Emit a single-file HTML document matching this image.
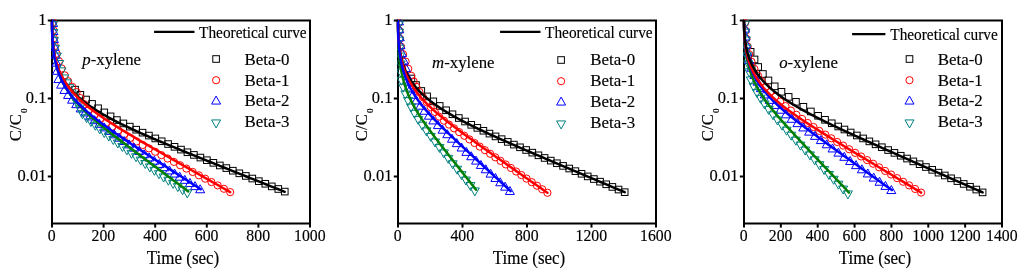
<!DOCTYPE html><html><head><meta charset="utf-8"><style>html,body{margin:0;padding:0;background:#fff;overflow:hidden}svg{display:block}text{-webkit-font-smoothing:antialiased}</style></head><body>
<svg width="1024" height="274" viewBox="0 0 1024 274" style="will-change:transform">
<rect width="1024" height="274" fill="#fff"/>
<clipPath id="c0"><rect x="46" y="20.0" width="270" height="207.0"/></clipPath>
<rect x="52" y="20.5" width="258" height="203.0" fill="none" stroke="#000" stroke-width="2"/>
<clipPath id="m0"><rect x="51" y="19.5" width="260" height="205.0"/></clipPath>
<g clip-path="url(#m0)"><rect x="71.75" y="86.35" width="6.60" height="6.60" fill="none" stroke="#000000" stroke-width="1.0"/><rect x="77.06" y="91.49" width="6.60" height="6.60" fill="none" stroke="#000000" stroke-width="1.0"/><rect x="82.76" y="96.22" width="6.60" height="6.60" fill="none" stroke="#000000" stroke-width="1.0"/><rect x="88.76" y="100.60" width="6.60" height="6.60" fill="none" stroke="#000000" stroke-width="1.0"/><rect x="94.79" y="104.95" width="6.60" height="6.60" fill="none" stroke="#000000" stroke-width="1.0"/><rect x="100.97" y="109.10" width="6.60" height="6.60" fill="none" stroke="#000000" stroke-width="1.0"/><rect x="107.27" y="113.04" width="6.60" height="6.60" fill="none" stroke="#000000" stroke-width="1.0"/><rect x="113.60" y="116.77" width="6.60" height="6.60" fill="none" stroke="#000000" stroke-width="1.0"/><rect x="120.05" y="120.14" width="6.60" height="6.60" fill="none" stroke="#000000" stroke-width="1.0"/><rect x="126.48" y="123.33" width="6.60" height="6.60" fill="none" stroke="#000000" stroke-width="1.0"/><rect x="132.89" y="126.40" width="6.60" height="6.60" fill="none" stroke="#000000" stroke-width="1.0"/><rect x="139.25" y="129.37" width="6.60" height="6.60" fill="none" stroke="#000000" stroke-width="1.0"/><rect x="145.61" y="132.27" width="6.60" height="6.60" fill="none" stroke="#000000" stroke-width="1.0"/><rect x="151.99" y="135.13" width="6.60" height="6.60" fill="none" stroke="#000000" stroke-width="1.0"/><rect x="158.39" y="137.96" width="6.60" height="6.60" fill="none" stroke="#000000" stroke-width="1.0"/><rect x="164.81" y="140.75" width="6.60" height="6.60" fill="none" stroke="#000000" stroke-width="1.0"/><rect x="171.23" y="143.53" width="6.60" height="6.60" fill="none" stroke="#000000" stroke-width="1.0"/><rect x="177.67" y="146.29" width="6.60" height="6.60" fill="none" stroke="#000000" stroke-width="1.0"/><rect x="184.14" y="148.96" width="6.60" height="6.60" fill="none" stroke="#000000" stroke-width="1.0"/><rect x="190.61" y="151.61" width="6.60" height="6.60" fill="none" stroke="#000000" stroke-width="1.0"/><rect x="197.09" y="154.26" width="6.60" height="6.60" fill="none" stroke="#000000" stroke-width="1.0"/><rect x="203.58" y="156.89" width="6.60" height="6.60" fill="none" stroke="#000000" stroke-width="1.0"/><rect x="210.06" y="159.53" width="6.60" height="6.60" fill="none" stroke="#000000" stroke-width="1.0"/><rect x="216.55" y="162.15" width="6.60" height="6.60" fill="none" stroke="#000000" stroke-width="1.0"/><rect x="223.04" y="164.78" width="6.60" height="6.60" fill="none" stroke="#000000" stroke-width="1.0"/><rect x="229.53" y="167.40" width="6.60" height="6.60" fill="none" stroke="#000000" stroke-width="1.0"/><rect x="236.02" y="170.01" width="6.60" height="6.60" fill="none" stroke="#000000" stroke-width="1.0"/><rect x="242.52" y="172.63" width="6.60" height="6.60" fill="none" stroke="#000000" stroke-width="1.0"/><rect x="249.01" y="175.24" width="6.60" height="6.60" fill="none" stroke="#000000" stroke-width="1.0"/><rect x="255.50" y="177.86" width="6.60" height="6.60" fill="none" stroke="#000000" stroke-width="1.0"/><rect x="262.00" y="180.47" width="6.60" height="6.60" fill="none" stroke="#000000" stroke-width="1.0"/><rect x="268.49" y="183.08" width="6.60" height="6.60" fill="none" stroke="#000000" stroke-width="1.0"/><rect x="274.99" y="185.69" width="6.60" height="6.60" fill="none" stroke="#000000" stroke-width="1.0"/><rect x="281.48" y="188.30" width="6.60" height="6.60" fill="none" stroke="#000000" stroke-width="1.0"/><circle cx="53.04" cy="22.21" r="3.6" fill="none" stroke="#ff0000" stroke-width="1.0"/><circle cx="53.34" cy="30.18" r="3.6" fill="none" stroke="#ff0000" stroke-width="1.0"/><circle cx="53.88" cy="38.11" r="3.6" fill="none" stroke="#ff0000" stroke-width="1.0"/><circle cx="54.81" cy="45.99" r="3.6" fill="none" stroke="#ff0000" stroke-width="1.0"/><circle cx="56.58" cy="53.68" r="3.6" fill="none" stroke="#ff0000" stroke-width="1.0"/><circle cx="58.92" cy="61.14" r="3.6" fill="none" stroke="#ff0000" stroke-width="1.0"/><circle cx="61.58" cy="68.37" r="3.6" fill="none" stroke="#ff0000" stroke-width="1.0"/><circle cx="64.74" cy="75.36" r="3.6" fill="none" stroke="#ff0000" stroke-width="1.0"/><circle cx="68.18" cy="81.24" r="3.6" fill="none" stroke="#ff0000" stroke-width="1.0"/><circle cx="72.16" cy="86.79" r="3.6" fill="none" stroke="#ff0000" stroke-width="1.0"/><circle cx="76.61" cy="92.02" r="3.6" fill="none" stroke="#ff0000" stroke-width="1.0"/><circle cx="80.39" cy="98.05" r="3.6" fill="none" stroke="#ff0000" stroke-width="1.0"/><circle cx="84.39" cy="104.16" r="3.6" fill="none" stroke="#ff0000" stroke-width="1.0"/><circle cx="88.58" cy="110.34" r="3.6" fill="none" stroke="#ff0000" stroke-width="1.0"/><circle cx="94.31" cy="114.68" r="3.6" fill="none" stroke="#ff0000" stroke-width="1.0"/><circle cx="100.16" cy="118.82" r="3.6" fill="none" stroke="#ff0000" stroke-width="1.0"/><circle cx="106.10" cy="122.82" r="3.6" fill="none" stroke="#ff0000" stroke-width="1.0"/><circle cx="112.10" cy="126.69" r="3.6" fill="none" stroke="#ff0000" stroke-width="1.0"/><circle cx="118.14" cy="130.47" r="3.6" fill="none" stroke="#ff0000" stroke-width="1.0"/><circle cx="124.22" cy="134.18" r="3.6" fill="none" stroke="#ff0000" stroke-width="1.0"/><circle cx="130.33" cy="137.84" r="3.6" fill="none" stroke="#ff0000" stroke-width="1.0"/><circle cx="136.45" cy="141.46" r="3.6" fill="none" stroke="#ff0000" stroke-width="1.0"/><circle cx="142.64" cy="144.96" r="3.6" fill="none" stroke="#ff0000" stroke-width="1.0"/><circle cx="148.88" cy="148.37" r="3.6" fill="none" stroke="#ff0000" stroke-width="1.0"/><circle cx="155.13" cy="151.76" r="3.6" fill="none" stroke="#ff0000" stroke-width="1.0"/><circle cx="161.38" cy="155.14" r="3.6" fill="none" stroke="#ff0000" stroke-width="1.0"/><circle cx="167.63" cy="158.51" r="3.6" fill="none" stroke="#ff0000" stroke-width="1.0"/><circle cx="173.89" cy="161.88" r="3.6" fill="none" stroke="#ff0000" stroke-width="1.0"/><circle cx="180.14" cy="165.24" r="3.6" fill="none" stroke="#ff0000" stroke-width="1.0"/><circle cx="186.40" cy="168.59" r="3.6" fill="none" stroke="#ff0000" stroke-width="1.0"/><circle cx="192.66" cy="171.95" r="3.6" fill="none" stroke="#ff0000" stroke-width="1.0"/><circle cx="198.92" cy="175.31" r="3.6" fill="none" stroke="#ff0000" stroke-width="1.0"/><circle cx="205.17" cy="178.68" r="3.6" fill="none" stroke="#ff0000" stroke-width="1.0"/><circle cx="211.43" cy="182.04" r="3.6" fill="none" stroke="#ff0000" stroke-width="1.0"/><circle cx="217.68" cy="185.40" r="3.6" fill="none" stroke="#ff0000" stroke-width="1.0"/><circle cx="223.94" cy="188.76" r="3.6" fill="none" stroke="#ff0000" stroke-width="1.0"/><circle cx="230.20" cy="192.13" r="3.6" fill="none" stroke="#ff0000" stroke-width="1.0"/><polygon points="53.08,18.55 57.58,26.55 48.58,26.55" fill="none" stroke="#0000ff" stroke-width="1.0"/><polygon points="53.39,26.51 57.89,34.51 48.89,34.51" fill="none" stroke="#0000ff" stroke-width="1.0"/><polygon points="53.90,34.46 58.40,42.46 49.40,42.46" fill="none" stroke="#0000ff" stroke-width="1.0"/><polygon points="54.67,42.36 59.17,50.36 50.17,50.36" fill="none" stroke="#0000ff" stroke-width="1.0"/><polygon points="55.72,50.20 60.22,58.20 51.22,58.20" fill="none" stroke="#0000ff" stroke-width="1.0"/><polygon points="56.54,58.11 61.04,66.11 52.04,66.11" fill="none" stroke="#0000ff" stroke-width="1.0"/><polygon points="57.04,66.31 61.54,74.31 52.54,74.31" fill="none" stroke="#0000ff" stroke-width="1.0"/><polygon points="58.40,74.59 62.90,82.59 53.90,82.59" fill="none" stroke="#0000ff" stroke-width="1.0"/><polygon points="61.15,80.17 65.65,88.17 56.65,88.17" fill="none" stroke="#0000ff" stroke-width="1.0"/><polygon points="64.44,85.45 68.94,93.45 59.94,93.45" fill="none" stroke="#0000ff" stroke-width="1.0"/><polygon points="68.09,90.45 72.59,98.45 63.59,98.45" fill="none" stroke="#0000ff" stroke-width="1.0"/><polygon points="72.04,95.19 76.54,103.19 67.54,103.19" fill="none" stroke="#0000ff" stroke-width="1.0"/><polygon points="76.24,99.67 80.74,107.67 71.74,107.67" fill="none" stroke="#0000ff" stroke-width="1.0"/><polygon points="80.64,103.92 85.14,111.92 76.14,111.92" fill="none" stroke="#0000ff" stroke-width="1.0"/><polygon points="85.18,107.98 89.68,115.98 80.68,115.98" fill="none" stroke="#0000ff" stroke-width="1.0"/><polygon points="89.83,111.90 94.33,119.90 85.33,119.90" fill="none" stroke="#0000ff" stroke-width="1.0"/><polygon points="94.57,115.67 99.07,123.67 90.07,123.67" fill="none" stroke="#0000ff" stroke-width="1.0"/><polygon points="99.39,119.33 103.89,127.33 94.89,127.33" fill="none" stroke="#0000ff" stroke-width="1.0"/><polygon points="104.27,122.89 108.77,130.89 99.77,130.89" fill="none" stroke="#0000ff" stroke-width="1.0"/><polygon points="109.19,126.38 113.69,134.38 104.69,134.38" fill="none" stroke="#0000ff" stroke-width="1.0"/><polygon points="114.14,129.81 118.64,137.81 109.64,137.81" fill="none" stroke="#0000ff" stroke-width="1.0"/><polygon points="119.11,133.19 123.61,141.19 114.61,141.19" fill="none" stroke="#0000ff" stroke-width="1.0"/><polygon points="124.11,136.54 128.61,144.54 119.61,144.54" fill="none" stroke="#0000ff" stroke-width="1.0"/><polygon points="129.12,139.86 133.62,147.86 124.62,147.86" fill="none" stroke="#0000ff" stroke-width="1.0"/><polygon points="134.14,143.16 138.64,151.16 129.64,151.16" fill="none" stroke="#0000ff" stroke-width="1.0"/><polygon points="139.16,146.45 143.66,154.45 134.66,154.45" fill="none" stroke="#0000ff" stroke-width="1.0"/><polygon points="144.20,149.72 148.70,157.72 139.70,157.72" fill="none" stroke="#0000ff" stroke-width="1.0"/><polygon points="149.24,152.98 153.74,160.98 144.74,160.98" fill="none" stroke="#0000ff" stroke-width="1.0"/><polygon points="154.28,156.24 158.78,164.24 149.78,164.24" fill="none" stroke="#0000ff" stroke-width="1.0"/><polygon points="159.32,159.49 163.82,167.49 154.82,167.49" fill="none" stroke="#0000ff" stroke-width="1.0"/><polygon points="164.37,162.74 168.87,170.74 159.87,170.74" fill="none" stroke="#0000ff" stroke-width="1.0"/><polygon points="169.45,165.93 173.95,173.93 164.95,173.93" fill="none" stroke="#0000ff" stroke-width="1.0"/><polygon points="174.57,169.07 179.07,177.07 170.07,177.07" fill="none" stroke="#0000ff" stroke-width="1.0"/><polygon points="179.69,172.20 184.19,180.20 175.19,180.20" fill="none" stroke="#0000ff" stroke-width="1.0"/><polygon points="184.81,175.34 189.31,183.34 180.31,183.34" fill="none" stroke="#0000ff" stroke-width="1.0"/><polygon points="189.92,178.48 194.42,186.48 185.42,186.48" fill="none" stroke="#0000ff" stroke-width="1.0"/><polygon points="195.04,181.61 199.54,189.61 190.54,189.61" fill="none" stroke="#0000ff" stroke-width="1.0"/><polygon points="200.16,184.75 204.66,192.75 195.66,192.75" fill="none" stroke="#0000ff" stroke-width="1.0"/><polygon points="53.09,29.58 57.59,21.58 48.59,21.58" fill="none" stroke="#008080" stroke-width="1.0"/><polygon points="53.41,37.54 57.91,29.54 48.91,29.54" fill="none" stroke="#008080" stroke-width="1.0"/><polygon points="53.95,45.48 58.45,37.48 49.45,37.48" fill="none" stroke="#008080" stroke-width="1.0"/><polygon points="55.01,53.35 59.51,45.35 50.51,45.35" fill="none" stroke="#008080" stroke-width="1.0"/><polygon points="56.88,61.04 61.38,53.04 52.38,53.04" fill="none" stroke="#008080" stroke-width="1.0"/><polygon points="59.23,68.49 63.73,60.49 54.73,60.49" fill="none" stroke="#008080" stroke-width="1.0"/><polygon points="61.51,75.84 66.01,67.84 57.01,67.84" fill="none" stroke="#008080" stroke-width="1.0"/><polygon points="64.33,82.96 68.83,74.96 59.83,74.96" fill="none" stroke="#008080" stroke-width="1.0"/><polygon points="66.76,87.85 71.26,79.85 62.26,79.85" fill="none" stroke="#008080" stroke-width="1.0"/><polygon points="69.35,92.68 73.85,84.68 64.85,84.68" fill="none" stroke="#008080" stroke-width="1.0"/><polygon points="71.61,97.81 76.11,89.81 67.11,89.81" fill="none" stroke="#008080" stroke-width="1.0"/><polygon points="74.22,102.87 78.72,94.87 69.72,94.87" fill="none" stroke="#008080" stroke-width="1.0"/><polygon points="77.12,107.83 81.62,99.83 72.62,99.83" fill="none" stroke="#008080" stroke-width="1.0"/><polygon points="79.78,113.17 84.28,105.17 75.28,105.17" fill="none" stroke="#008080" stroke-width="1.0"/><polygon points="82.46,118.67 86.96,110.67 77.96,110.67" fill="none" stroke="#008080" stroke-width="1.0"/><polygon points="86.62,122.70 91.12,114.70 82.12,114.70" fill="none" stroke="#008080" stroke-width="1.0"/><polygon points="90.95,126.53 95.45,118.53 86.45,118.53" fill="none" stroke="#008080" stroke-width="1.0"/><polygon points="95.34,130.26 99.84,122.26 90.84,122.26" fill="none" stroke="#008080" stroke-width="1.0"/><polygon points="99.78,133.90 104.28,125.90 95.28,125.90" fill="none" stroke="#008080" stroke-width="1.0"/><polygon points="104.26,137.49 108.76,129.49 99.76,129.49" fill="none" stroke="#008080" stroke-width="1.0"/><polygon points="108.77,141.03 113.27,133.03 104.27,133.03" fill="none" stroke="#008080" stroke-width="1.0"/><polygon points="113.29,144.52 117.79,136.52 108.79,136.52" fill="none" stroke="#008080" stroke-width="1.0"/><polygon points="117.84,147.99 122.34,139.99 113.34,139.99" fill="none" stroke="#008080" stroke-width="1.0"/><polygon points="122.39,151.44 126.89,143.44 117.89,143.44" fill="none" stroke="#008080" stroke-width="1.0"/><polygon points="126.95,154.88 131.45,146.88 122.45,146.88" fill="none" stroke="#008080" stroke-width="1.0"/><polygon points="131.52,158.30 136.02,150.30 127.02,150.30" fill="none" stroke="#008080" stroke-width="1.0"/><polygon points="136.09,161.71 140.59,153.71 131.59,153.71" fill="none" stroke="#008080" stroke-width="1.0"/><polygon points="140.67,165.11 145.17,157.11 136.17,157.11" fill="none" stroke="#008080" stroke-width="1.0"/><polygon points="145.25,168.51 149.75,160.51 140.75,160.51" fill="none" stroke="#008080" stroke-width="1.0"/><polygon points="149.83,171.91 154.33,163.91 145.33,163.91" fill="none" stroke="#008080" stroke-width="1.0"/><polygon points="154.41,175.30 158.91,167.30 149.91,167.30" fill="none" stroke="#008080" stroke-width="1.0"/><polygon points="158.99,178.69 163.49,170.69 154.49,170.69" fill="none" stroke="#008080" stroke-width="1.0"/><polygon points="163.63,182.00 168.13,174.00 159.13,174.00" fill="none" stroke="#008080" stroke-width="1.0"/><polygon points="168.36,185.19 172.86,177.19 163.86,177.19" fill="none" stroke="#008080" stroke-width="1.0"/><polygon points="173.10,188.38 177.60,180.38 168.60,180.38" fill="none" stroke="#008080" stroke-width="1.0"/><polygon points="177.83,191.57 182.33,183.57 173.33,183.57" fill="none" stroke="#008080" stroke-width="1.0"/><polygon points="182.56,194.76 187.06,186.76 178.06,186.76" fill="none" stroke="#008080" stroke-width="1.0"/><polygon points="187.30,197.95 191.80,189.95 182.80,189.95" fill="none" stroke="#008080" stroke-width="1.0"/></g>
<g clip-path="url(#c0)"><polyline points="52.00,20.50 52.01,23.75 52.03,25.05 52.04,26.04 52.05,26.85 52.07,27.56 52.08,28.20 52.09,28.78 52.11,29.31 52.12,29.81 52.13,30.28 52.15,30.72 52.16,31.14 52.17,31.54 52.19,31.92 52.20,32.29 52.21,32.64 52.22,32.98 52.24,33.31 52.25,33.63 52.26,33.93 52.28,34.23 52.29,34.52 52.30,34.81 52.32,35.08 52.33,35.35 52.34,35.61 52.36,35.87 52.37,36.12 52.38,36.36 52.40,36.60 52.41,36.84 52.42,37.07 52.44,37.29 52.45,37.51 52.46,37.73 52.48,37.94 52.49,38.15 52.50,38.36 52.52,38.56 52.52,38.64 52.53,38.72 52.53,38.80 52.54,38.89 52.54,38.97 52.55,39.05 52.55,39.13 52.56,39.21 52.57,39.30 52.57,39.38 52.58,39.46 52.58,39.55 52.59,39.63 52.60,39.71 52.60,39.80 52.61,39.88 52.61,39.97 52.62,40.06 52.63,40.14 52.63,40.23 52.64,40.31 52.65,40.40 52.65,40.49 52.66,40.58 52.67,40.66 52.67,40.75 52.68,40.84 52.69,40.93 52.69,41.02 52.70,41.11 52.71,41.20 52.72,41.29 52.72,41.38 52.73,41.47 52.74,41.56 52.75,41.65 52.75,41.74 52.76,41.83 52.77,41.93 52.78,42.02 52.78,42.11 52.79,42.20 52.80,42.30 52.81,42.39 52.82,42.49 52.83,42.58 52.83,42.68 52.84,42.77 52.85,42.87 52.86,42.96 52.87,43.06 52.88,43.16 52.89,43.25 52.90,43.35 52.90,43.45 52.91,43.55 52.92,43.64 52.93,43.74 52.94,43.84 52.95,43.94 52.96,44.04 52.97,44.14 52.98,44.24 52.99,44.34 53.00,44.44 53.01,44.55 53.02,44.65 53.03,44.75 53.04,44.85 53.05,44.95 53.06,45.06 53.08,45.16 53.09,45.27 53.10,45.37 53.11,45.47 53.12,45.58 53.13,45.68 53.14,45.79 53.16,45.90 53.17,46.00 53.18,46.11 53.19,46.22 53.20,46.32 53.22,46.43 53.23,46.54 53.24,46.65 53.25,46.76 53.27,46.87 53.28,46.98 53.29,47.09 53.31,47.20 53.32,47.31 53.33,47.42 53.35,47.53 53.36,47.64 53.37,47.75 53.39,47.86 53.40,47.98 53.42,48.09 53.43,48.20 53.45,48.32 53.46,48.43 53.48,48.55 53.49,48.66 53.51,48.78 53.52,48.89 53.54,49.01 53.55,49.13 53.57,49.24 53.59,49.36 53.60,49.48 53.62,49.59 53.63,49.71 53.65,49.83 53.67,49.95 53.69,50.07 53.70,50.19 53.72,50.31 53.74,50.43 53.76,50.55 53.77,50.67 53.79,50.79 53.81,50.92 53.83,51.04 53.85,51.16 53.87,51.28 53.89,51.41 53.90,51.53 53.92,51.66 53.94,51.78 53.96,51.91 53.98,52.03 54.00,52.16 54.02,52.28 54.05,52.41 54.07,52.54 54.09,52.66 54.11,52.79 54.13,52.92 54.15,53.05 54.17,53.18 54.20,53.30 54.22,53.43 54.24,53.56 54.27,53.69 54.29,53.82 54.31,53.96 54.34,54.09 54.36,54.22 54.38,54.35 54.41,54.48 54.43,54.62 54.46,54.75 54.48,54.88 54.51,55.02 54.53,55.15 54.56,55.29 54.59,55.42 54.61,55.56 54.64,55.69 54.67,55.83 54.69,55.97 54.72,56.10 54.75,56.24 54.78,56.38 54.81,56.52 54.84,56.65 54.86,56.79 54.89,56.93 54.92,57.07 54.95,57.21 54.98,57.35 55.01,57.49 55.05,57.64 55.08,57.78 55.11,57.92 55.14,58.06 55.17,58.21 55.20,58.35 55.24,58.49 55.27,58.64 55.30,58.78 55.34,58.93 55.37,59.07 55.41,59.22 55.44,59.36 55.48,59.51 55.51,59.66 55.55,59.80 55.59,59.95 55.62,60.10 55.66,60.25 55.70,60.39 55.73,60.54 55.77,60.69 55.81,60.84 55.85,60.99 55.89,61.14 55.93,61.30 55.97,61.45 56.01,61.60 56.05,61.75 56.09,61.90 56.14,62.06 56.18,62.21 56.22,62.36 56.26,62.52 56.31,62.67 56.35,62.83 56.40,62.98 56.44,63.14 56.49,63.29 56.53,63.45 56.58,63.61 56.63,63.77 56.67,63.92 56.72,64.08 56.77,64.24 56.82,64.40 56.87,64.56 56.92,64.72 56.97,64.88 57.02,65.04 57.07,65.20 57.12,65.36 57.18,65.52 57.23,65.69 57.28,65.85 57.34,66.01 57.39,66.17 57.45,66.34 57.50,66.50 57.56,66.67 57.62,66.83 57.67,67.00 57.73,67.16 57.79,67.33 57.85,67.50 57.91,67.66 57.97,67.83 58.03,68.00 58.09,68.17 58.16,68.34 58.22,68.50 58.28,68.67 58.35,68.84 58.41,69.01 58.48,69.18 58.55,69.36 58.61,69.53 58.68,69.70 58.75,69.87 58.82,70.04 58.89,70.22 58.96,70.39 59.03,70.56 59.10,70.74 59.18,70.91 59.25,71.09 59.32,71.26 59.40,71.44 59.47,71.62 59.55,71.79 59.63,71.97 59.71,72.15 59.79,72.33 59.87,72.51 59.95,72.68 60.03,72.86 60.11,73.04 60.19,73.22 60.28,73.41 60.36,73.59 60.45,73.77 60.53,73.95 60.62,74.13 60.71,74.32 60.80,74.50 60.89,74.68 60.98,74.87 61.07,75.05 61.17,75.24 61.26,75.42 61.35,75.61 61.45,75.79 61.55,75.98 61.65,76.17 61.74,76.35 61.84,76.54 61.95,76.73 62.05,76.92 62.15,77.11 62.25,77.30 62.36,77.49 62.47,77.68 62.57,77.87 62.68,78.06 62.79,78.26 62.90,78.45 63.01,78.64 63.13,78.83 63.24,79.03 63.36,79.22 63.47,79.42 63.59,79.61 63.71,79.81 63.83,80.00 63.95,80.20 64.07,80.40 64.20,80.60 64.32,80.79 64.45,80.99 64.58,81.19 64.70,81.39 64.84,81.59 64.97,81.79 65.10,81.99 65.23,82.19 65.37,82.40 65.51,82.60 65.65,82.80 65.79,83.00 65.93,83.21 66.07,83.41 66.21,83.62 66.36,83.82 66.51,84.03 66.66,84.23 66.81,84.44 66.96,84.65 67.11,84.86 67.27,85.06 67.42,85.27 67.58,85.48 67.74,85.69 67.90,85.90 68.07,86.11 68.23,86.32 68.40,86.54 68.56,86.75 68.73,86.96 68.91,87.18 69.08,87.39 69.25,87.60 69.43,87.82 69.61,88.03 69.79,88.25 69.97,88.47 70.16,88.68 70.34,88.90 70.53,89.12 70.72,89.34 70.91,89.56 71.11,89.78 71.30,90.00 71.50,90.22 71.70,90.44 71.90,90.66 72.11,90.89 72.31,91.11 72.52,91.34 72.73,91.56 72.95,91.79 73.16,92.01 73.38,92.24 73.60,92.46 73.82,92.69 74.04,92.92 74.27,93.15 74.50,93.38 74.73,93.61 74.96,93.84 75.20,94.07 75.43,94.30 75.67,94.54 75.92,94.77 76.16,95.00 76.41,95.24 76.66,95.47 76.91,95.71 77.17,95.95 77.43,96.18 77.69,96.42 77.95,96.66 78.22,96.90 78.49,97.14 78.76,97.38 79.03,97.62 79.31,97.86 79.59,98.11 79.87,98.35 80.16,98.59 80.45,98.84 80.74,99.08 81.03,99.33 81.33,99.58 81.63,99.83 81.93,100.07 82.24,100.32 82.55,100.57 82.86,100.82 83.18,101.08 83.50,101.33 83.82,101.58 84.15,101.84 84.48,102.09 84.81,102.35 85.15,102.60 85.49,102.86 85.83,103.12 86.18,103.38 86.53,103.64 86.88,103.90 87.24,104.16 87.60,104.42 87.97,104.69 88.34,104.95 88.71,105.22 89.09,105.48 89.47,105.75 89.85,106.02 90.24,106.29 90.63,106.56 91.03,106.83 91.43,107.10 91.83,107.37 92.24,107.65 92.65,107.92 93.07,108.20 93.49,108.47 93.92,108.75 94.35,109.03 94.78,109.31 95.22,109.59 95.66,109.87 96.11,110.16 96.56,110.44 97.02,110.73 97.48,111.01 97.95,111.30 98.42,111.59 98.90,111.88 99.38,112.17 99.86,112.46 100.35,112.76 100.85,113.05 101.35,113.35 101.86,113.64 102.37,113.94 102.88,114.24 103.41,114.54 103.93,114.84 104.47,115.15 105.00,115.45 105.55,115.76 106.10,116.07 106.65,116.38 107.21,116.69 107.78,117.00 108.35,117.31 108.93,117.63 109.51,117.94 110.10,118.26 110.70,118.58 111.30,118.90 111.91,119.22 112.52,119.54 113.14,119.87 113.77,120.20 114.40,120.53 115.04,120.86 115.69,121.19 116.34,121.52 117.00,121.86 117.67,122.19 118.34,122.53 119.02,122.87 119.71,123.22 120.40,123.56 121.11,123.91 121.81,124.26 122.53,124.61 123.25,124.96 123.98,125.31 124.72,125.67 125.47,126.03 126.22,126.39 126.98,126.75 127.75,127.11 128.53,127.48 129.31,127.85 130.11,128.22 130.91,128.59 131.72,128.97 132.53,129.35 133.36,129.73 134.19,130.11 135.04,130.50 135.89,130.88 136.75,131.27 137.62,131.67 138.50,132.06 139.38,132.46 140.28,132.86 141.18,133.27 142.10,133.67 143.02,134.08 143.96,134.50 144.90,134.91 145.85,135.33 146.81,135.75 147.79,136.17 148.77,136.60 149.76,137.03 150.76,137.47 151.78,137.90 152.80,138.34 153.83,138.79 154.88,139.23 155.93,139.69 157.00,140.14 158.07,140.60 159.16,141.06 160.26,141.52 161.37,141.99 162.49,142.46 163.63,142.94 164.77,143.42 165.93,143.91 167.10,144.39 168.28,144.89 169.47,145.38 170.67,145.88 171.89,146.39 173.12,146.90 174.36,147.41 175.62,147.93 176.88,148.45 178.16,148.98 179.46,149.51 180.77,150.05 182.09,150.59 183.42,151.14 184.77,151.69 186.13,152.24 187.51,152.81 188.89,153.37 190.30,153.94 191.72,154.52 193.15,155.10 194.60,155.69 196.06,156.28 197.54,156.88 199.03,157.49 200.54,158.10 202.06,158.71 203.60,159.34 205.15,159.96 206.72,160.60 208.31,161.24 209.91,161.88 211.53,162.53 213.17,163.19 214.82,163.86 216.49,164.53 218.18,165.21 219.88,165.89 221.60,166.58 223.34,167.28 225.10,167.99 226.88,168.70 228.67,169.42 230.48,170.14 232.31,170.88 234.16,171.62 236.03,172.36 237.92,173.12 239.82,173.88 241.75,174.65 243.69,175.43 245.66,176.22 247.65,177.01 249.65,177.81 251.68,178.62 253.73,179.44 255.80,180.27 257.89,181.10 260.00,181.95 262.13,182.80 264.28,183.66 266.46,184.53 268.66,185.41 270.88,186.29 273.13,187.19 275.39,188.09 277.69,189.01 280.00,189.93 282.34,190.86 284.70,191.81" fill="none" stroke="#000000" stroke-width="2.5" stroke-linejoin="round" stroke-linecap="round"/><polyline points="52.00,20.50 52.01,23.94 52.03,25.32 52.04,26.36 52.05,27.22 52.07,27.97 52.08,28.65 52.09,29.26 52.11,29.83 52.12,30.35 52.13,30.85 52.15,31.32 52.16,31.76 52.17,32.18 52.19,32.59 52.20,32.97 52.21,33.35 52.22,33.71 52.24,34.05 52.25,34.39 52.26,34.72 52.28,35.03 52.29,35.34 52.30,35.64 52.32,35.93 52.33,36.21 52.34,36.49 52.36,36.76 52.37,37.03 52.38,37.29 52.40,37.54 52.41,37.79 52.42,38.03 52.44,38.27 52.45,38.50 52.46,38.74 52.48,38.96 52.49,39.18 52.50,39.40 52.52,39.62 52.52,39.70 52.53,39.77 52.53,39.85 52.54,39.93 52.54,40.01 52.55,40.09 52.55,40.17 52.56,40.25 52.56,40.33 52.57,40.41 52.57,40.49 52.58,40.57 52.58,40.65 52.59,40.73 52.59,40.81 52.60,40.89 52.60,40.97 52.61,41.06 52.62,41.14 52.62,41.22 52.63,41.30 52.63,41.39 52.64,41.47 52.65,41.56 52.65,41.64 52.66,41.72 52.66,41.81 52.67,41.89 52.68,41.98 52.68,42.07 52.69,42.15 52.70,42.24 52.70,42.32 52.71,42.41 52.71,42.50 52.72,42.59 52.73,42.67 52.73,42.76 52.74,42.85 52.75,42.94 52.76,43.03 52.76,43.12 52.77,43.21 52.78,43.30 52.78,43.39 52.79,43.48 52.80,43.57 52.81,43.66 52.81,43.75 52.82,43.84 52.83,43.93 52.84,44.02 52.85,44.12 52.85,44.21 52.86,44.30 52.87,44.40 52.88,44.49 52.89,44.58 52.89,44.68 52.90,44.77 52.91,44.87 52.92,44.96 52.93,45.06 52.94,45.15 52.94,45.25 52.95,45.35 52.96,45.44 52.97,45.54 52.98,45.64 52.99,45.73 53.00,45.83 53.01,45.93 53.02,46.03 53.03,46.13 53.04,46.23 53.05,46.33 53.06,46.43 53.07,46.53 53.08,46.63 53.09,46.73 53.10,46.83 53.11,46.93 53.12,47.03 53.13,47.13 53.14,47.24 53.15,47.34 53.16,47.44 53.17,47.54 53.18,47.65 53.19,47.75 53.20,47.86 53.21,47.96 53.23,48.07 53.24,48.17 53.25,48.28 53.26,48.38 53.27,48.49 53.28,48.60 53.30,48.70 53.31,48.81 53.32,48.92 53.33,49.02 53.35,49.13 53.36,49.24 53.37,49.35 53.38,49.46 53.40,49.57 53.41,49.68 53.42,49.79 53.44,49.90 53.45,50.01 53.46,50.12 53.48,50.23 53.49,50.34 53.51,50.46 53.52,50.57 53.53,50.68 53.55,50.79 53.56,50.91 53.58,51.02 53.59,51.13 53.61,51.25 53.62,51.36 53.64,51.48 53.65,51.59 53.67,51.71 53.68,51.83 53.70,51.94 53.71,52.06 53.73,52.18 53.75,52.29 53.76,52.41 53.78,52.53 53.80,52.65 53.81,52.77 53.83,52.89 53.85,53.01 53.86,53.13 53.88,53.25 53.90,53.37 53.92,53.49 53.94,53.61 53.95,53.73 53.97,53.85 53.99,53.97 54.01,54.10 54.03,54.22 54.05,54.34 54.07,54.47 54.08,54.59 54.10,54.71 54.12,54.84 54.14,54.96 54.16,55.09 54.18,55.21 54.20,55.34 54.23,55.47 54.25,55.59 54.27,55.72 54.29,55.85 54.31,55.98 54.33,56.10 54.35,56.23 54.37,56.36 54.40,56.49 54.42,56.62 54.44,56.75 54.46,56.88 54.49,57.01 54.51,57.14 54.53,57.27 54.56,57.41 54.58,57.54 54.61,57.67 54.63,57.80 54.66,57.94 54.68,58.07 54.71,58.20 54.73,58.34 54.76,58.47 54.78,58.61 54.81,58.74 54.83,58.88 54.86,59.01 54.89,59.15 54.91,59.29 54.94,59.42 54.97,59.56 55.00,59.70 55.03,59.84 55.05,59.98 55.08,60.12 55.11,60.26 55.14,60.39 55.17,60.54 55.20,60.68 55.23,60.82 55.26,60.96 55.29,61.10 55.32,61.24 55.35,61.38 55.38,61.53 55.41,61.67 55.45,61.81 55.48,61.96 55.51,62.10 55.54,62.25 55.58,62.39 55.61,62.54 55.64,62.68 55.68,62.83 55.71,62.97 55.75,63.12 55.78,63.27 55.82,63.42 55.85,63.56 55.89,63.71 55.93,63.86 55.96,64.01 56.00,64.16 56.04,64.31 56.07,64.46 56.11,64.61 56.15,64.76 56.19,64.91 56.23,65.06 56.27,65.22 56.31,65.37 56.35,65.52 56.39,65.68 56.43,65.83 56.47,65.98 56.51,66.14 56.56,66.29 56.60,66.45 56.64,66.60 56.69,66.76 56.73,66.92 56.77,67.07 56.82,67.23 56.86,67.39 56.91,67.55 56.95,67.71 57.00,67.86 57.05,68.02 57.09,68.18 57.14,68.34 57.19,68.50 57.24,68.66 57.29,68.83 57.34,68.99 57.39,69.15 57.44,69.31 57.49,69.48 57.54,69.64 57.59,69.80 57.64,69.97 57.70,70.13 57.75,70.30 57.80,70.46 57.86,70.63 57.91,70.79 57.97,70.96 58.02,71.13 58.08,71.30 58.14,71.46 58.19,71.63 58.25,71.80 58.31,71.97 58.37,72.14 58.43,72.31 58.49,72.48 58.55,72.65 58.61,72.82 58.67,72.99 58.74,73.17 58.80,73.34 58.86,73.51 58.93,73.69 58.99,73.86 59.06,74.04 59.12,74.21 59.19,74.39 59.26,74.56 59.32,74.74 59.39,74.91 59.46,75.09 59.53,75.27 59.60,75.45 59.67,75.63 59.75,75.80 59.82,75.98 59.89,76.16 59.96,76.34 60.04,76.52 60.11,76.71 60.19,76.89 60.27,77.07 60.34,77.25 60.42,77.44 60.50,77.62 60.58,77.80 60.66,77.99 60.74,78.17 60.82,78.36 60.91,78.54 60.99,78.73 61.07,78.92 61.16,79.10 61.24,79.29 61.33,79.48 61.42,79.67 61.51,79.86 61.59,80.05 61.68,80.24 61.77,80.43 61.87,80.62 61.96,80.81 62.05,81.01 62.15,81.20 62.24,81.39 62.34,81.59 62.43,81.78 62.53,81.98 62.63,82.17 62.73,82.37 62.83,82.56 62.93,82.76 63.03,82.96 63.14,83.16 63.24,83.36 63.34,83.55 63.45,83.75 63.56,83.95 63.67,84.15 63.78,84.36 63.89,84.56 64.00,84.76 64.11,84.96 64.22,85.17 64.34,85.37 64.45,85.58 64.57,85.78 64.69,85.99 64.80,86.19 64.92,86.40 65.04,86.61 65.17,86.82 65.29,87.03 65.41,87.23 65.54,87.44 65.67,87.65 65.79,87.87 65.92,88.08 66.05,88.29 66.18,88.50 66.32,88.72 66.45,88.93 66.59,89.15 66.72,89.36 66.86,89.58 67.00,89.79 67.14,90.01 67.28,90.23 67.42,90.45 67.57,90.67 67.71,90.89 67.86,91.11 68.01,91.33 68.16,91.55 68.31,91.77 68.46,92.00 68.62,92.22 68.77,92.45 68.93,92.67 69.09,92.90 69.25,93.12 69.41,93.35 69.57,93.58 69.74,93.81 69.90,94.04 70.07,94.27 70.24,94.50 70.41,94.73 70.58,94.97 70.75,95.20 70.93,95.43 71.11,95.67 71.29,95.90 71.47,96.14 71.65,96.38 71.83,96.62 72.02,96.86 72.20,97.09 72.39,97.34 72.58,97.58 72.78,97.82 72.97,98.06 73.17,98.31 73.36,98.55 73.56,98.80 73.77,99.04 73.97,99.29 74.18,99.54 74.38,99.79 74.59,100.04 74.80,100.29 75.02,100.54 75.23,100.79 75.45,101.05 75.67,101.30 75.89,101.56 76.11,101.81 76.34,102.07 76.57,102.33 76.80,102.59 77.03,102.85 77.26,103.11 77.50,103.37 77.74,103.64 77.98,103.90 78.22,104.17 78.47,104.43 78.71,104.70 78.96,104.97 79.21,105.24 79.47,105.51 79.73,105.78 79.99,106.06 80.25,106.33 80.51,106.61 80.78,106.88 81.05,107.16 81.32,107.44 81.59,107.72 81.87,108.00 82.15,108.28 82.43,108.57 82.72,108.85 83.00,109.14 83.29,109.43 83.59,109.72 83.88,110.01 84.18,110.30 84.48,110.59 84.78,110.88 85.09,111.18 85.40,111.48 85.71,111.78 86.03,112.08 86.35,112.38 86.67,112.68 86.99,112.99 87.32,113.29 87.65,113.60 87.98,113.91 88.32,114.22 88.66,114.53 89.00,114.84 89.35,115.16 89.70,115.48 90.05,115.80 90.40,116.12 90.76,116.44 91.13,116.76 91.49,117.09 91.86,117.41 92.23,117.74 92.61,118.08 92.99,118.41 93.37,118.74 93.76,119.08 94.15,119.42 94.55,119.76 94.94,120.10 95.34,120.45 95.75,120.79 96.16,121.14 96.57,121.49 96.99,121.85 97.41,122.20 97.83,122.56 98.26,122.92 98.70,123.28 99.13,123.64 99.57,124.01 100.02,124.38 100.47,124.75 100.92,125.12 101.38,125.50 101.84,125.88 102.31,126.26 102.78,126.64 103.25,127.03 103.73,127.42 104.21,127.81 104.70,128.20 105.20,128.60 105.69,129.00 106.19,129.40 106.70,129.81 107.21,130.21 107.73,130.63 108.25,131.04 108.78,131.46 109.31,131.88 109.84,132.30 110.38,132.73 110.93,133.16 111.48,133.59 112.04,134.02 112.60,134.46 113.17,134.91 113.74,135.35 114.32,135.80 114.90,136.26 115.49,136.71 116.08,137.17 116.68,137.64 117.28,138.10 117.90,138.57 118.51,139.05 119.13,139.53 119.76,140.01 120.39,140.50 121.03,140.99 121.68,141.48 122.33,141.98 122.99,142.48 123.65,142.99 124.32,143.50 125.00,144.02 125.68,144.54 126.37,145.06 127.07,145.59 127.77,146.12 128.48,146.66 129.19,147.20 129.91,147.75 130.64,148.30 131.38,148.86 132.12,149.42 132.87,149.99 133.63,150.56 134.39,151.13 135.16,151.72 135.94,152.30 136.72,152.89 137.52,153.49 138.32,154.09 139.12,154.70 139.94,155.31 140.76,155.93 141.59,156.55 142.43,157.18 143.27,157.82 144.13,158.46 144.99,159.11 145.86,159.76 146.74,160.42 147.62,161.08 148.52,161.75 149.42,162.43 150.33,163.11 151.25,163.80 152.18,164.49 153.11,165.20 154.06,165.90 155.01,166.62 155.98,167.34 156.95,168.07 157.93,168.80 158.92,169.54 159.92,170.29 160.93,171.04 161.95,171.80 162.98,172.57 164.02,173.35 165.06,174.13 166.12,174.92 167.19,175.72 168.27,176.52 169.35,177.33 170.45,178.15 171.56,178.98 172.68,179.82 173.81,180.66 174.94,181.51 176.09,182.37 177.25,183.23 178.43,184.11 179.61,184.99 180.80,185.88 182.01,186.78 183.22,187.69 184.45,188.61 185.69,189.53 186.94,190.46 188.20,191.40" fill="none" stroke="#008000" stroke-width="2.5" stroke-linejoin="round" stroke-linecap="round"/><polyline points="52.00,20.50 52.01,23.62 52.03,24.87 52.04,25.82 52.05,26.60 52.07,27.29 52.08,27.91 52.09,28.47 52.11,28.98 52.12,29.47 52.13,29.92 52.15,30.35 52.16,30.75 52.17,31.14 52.19,31.51 52.20,31.87 52.21,32.21 52.22,32.54 52.24,32.86 52.25,33.17 52.26,33.47 52.28,33.76 52.29,34.04 52.30,34.32 52.32,34.58 52.33,34.85 52.34,35.10 52.36,35.35 52.37,35.59 52.38,35.83 52.40,36.07 52.41,36.30 52.42,36.52 52.44,36.74 52.45,36.96 52.46,37.17 52.48,37.38 52.49,37.59 52.50,37.79 52.52,37.99 52.52,38.06 52.53,38.14 52.53,38.21 52.54,38.29 52.54,38.37 52.55,38.44 52.55,38.52 52.56,38.60 52.56,38.67 52.57,38.75 52.57,38.83 52.58,38.91 52.59,38.99 52.59,39.07 52.60,39.15 52.60,39.22 52.61,39.30 52.62,39.38 52.62,39.46 52.63,39.55 52.63,39.63 52.64,39.71 52.65,39.79 52.65,39.87 52.66,39.95 52.67,40.04 52.67,40.12 52.68,40.20 52.68,40.28 52.69,40.37 52.70,40.45 52.71,40.54 52.71,40.62 52.72,40.71 52.73,40.79 52.73,40.88 52.74,40.96 52.75,41.05 52.75,41.13 52.76,41.22 52.77,41.31 52.78,41.40 52.78,41.48 52.79,41.57 52.80,41.66 52.81,41.75 52.82,41.84 52.82,41.93 52.83,42.02 52.84,42.11 52.85,42.20 52.86,42.29 52.87,42.38 52.87,42.47 52.88,42.56 52.89,42.65 52.90,42.74 52.91,42.83 52.92,42.93 52.93,43.02 52.94,43.11 52.94,43.21 52.95,43.30 52.96,43.40 52.97,43.49 52.98,43.58 52.99,43.68 53.00,43.78 53.01,43.87 53.02,43.97 53.03,44.06 53.04,44.16 53.05,44.26 53.06,44.36 53.07,44.45 53.08,44.55 53.09,44.65 53.10,44.75 53.12,44.85 53.13,44.95 53.14,45.05 53.15,45.15 53.16,45.25 53.17,45.35 53.18,45.45 53.19,45.55 53.21,45.65 53.22,45.75 53.23,45.86 53.24,45.96 53.25,46.06 53.27,46.17 53.28,46.27 53.29,46.37 53.30,46.48 53.32,46.58 53.33,46.69 53.34,46.80 53.36,46.90 53.37,47.01 53.38,47.11 53.40,47.22 53.41,47.33 53.42,47.44 53.44,47.54 53.45,47.65 53.47,47.76 53.48,47.87 53.49,47.98 53.51,48.09 53.52,48.20 53.54,48.31 53.55,48.42 53.57,48.53 53.58,48.64 53.60,48.75 53.62,48.87 53.63,48.98 53.65,49.09 53.66,49.20 53.68,49.32 53.70,49.43 53.71,49.55 53.73,49.66 53.75,49.78 53.76,49.89 53.78,50.01 53.80,50.12 53.82,50.24 53.83,50.36 53.85,50.47 53.87,50.59 53.89,50.71 53.91,50.83 53.93,50.95 53.95,51.07 53.96,51.18 53.98,51.30 54.00,51.42 54.02,51.54 54.04,51.67 54.06,51.79 54.08,51.91 54.10,52.03 54.12,52.15 54.14,52.27 54.17,52.40 54.19,52.52 54.21,52.64 54.23,52.77 54.25,52.89 54.27,53.02 54.30,53.14 54.32,53.27 54.34,53.39 54.36,53.52 54.39,53.65 54.41,53.77 54.43,53.90 54.46,54.03 54.48,54.16 54.51,54.29 54.53,54.42 54.56,54.55 54.58,54.67 54.61,54.81 54.63,54.94 54.66,55.07 54.68,55.20 54.71,55.33 54.74,55.46 54.76,55.59 54.79,55.73 54.82,55.86 54.85,55.99 54.87,56.13 54.90,56.26 54.93,56.40 54.96,56.53 54.99,56.67 55.02,56.80 55.05,56.94 55.08,57.07 55.11,57.21 55.14,57.35 55.17,57.49 55.20,57.62 55.23,57.76 55.26,57.90 55.29,58.04 55.33,58.18 55.36,58.32 55.39,58.46 55.43,58.60 55.46,58.74 55.49,58.88 55.53,59.03 55.56,59.17 55.60,59.31 55.63,59.46 55.67,59.60 55.70,59.74 55.74,59.89 55.78,60.03 55.81,60.18 55.85,60.32 55.89,60.47 55.93,60.62 55.97,60.76 56.00,60.91 56.04,61.06 56.08,61.20 56.12,61.35 56.16,61.50 56.20,61.65 56.25,61.80 56.29,61.95 56.33,62.10 56.37,62.25 56.41,62.40 56.46,62.55 56.50,62.71 56.55,62.86 56.59,63.01 56.64,63.16 56.68,63.32 56.73,63.47 56.77,63.63 56.82,63.78 56.87,63.94 56.91,64.09 56.96,64.25 57.01,64.41 57.06,64.56 57.11,64.72 57.16,64.88 57.21,65.04 57.26,65.19 57.31,65.35 57.37,65.51 57.42,65.67 57.47,65.83 57.53,65.99 57.58,66.15 57.63,66.32 57.69,66.48 57.75,66.64 57.80,66.80 57.86,66.97 57.92,67.13 57.97,67.29 58.03,67.46 58.09,67.62 58.15,67.79 58.21,67.95 58.27,68.12 58.33,68.29 58.40,68.45 58.46,68.62 58.52,68.79 58.59,68.96 58.65,69.13 58.72,69.30 58.78,69.47 58.85,69.64 58.92,69.81 58.98,69.98 59.05,70.15 59.12,70.32 59.19,70.49 59.26,70.67 59.33,70.84 59.40,71.01 59.48,71.19 59.55,71.36 59.62,71.54 59.70,71.71 59.77,71.89 59.85,72.06 59.93,72.24 60.01,72.42 60.08,72.60 60.16,72.77 60.24,72.95 60.32,73.13 60.41,73.31 60.49,73.49 60.57,73.67 60.66,73.85 60.74,74.03 60.83,74.22 60.91,74.40 61.00,74.58 61.09,74.77 61.18,74.95 61.27,75.13 61.36,75.32 61.45,75.50 61.54,75.69 61.64,75.88 61.73,76.06 61.83,76.25 61.92,76.44 62.02,76.63 62.12,76.81 62.22,77.00 62.32,77.19 62.42,77.38 62.52,77.57 62.62,77.76 62.73,77.96 62.83,78.15 62.94,78.34 63.05,78.53 63.15,78.73 63.26,78.92 63.37,79.12 63.49,79.31 63.60,79.51 63.71,79.70 63.83,79.90 63.94,80.10 64.06,80.30 64.18,80.49 64.30,80.69 64.42,80.89 64.54,81.09 64.66,81.29 64.79,81.49 64.91,81.70 65.04,81.90 65.17,82.10 65.30,82.30 65.43,82.51 65.56,82.71 65.69,82.92 65.83,83.12 65.96,83.33 66.10,83.54 66.24,83.74 66.38,83.95 66.52,84.16 66.66,84.37 66.80,84.58 66.95,84.79 67.09,85.00 67.24,85.21 67.39,85.42 67.54,85.63 67.70,85.85 67.85,86.06 68.00,86.27 68.16,86.49 68.32,86.70 68.48,86.92 68.64,87.14 68.80,87.35 68.97,87.57 69.14,87.79 69.30,88.01 69.47,88.23 69.65,88.45 69.82,88.67 69.99,88.89 70.17,89.12 70.35,89.34 70.53,89.56 70.71,89.79 70.89,90.01 71.08,90.24 71.26,90.46 71.45,90.69 71.64,90.92 71.84,91.15 72.03,91.38 72.23,91.61 72.43,91.84 72.63,92.07 72.83,92.30 73.03,92.53 73.24,92.77 73.45,93.00 73.66,93.24 73.87,93.47 74.08,93.71 74.30,93.95 74.52,94.18 74.74,94.42 74.96,94.66 75.19,94.90 75.42,95.14 75.65,95.39 75.88,95.63 76.11,95.87 76.35,96.12 76.59,96.36 76.83,96.61 77.07,96.86 77.32,97.10 77.57,97.35 77.82,97.60 78.07,97.85 78.32,98.10 78.58,98.35 78.84,98.61 79.11,98.86 79.37,99.12 79.64,99.37 79.91,99.63 80.19,99.89 80.46,100.14 80.74,100.40 81.02,100.66 81.31,100.93 81.59,101.19 81.88,101.45 82.18,101.72 82.47,101.98 82.77,102.25 83.07,102.51 83.38,102.78 83.69,103.05 84.00,103.32 84.31,103.59 84.63,103.87 84.95,104.14 85.27,104.42 85.60,104.69 85.93,104.97 86.26,105.25 86.59,105.53 86.93,105.81 87.28,106.09 87.62,106.37 87.97,106.65 88.32,106.94 88.68,107.23 89.04,107.51 89.40,107.80 89.77,108.09 90.14,108.38 90.51,108.68 90.89,108.97 91.27,109.27 91.66,109.56 92.05,109.86 92.44,110.16 92.84,110.46 93.24,110.76 93.64,111.07 94.05,111.37 94.46,111.68 94.88,111.99 95.30,112.30 95.72,112.61 96.15,112.92 96.58,113.23 97.02,113.55 97.46,113.87 97.91,114.19 98.36,114.51 98.81,114.83 99.27,115.15 99.74,115.48 100.20,115.81 100.68,116.14 101.15,116.47 101.64,116.80 102.12,117.14 102.61,117.47 103.11,117.81 103.61,118.15 104.12,118.49 104.63,118.84 105.14,119.18 105.67,119.53 106.19,119.88 106.72,120.23 107.26,120.59 107.80,120.94 108.35,121.30 108.90,121.66 109.46,122.03 110.02,122.39 110.59,122.76 111.17,123.13 111.75,123.50 112.33,123.88 112.92,124.25 113.52,124.63 114.12,125.02 114.73,125.40 115.35,125.79 115.97,126.18 116.60,126.57 117.23,126.97 117.87,127.36 118.52,127.77 119.17,128.17 119.83,128.58 120.49,128.98 121.16,129.40 121.84,129.81 122.53,130.23 123.22,130.65 123.92,131.08 124.62,131.50 125.33,131.94 126.05,132.37 126.78,132.81 127.51,133.25 128.25,133.69 129.00,134.14 129.75,134.59 130.52,135.05 131.29,135.50 132.06,135.97 132.85,136.43 133.64,136.90 134.44,137.37 135.25,137.85 136.07,138.33 136.89,138.82 137.72,139.31 138.56,139.80 139.41,140.30 140.27,140.80 141.13,141.30 142.01,141.81 142.89,142.33 143.78,142.85 144.68,143.37 145.59,143.90 146.51,144.43 147.44,144.97 148.37,145.51 149.32,146.06 150.27,146.61 151.23,147.16 152.21,147.72 153.19,148.29 154.18,148.86 155.18,149.44 156.19,150.02 157.22,150.61 158.25,151.20 159.29,151.80 160.34,152.40 161.40,153.01 162.48,153.62 163.56,154.24 164.65,154.87 165.76,155.50 166.87,156.14 168.00,156.78 169.14,157.43 170.29,158.09 171.45,158.75 172.62,159.42 173.80,160.09 174.99,160.77 176.20,161.46 177.42,162.15 178.65,162.85 179.89,163.56 181.14,164.27 182.41,164.99 183.69,165.72 184.98,166.46 186.28,167.20 187.60,167.95 188.93,168.70 190.27,169.46 191.63,170.23 193.00,171.01 194.38,171.80 195.77,172.59 197.18,173.39 198.61,174.20 200.05,175.01 201.50,175.84 202.96,176.67 204.44,177.51 205.94,178.36 207.45,179.21 208.97,180.08 210.51,180.95 212.06,181.83 213.63,182.72 215.22,183.62 216.82,184.53 218.44,185.45 220.07,186.37 221.72,187.31 223.38,188.25 225.06,189.20 226.76,190.17 228.47,191.14 230.20,192.12" fill="none" stroke="#ff0000" stroke-width="2.5" stroke-linejoin="round" stroke-linecap="round"/><polyline points="52.00,20.50 52.01,23.99 52.03,25.39 52.04,26.45 52.05,27.32 52.07,28.08 52.08,28.76 52.09,29.39 52.11,29.96 52.12,30.49 52.13,30.99 52.15,31.46 52.16,31.91 52.17,32.34 52.19,32.75 52.20,33.14 52.21,33.52 52.22,33.88 52.24,34.23 52.25,34.57 52.26,34.90 52.28,35.22 52.29,35.53 52.30,35.83 52.32,36.12 52.33,36.41 52.34,36.69 52.36,36.96 52.37,37.23 52.38,37.49 52.40,37.74 52.41,37.99 52.42,38.24 52.44,38.48 52.45,38.72 52.46,38.95 52.48,39.18 52.49,39.40 52.50,39.62 52.52,39.84 52.52,39.92 52.53,39.99 52.53,40.07 52.54,40.15 52.54,40.24 52.55,40.32 52.55,40.40 52.56,40.48 52.56,40.56 52.57,40.64 52.57,40.72 52.58,40.81 52.58,40.89 52.59,40.97 52.59,41.05 52.60,41.14 52.61,41.22 52.61,41.31 52.62,41.39 52.62,41.48 52.63,41.56 52.64,41.65 52.64,41.73 52.65,41.82 52.65,41.90 52.66,41.99 52.67,42.08 52.67,42.16 52.68,42.25 52.69,42.34 52.69,42.43 52.70,42.51 52.70,42.60 52.71,42.69 52.72,42.78 52.73,42.87 52.73,42.96 52.74,43.05 52.75,43.14 52.75,43.23 52.76,43.32 52.77,43.41 52.77,43.50 52.78,43.59 52.79,43.69 52.80,43.78 52.80,43.87 52.81,43.96 52.82,44.06 52.83,44.15 52.84,44.25 52.84,44.34 52.85,44.43 52.86,44.53 52.87,44.62 52.88,44.72 52.88,44.81 52.89,44.91 52.90,45.01 52.91,45.10 52.92,45.20 52.93,45.30 52.94,45.40 52.95,45.49 52.95,45.59 52.96,45.69 52.97,45.79 52.98,45.89 52.99,45.99 53.00,46.09 53.01,46.19 53.02,46.29 53.03,46.39 53.04,46.49 53.05,46.59 53.06,46.69 53.07,46.79 53.08,46.90 53.09,47.00 53.10,47.10 53.11,47.21 53.12,47.31 53.13,47.41 53.14,47.52 53.15,47.62 53.16,47.73 53.17,47.83 53.19,47.94 53.20,48.04 53.21,48.15 53.22,48.26 53.23,48.36 53.24,48.47 53.25,48.58 53.27,48.68 53.28,48.79 53.29,48.90 53.30,49.01 53.32,49.12 53.33,49.23 53.34,49.34 53.35,49.45 53.37,49.56 53.38,49.67 53.39,49.78 53.41,49.89 53.42,50.00 53.43,50.12 53.45,50.23 53.46,50.34 53.47,50.45 53.49,50.57 53.50,50.68 53.52,50.79 53.53,50.91 53.55,51.02 53.56,51.14 53.57,51.25 53.59,51.37 53.60,51.49 53.62,51.60 53.64,51.72 53.65,51.84 53.67,51.95 53.68,52.07 53.70,52.19 53.71,52.31 53.73,52.43 53.75,52.55 53.76,52.66 53.78,52.78 53.80,52.90 53.81,53.02 53.83,53.15 53.85,53.27 53.87,53.39 53.88,53.51 53.90,53.63 53.92,53.75 53.94,53.88 53.96,54.00 53.98,54.12 53.99,54.25 54.01,54.37 54.03,54.50 54.05,54.62 54.07,54.75 54.09,54.87 54.11,55.00 54.13,55.13 54.15,55.25 54.17,55.38 54.19,55.51 54.21,55.63 54.23,55.76 54.26,55.89 54.28,56.02 54.30,56.15 54.32,56.28 54.34,56.41 54.36,56.54 54.39,56.67 54.41,56.80 54.43,56.93 54.46,57.06 54.48,57.19 54.50,57.33 54.53,57.46 54.55,57.59 54.57,57.73 54.60,57.86 54.62,57.99 54.65,58.13 54.67,58.26 54.70,58.40 54.72,58.53 54.75,58.67 54.78,58.81 54.80,58.94 54.83,59.08 54.86,59.22 54.88,59.35 54.91,59.49 54.94,59.63 54.97,59.77 55.00,59.91 55.02,60.05 55.05,60.19 55.08,60.33 55.11,60.47 55.14,60.61 55.17,60.75 55.20,60.89 55.23,61.04 55.26,61.18 55.29,61.32 55.32,61.46 55.36,61.61 55.39,61.75 55.42,61.90 55.45,62.04 55.48,62.18 55.52,62.33 55.55,62.48 55.58,62.62 55.62,62.77 55.65,62.92 55.69,63.06 55.72,63.21 55.76,63.36 55.79,63.51 55.83,63.65 55.87,63.80 55.90,63.95 55.94,64.10 55.98,64.25 56.02,64.40 56.05,64.56 56.09,64.71 56.13,64.86 56.17,65.01 56.21,65.16 56.25,65.32 56.29,65.47 56.33,65.62 56.37,65.78 56.41,65.93 56.46,66.09 56.50,66.24 56.54,66.40 56.58,66.55 56.63,66.71 56.67,66.87 56.72,67.02 56.76,67.18 56.81,67.34 56.85,67.50 56.90,67.65 56.94,67.81 56.99,67.97 57.04,68.13 57.09,68.29 57.13,68.45 57.18,68.61 57.23,68.78 57.28,68.94 57.33,69.10 57.38,69.26 57.43,69.42 57.49,69.59 57.54,69.75 57.59,69.92 57.64,70.08 57.70,70.25 57.75,70.41 57.81,70.58 57.86,70.74 57.92,70.91 57.97,71.08 58.03,71.24 58.09,71.41 58.14,71.58 58.20,71.75 58.26,71.92 58.32,72.09 58.38,72.26 58.44,72.43 58.50,72.60 58.57,72.77 58.63,72.94 58.69,73.11 58.75,73.28 58.82,73.46 58.88,73.63 58.95,73.80 59.01,73.98 59.08,74.15 59.15,74.33 59.22,74.50 59.28,74.68 59.35,74.85 59.42,75.03 59.49,75.21 59.57,75.38 59.64,75.56 59.71,75.74 59.78,75.92 59.86,76.10 59.93,76.28 60.01,76.46 60.08,76.64 60.16,76.82 60.24,77.00 60.32,77.18 60.39,77.36 60.47,77.55 60.55,77.73 60.64,77.91 60.72,78.10 60.80,78.28 60.88,78.47 60.97,78.65 61.05,78.84 61.14,79.02 61.23,79.21 61.31,79.40 61.40,79.59 61.49,79.77 61.58,79.96 61.67,80.15 61.77,80.34 61.86,80.53 61.95,80.72 62.05,80.91 62.14,81.10 62.24,81.30 62.34,81.49 62.43,81.68 62.53,81.87 62.63,82.07 62.73,82.26 62.84,82.46 62.94,82.65 63.04,82.85 63.15,83.04 63.25,83.24 63.36,83.44 63.47,83.64 63.58,83.83 63.69,84.03 63.80,84.23 63.91,84.43 64.02,84.63 64.14,84.83 64.25,85.04 64.37,85.24 64.49,85.44 64.61,85.64 64.73,85.85 64.85,86.05 64.97,86.25 65.09,86.46 65.22,86.67 65.34,86.87 65.47,87.08 65.60,87.29 65.73,87.49 65.86,87.70 65.99,87.91 66.12,88.12 66.25,88.33 66.39,88.54 66.53,88.75 66.66,88.96 66.80,89.18 66.94,89.39 67.09,89.60 67.23,89.82 67.37,90.03 67.52,90.25 67.67,90.46 67.82,90.68 67.97,90.90 68.12,91.12 68.27,91.33 68.43,91.55 68.58,91.77 68.74,91.99 68.90,92.21 69.06,92.44 69.22,92.66 69.39,92.88 69.55,93.10 69.72,93.33 69.89,93.55 70.06,93.78 70.23,94.01 70.40,94.23 70.58,94.46 70.75,94.69 70.93,94.92 71.11,95.15 71.29,95.38 71.47,95.61 71.66,95.84 71.85,96.07 72.03,96.30 72.22,96.54 72.42,96.77 72.61,97.01 72.81,97.24 73.00,97.48 73.20,97.72 73.41,97.96 73.61,98.20 73.81,98.44 74.02,98.68 74.23,98.92 74.44,99.16 74.65,99.40 74.87,99.65 75.09,99.89 75.31,100.14 75.53,100.38 75.75,100.63 75.98,100.88 76.21,101.13 76.43,101.38 76.67,101.63 76.90,101.88 77.14,102.13 77.38,102.39 77.62,102.64 77.86,102.89 78.11,103.15 78.35,103.41 78.61,103.67 78.86,103.92 79.11,104.18 79.37,104.44 79.63,104.71 79.89,104.97 80.16,105.23 80.43,105.50 80.70,105.76 80.97,106.03 81.24,106.30 81.52,106.57 81.80,106.84 82.08,107.11 82.37,107.38 82.66,107.65 82.95,107.92 83.24,108.20 83.54,108.48 83.84,108.75 84.14,109.03 84.45,109.31 84.76,109.59 85.07,109.87 85.38,110.16 85.70,110.44 86.02,110.73 86.34,111.02 86.67,111.30 87.00,111.59 87.33,111.88 87.67,112.18 88.01,112.47 88.35,112.76 88.69,113.06 89.04,113.36 89.39,113.66 89.75,113.96 90.11,114.26 90.47,114.56 90.83,114.86 91.20,115.17 91.58,115.48 91.95,115.79 92.33,116.10 92.71,116.41 93.10,116.72 93.49,117.04 93.89,117.35 94.28,117.67 94.69,117.99 95.09,118.31 95.50,118.64 95.91,118.96 96.33,119.29 96.75,119.62 97.18,119.95 97.61,120.28 98.04,120.62 98.48,120.95 98.92,121.29 99.36,121.63 99.81,121.97 100.27,122.31 100.73,122.66 101.19,123.01 101.66,123.36 102.13,123.71 102.61,124.06 103.09,124.42 103.57,124.78 104.06,125.14 104.56,125.50 105.06,125.86 105.56,126.23 106.07,126.60 106.58,126.97 107.10,127.35 107.62,127.72 108.15,128.10 108.69,128.48 109.22,128.87 109.77,129.26 110.32,129.64 110.87,130.04 111.43,130.43 111.99,130.83 112.56,131.23 113.14,131.63 113.72,132.04 114.31,132.45 114.90,132.86 115.50,133.27 116.10,133.69 116.71,134.11 117.32,134.53 117.94,134.96 118.57,135.39 119.20,135.82 119.84,136.26 120.49,136.70 121.14,137.14 121.79,137.59 122.46,138.04 123.12,138.49 123.80,138.95 124.48,139.41 125.17,139.88 125.87,140.34 126.57,140.82 127.28,141.29 127.99,141.77 128.71,142.25 129.44,142.74 130.18,143.23 130.92,143.73 131.67,144.23 132.43,144.73 133.19,145.24 133.96,145.75 134.74,146.27 135.53,146.79 136.32,147.31 137.12,147.84 137.93,148.38 138.75,148.92 139.57,149.46 140.40,150.01 141.24,150.56 142.09,151.12 142.95,151.68 143.81,152.25 144.68,152.82 145.56,153.40 146.45,153.98 147.35,154.57 148.25,155.16 149.17,155.76 150.09,156.37 151.02,156.97 151.96,157.59 152.91,158.21 153.87,158.84 154.84,159.47 155.82,160.10 156.80,160.75 157.80,161.40 158.80,162.05 159.82,162.71 160.84,163.38 161.88,164.05 162.92,164.73 163.98,165.42 165.04,166.11 166.11,166.81 167.20,167.51 168.29,168.22 169.40,168.94 170.51,169.67 171.64,170.40 172.77,171.14 173.92,171.88 175.08,172.63 176.25,173.39 177.43,174.16 178.62,174.93 179.82,175.71 181.04,176.50 182.26,177.29 183.50,178.10 184.75,178.91 186.01,179.73 187.28,180.55 188.57,181.38 189.87,182.23 191.18,183.07 192.50,183.93 193.83,184.80 195.18,185.67 196.54,186.55 197.91,187.44 199.30,188.34 200.70,189.25" fill="none" stroke="#0000ff" stroke-width="2.5" stroke-linejoin="round" stroke-linecap="round"/></g>
<line x1="47.8" y1="20.5" x2="52" y2="20.5" stroke="#000" stroke-width="2"/>
<text transform="translate(46.4,25.4) scale(1,1.06)" font-family="Liberation Serif" stroke="#000" stroke-width="0.15" font-size="16.5" text-anchor="end" fill="#000">1</text>
<line x1="47.8" y1="98.5" x2="52" y2="98.5" stroke="#000" stroke-width="2"/>
<text transform="translate(46.4,103.4) scale(1,1.06)" font-family="Liberation Serif" stroke="#000" stroke-width="0.15" font-size="16.5" text-anchor="end" fill="#000">0.1</text>
<line x1="47.8" y1="176.5" x2="52" y2="176.5" stroke="#000" stroke-width="2"/>
<text transform="translate(46.4,181.4) scale(1,1.06)" font-family="Liberation Serif" stroke="#000" stroke-width="0.15" font-size="16.5" text-anchor="end" fill="#000">0.01</text>
<line x1="52.0" y1="223.5" x2="52.0" y2="227.6" stroke="#000" stroke-width="2"/>
<text transform="translate(51.8,240.8) scale(1,1.07)" font-family="Liberation Serif" stroke="#000" stroke-width="0.15" font-size="15.8" text-anchor="middle" fill="#000">0</text>
<line x1="103.6" y1="223.5" x2="103.6" y2="227.6" stroke="#000" stroke-width="2"/>
<text transform="translate(103.39999999999999,240.8) scale(1,1.07)" font-family="Liberation Serif" stroke="#000" stroke-width="0.15" font-size="15.8" text-anchor="middle" fill="#000">200</text>
<line x1="155.2" y1="223.5" x2="155.2" y2="227.6" stroke="#000" stroke-width="2"/>
<text transform="translate(155.0,240.8) scale(1,1.07)" font-family="Liberation Serif" stroke="#000" stroke-width="0.15" font-size="15.8" text-anchor="middle" fill="#000">400</text>
<line x1="206.8" y1="223.5" x2="206.8" y2="227.6" stroke="#000" stroke-width="2"/>
<text transform="translate(206.60000000000002,240.8) scale(1,1.07)" font-family="Liberation Serif" stroke="#000" stroke-width="0.15" font-size="15.8" text-anchor="middle" fill="#000">600</text>
<line x1="258.4" y1="223.5" x2="258.4" y2="227.6" stroke="#000" stroke-width="2"/>
<text transform="translate(258.2,240.8) scale(1,1.07)" font-family="Liberation Serif" stroke="#000" stroke-width="0.15" font-size="15.8" text-anchor="middle" fill="#000">800</text>
<line x1="310.0" y1="223.5" x2="310.0" y2="227.6" stroke="#000" stroke-width="2"/>
<text transform="translate(309.8,240.8) scale(1,1.07)" font-family="Liberation Serif" stroke="#000" stroke-width="0.15" font-size="15.8" text-anchor="middle" fill="#000">1000</text>
<text transform="translate(183,263.7) scale(1,1.08)" font-family="Liberation Serif" stroke="#000" stroke-width="0.15" font-size="17" text-anchor="middle" fill="#000">Time (sec)</text>
<text transform="translate(20.5,141.2) rotate(-90)" font-family="Liberation Serif" stroke="#000" stroke-width="0.15" font-size="16.8" fill="#000">C/C<tspan font-size="9" dx="1.2" dy="6.0">0</tspan></text>
<text x="82.35" y="64.5" font-family="Liberation Serif" stroke="#000" stroke-width="0.15" font-size="16.8" fill="#000"><tspan font-style="italic">p</tspan>-xylene</text>
<line x1="154.1" y1="31.9" x2="194.5" y2="31.9" stroke="#000" stroke-width="2.2"/>
<text x="199.1" y="37.8" font-family="Liberation Serif" stroke="#000" stroke-width="0.15" font-size="16" textLength="107.5" lengthAdjust="spacingAndGlyphs" fill="#000">Theoretical curve</text>
<rect x="212.80" y="55.70" width="6.60" height="6.60" fill="none" stroke="#000000" stroke-width="1.0"/>
<text x="244.5" y="64.7" font-family="Liberation Serif" stroke="#000" stroke-width="0.15" font-size="16.9" fill="#000">Beta-0</text>
<circle cx="216.10" cy="80.20" r="3.6" fill="none" stroke="#ff0000" stroke-width="1.0"/>
<text x="244.5" y="85.5" font-family="Liberation Serif" stroke="#000" stroke-width="0.15" font-size="16.9" fill="#000">Beta-1</text>
<polygon points="216.10,96.07 220.60,104.07 211.60,104.07" fill="none" stroke="#0000ff" stroke-width="1.0"/>
<text x="244.5" y="106.30000000000001" font-family="Liberation Serif" stroke="#000" stroke-width="0.15" font-size="16.9" fill="#000">Beta-2</text>
<polygon points="216.10,127.93 220.60,119.93 211.60,119.93" fill="none" stroke="#008080" stroke-width="1.0"/>
<text x="244.5" y="127.10000000000001" font-family="Liberation Serif" stroke="#000" stroke-width="0.15" font-size="16.9" fill="#000">Beta-3</text>
<clipPath id="c346"><rect x="392" y="20.0" width="270" height="207.0"/></clipPath>
<rect x="398" y="20.5" width="258" height="203.0" fill="none" stroke="#000" stroke-width="2"/>
<clipPath id="m346"><rect x="397" y="19.5" width="260" height="205.0"/></clipPath>
<g clip-path="url(#m346)"><rect x="408.09" y="75.21" width="6.60" height="6.60" fill="none" stroke="#000000" stroke-width="1.0"/><rect x="412.71" y="81.71" width="6.60" height="6.60" fill="none" stroke="#000000" stroke-width="1.0"/><rect x="418.00" y="87.66" width="6.60" height="6.60" fill="none" stroke="#000000" stroke-width="1.0"/><rect x="423.81" y="93.08" width="6.60" height="6.60" fill="none" stroke="#000000" stroke-width="1.0"/><rect x="429.99" y="98.05" width="6.60" height="6.60" fill="none" stroke="#000000" stroke-width="1.0"/><rect x="436.41" y="102.64" width="6.60" height="6.60" fill="none" stroke="#000000" stroke-width="1.0"/><rect x="442.79" y="106.97" width="6.60" height="6.60" fill="none" stroke="#000000" stroke-width="1.0"/><rect x="449.17" y="110.97" width="6.60" height="6.60" fill="none" stroke="#000000" stroke-width="1.0"/><rect x="455.51" y="114.71" width="6.60" height="6.60" fill="none" stroke="#000000" stroke-width="1.0"/><rect x="461.77" y="118.21" width="6.60" height="6.60" fill="none" stroke="#000000" stroke-width="1.0"/><rect x="467.94" y="121.52" width="6.60" height="6.60" fill="none" stroke="#000000" stroke-width="1.0"/><rect x="474.05" y="124.57" width="6.60" height="6.60" fill="none" stroke="#000000" stroke-width="1.0"/><rect x="480.09" y="127.46" width="6.60" height="6.60" fill="none" stroke="#000000" stroke-width="1.0"/><rect x="486.15" y="130.30" width="6.60" height="6.60" fill="none" stroke="#000000" stroke-width="1.0"/><rect x="492.24" y="133.10" width="6.60" height="6.60" fill="none" stroke="#000000" stroke-width="1.0"/><rect x="498.34" y="135.86" width="6.60" height="6.60" fill="none" stroke="#000000" stroke-width="1.0"/><rect x="504.45" y="138.59" width="6.60" height="6.60" fill="none" stroke="#000000" stroke-width="1.0"/><rect x="510.58" y="141.31" width="6.60" height="6.60" fill="none" stroke="#000000" stroke-width="1.0"/><rect x="516.71" y="144.00" width="6.60" height="6.60" fill="none" stroke="#000000" stroke-width="1.0"/><rect x="522.85" y="146.68" width="6.60" height="6.60" fill="none" stroke="#000000" stroke-width="1.0"/><rect x="529.00" y="149.35" width="6.60" height="6.60" fill="none" stroke="#000000" stroke-width="1.0"/><rect x="535.15" y="152.01" width="6.60" height="6.60" fill="none" stroke="#000000" stroke-width="1.0"/><rect x="541.30" y="154.66" width="6.60" height="6.60" fill="none" stroke="#000000" stroke-width="1.0"/><rect x="547.46" y="157.31" width="6.60" height="6.60" fill="none" stroke="#000000" stroke-width="1.0"/><rect x="553.61" y="159.95" width="6.60" height="6.60" fill="none" stroke="#000000" stroke-width="1.0"/><rect x="559.77" y="162.59" width="6.60" height="6.60" fill="none" stroke="#000000" stroke-width="1.0"/><rect x="565.93" y="165.22" width="6.60" height="6.60" fill="none" stroke="#000000" stroke-width="1.0"/><rect x="572.09" y="167.85" width="6.60" height="6.60" fill="none" stroke="#000000" stroke-width="1.0"/><rect x="578.25" y="170.48" width="6.60" height="6.60" fill="none" stroke="#000000" stroke-width="1.0"/><rect x="584.42" y="173.11" width="6.60" height="6.60" fill="none" stroke="#000000" stroke-width="1.0"/><rect x="590.58" y="175.74" width="6.60" height="6.60" fill="none" stroke="#000000" stroke-width="1.0"/><rect x="596.74" y="178.37" width="6.60" height="6.60" fill="none" stroke="#000000" stroke-width="1.0"/><rect x="602.91" y="180.99" width="6.60" height="6.60" fill="none" stroke="#000000" stroke-width="1.0"/><rect x="609.07" y="183.62" width="6.60" height="6.60" fill="none" stroke="#000000" stroke-width="1.0"/><rect x="615.24" y="186.25" width="6.60" height="6.60" fill="none" stroke="#000000" stroke-width="1.0"/><rect x="621.40" y="188.87" width="6.60" height="6.60" fill="none" stroke="#000000" stroke-width="1.0"/><circle cx="399.05" cy="22.83" r="3.6" fill="none" stroke="#ff0000" stroke-width="1.0"/><circle cx="399.36" cy="30.79" r="3.6" fill="none" stroke="#ff0000" stroke-width="1.0"/><circle cx="399.90" cy="38.73" r="3.6" fill="none" stroke="#ff0000" stroke-width="1.0"/><circle cx="400.91" cy="46.60" r="3.6" fill="none" stroke="#ff0000" stroke-width="1.0"/><circle cx="403.02" cy="54.23" r="3.6" fill="none" stroke="#ff0000" stroke-width="1.0"/><circle cx="405.65" cy="61.59" r="3.6" fill="none" stroke="#ff0000" stroke-width="1.0"/><circle cx="408.24" cy="68.79" r="3.6" fill="none" stroke="#ff0000" stroke-width="1.0"/><circle cx="411.18" cy="75.79" r="3.6" fill="none" stroke="#ff0000" stroke-width="1.0"/><circle cx="413.59" cy="81.31" r="3.6" fill="none" stroke="#ff0000" stroke-width="1.0"/><circle cx="416.30" cy="86.76" r="3.6" fill="none" stroke="#ff0000" stroke-width="1.0"/><circle cx="419.44" cy="92.06" r="3.6" fill="none" stroke="#ff0000" stroke-width="1.0"/><circle cx="422.93" cy="97.20" r="3.6" fill="none" stroke="#ff0000" stroke-width="1.0"/><circle cx="426.73" cy="102.18" r="3.6" fill="none" stroke="#ff0000" stroke-width="1.0"/><circle cx="430.68" cy="107.12" r="3.6" fill="none" stroke="#ff0000" stroke-width="1.0"/><circle cx="434.82" cy="111.94" r="3.6" fill="none" stroke="#ff0000" stroke-width="1.0"/><circle cx="439.12" cy="116.64" r="3.6" fill="none" stroke="#ff0000" stroke-width="1.0"/><circle cx="443.96" cy="120.72" r="3.6" fill="none" stroke="#ff0000" stroke-width="1.0"/><circle cx="448.97" cy="124.57" r="3.6" fill="none" stroke="#ff0000" stroke-width="1.0"/><circle cx="454.04" cy="128.35" r="3.6" fill="none" stroke="#ff0000" stroke-width="1.0"/><circle cx="459.14" cy="132.07" r="3.6" fill="none" stroke="#ff0000" stroke-width="1.0"/><circle cx="464.27" cy="135.75" r="3.6" fill="none" stroke="#ff0000" stroke-width="1.0"/><circle cx="469.41" cy="139.39" r="3.6" fill="none" stroke="#ff0000" stroke-width="1.0"/><circle cx="474.57" cy="143.01" r="3.6" fill="none" stroke="#ff0000" stroke-width="1.0"/><circle cx="479.75" cy="146.61" r="3.6" fill="none" stroke="#ff0000" stroke-width="1.0"/><circle cx="484.93" cy="150.19" r="3.6" fill="none" stroke="#ff0000" stroke-width="1.0"/><circle cx="490.13" cy="153.76" r="3.6" fill="none" stroke="#ff0000" stroke-width="1.0"/><circle cx="495.33" cy="157.32" r="3.6" fill="none" stroke="#ff0000" stroke-width="1.0"/><circle cx="500.53" cy="160.87" r="3.6" fill="none" stroke="#ff0000" stroke-width="1.0"/><circle cx="505.73" cy="164.43" r="3.6" fill="none" stroke="#ff0000" stroke-width="1.0"/><circle cx="510.94" cy="167.98" r="3.6" fill="none" stroke="#ff0000" stroke-width="1.0"/><circle cx="516.15" cy="171.52" r="3.6" fill="none" stroke="#ff0000" stroke-width="1.0"/><circle cx="521.35" cy="175.07" r="3.6" fill="none" stroke="#ff0000" stroke-width="1.0"/><circle cx="526.56" cy="178.61" r="3.6" fill="none" stroke="#ff0000" stroke-width="1.0"/><circle cx="531.77" cy="182.16" r="3.6" fill="none" stroke="#ff0000" stroke-width="1.0"/><circle cx="536.98" cy="185.70" r="3.6" fill="none" stroke="#ff0000" stroke-width="1.0"/><circle cx="542.19" cy="189.25" r="3.6" fill="none" stroke="#ff0000" stroke-width="1.0"/><circle cx="547.40" cy="192.79" r="3.6" fill="none" stroke="#ff0000" stroke-width="1.0"/><polygon points="399.04,16.83 403.54,24.83 394.54,24.83" fill="none" stroke="#0000ff" stroke-width="1.0"/><polygon points="399.30,24.80 403.80,32.80 394.80,32.80" fill="none" stroke="#0000ff" stroke-width="1.0"/><polygon points="399.75,32.76 404.25,40.76 395.25,40.76" fill="none" stroke="#0000ff" stroke-width="1.0"/><polygon points="400.48,40.67 404.98,48.67 395.98,48.67" fill="none" stroke="#0000ff" stroke-width="1.0"/><polygon points="401.96,48.46 406.46,56.46 397.46,56.46" fill="none" stroke="#0000ff" stroke-width="1.0"/><polygon points="403.85,56.10 408.35,64.10 399.35,64.10" fill="none" stroke="#0000ff" stroke-width="1.0"/><polygon points="405.92,63.60 410.42,71.60 401.42,71.60" fill="none" stroke="#0000ff" stroke-width="1.0"/><polygon points="407.14,71.41 411.64,79.41 402.64,79.41" fill="none" stroke="#0000ff" stroke-width="1.0"/><polygon points="408.62,77.74 413.12,85.74 404.12,85.74" fill="none" stroke="#0000ff" stroke-width="1.0"/><polygon points="410.58,84.03 415.08,92.03 406.08,92.03" fill="none" stroke="#0000ff" stroke-width="1.0"/><polygon points="412.99,90.22 417.49,98.22 408.49,98.22" fill="none" stroke="#0000ff" stroke-width="1.0"/><polygon points="416.30,95.95 420.80,103.95 411.80,103.95" fill="none" stroke="#0000ff" stroke-width="1.0"/><polygon points="420.29,101.21 424.79,109.21 415.79,109.21" fill="none" stroke="#0000ff" stroke-width="1.0"/><polygon points="424.49,106.27 428.99,114.27 419.99,114.27" fill="none" stroke="#0000ff" stroke-width="1.0"/><polygon points="428.86,111.17 433.36,119.17 424.36,119.17" fill="none" stroke="#0000ff" stroke-width="1.0"/><polygon points="433.35,115.93 437.85,123.93 428.85,123.93" fill="none" stroke="#0000ff" stroke-width="1.0"/><polygon points="437.93,120.59 442.43,128.59 433.43,128.59" fill="none" stroke="#0000ff" stroke-width="1.0"/><polygon points="442.57,125.18 447.07,133.18 438.07,133.18" fill="none" stroke="#0000ff" stroke-width="1.0"/><polygon points="447.26,129.71 451.76,137.71 442.76,137.71" fill="none" stroke="#0000ff" stroke-width="1.0"/><polygon points="451.98,134.20 456.48,142.20 447.48,142.20" fill="none" stroke="#0000ff" stroke-width="1.0"/><polygon points="456.73,138.64 461.23,146.64 452.23,146.64" fill="none" stroke="#0000ff" stroke-width="1.0"/><polygon points="461.55,143.02 466.05,151.02 457.05,151.02" fill="none" stroke="#0000ff" stroke-width="1.0"/><polygon points="466.37,147.38 470.87,155.38 461.87,155.38" fill="none" stroke="#0000ff" stroke-width="1.0"/><polygon points="471.20,151.74 475.70,159.74 466.70,159.74" fill="none" stroke="#0000ff" stroke-width="1.0"/><polygon points="476.03,156.09 480.53,164.09 471.53,164.09" fill="none" stroke="#0000ff" stroke-width="1.0"/><polygon points="480.87,160.43 485.37,168.43 476.37,168.43" fill="none" stroke="#0000ff" stroke-width="1.0"/><polygon points="485.71,164.77 490.21,172.77 481.21,172.77" fill="none" stroke="#0000ff" stroke-width="1.0"/><polygon points="490.55,169.11 495.05,177.11 486.05,177.11" fill="none" stroke="#0000ff" stroke-width="1.0"/><polygon points="495.39,173.45 499.89,181.45 490.89,181.45" fill="none" stroke="#0000ff" stroke-width="1.0"/><polygon points="500.23,177.79 504.73,185.79 495.73,185.79" fill="none" stroke="#0000ff" stroke-width="1.0"/><polygon points="505.08,182.13 509.58,190.13 500.58,190.13" fill="none" stroke="#0000ff" stroke-width="1.0"/><polygon points="509.92,186.46 514.42,194.46 505.42,194.46" fill="none" stroke="#0000ff" stroke-width="1.0"/><polygon points="399.01,29.17 403.51,21.17 394.51,21.17" fill="none" stroke="#008080" stroke-width="1.0"/><polygon points="399.09,37.15 403.59,29.15 394.59,29.15" fill="none" stroke="#008080" stroke-width="1.0"/><polygon points="399.29,45.13 403.79,37.13 394.79,37.13" fill="none" stroke="#008080" stroke-width="1.0"/><polygon points="399.66,53.10 404.16,45.10 395.16,45.10" fill="none" stroke="#008080" stroke-width="1.0"/><polygon points="400.26,61.04 404.76,53.04 395.76,53.04" fill="none" stroke="#008080" stroke-width="1.0"/><polygon points="400.66,69.02 405.16,61.02 396.16,61.02" fill="none" stroke="#008080" stroke-width="1.0"/><polygon points="400.76,77.11 405.26,69.11 396.26,69.11" fill="none" stroke="#008080" stroke-width="1.0"/><polygon points="401.36,85.26 405.86,77.26 396.86,77.26" fill="none" stroke="#008080" stroke-width="1.0"/><polygon points="403.11,92.17 407.61,84.17 398.61,84.17" fill="none" stroke="#008080" stroke-width="1.0"/><polygon points="405.37,98.95 409.87,90.95 400.87,90.95" fill="none" stroke="#008080" stroke-width="1.0"/><polygon points="408.06,105.57 412.56,97.57 403.56,97.57" fill="none" stroke="#008080" stroke-width="1.0"/><polygon points="411.13,112.02 415.63,104.02 406.63,104.02" fill="none" stroke="#008080" stroke-width="1.0"/><polygon points="414.52,118.30 419.02,110.30 410.02,110.30" fill="none" stroke="#008080" stroke-width="1.0"/><polygon points="418.21,124.38 422.71,116.38 413.71,116.38" fill="none" stroke="#008080" stroke-width="1.0"/><polygon points="422.28,130.18 426.78,122.18 417.78,122.18" fill="none" stroke="#008080" stroke-width="1.0"/><polygon points="426.48,135.85 430.98,127.85 421.98,127.85" fill="none" stroke="#008080" stroke-width="1.0"/><polygon points="430.76,141.44 435.26,133.44 426.26,133.44" fill="none" stroke="#008080" stroke-width="1.0"/><polygon points="435.09,146.97 439.59,138.97 430.59,138.97" fill="none" stroke="#008080" stroke-width="1.0"/><polygon points="439.46,152.45 443.96,144.45 434.96,144.45" fill="none" stroke="#008080" stroke-width="1.0"/><polygon points="443.86,157.91 448.36,149.91 439.36,149.91" fill="none" stroke="#008080" stroke-width="1.0"/><polygon points="448.27,163.36 452.77,155.36 443.77,155.36" fill="none" stroke="#008080" stroke-width="1.0"/><polygon points="452.69,168.79 457.19,160.79 448.19,160.79" fill="none" stroke="#008080" stroke-width="1.0"/><polygon points="457.11,174.22 461.61,166.22 452.61,166.22" fill="none" stroke="#008080" stroke-width="1.0"/><polygon points="461.54,179.65 466.04,171.65 457.04,171.65" fill="none" stroke="#008080" stroke-width="1.0"/><polygon points="465.97,185.07 470.47,177.07 461.47,177.07" fill="none" stroke="#008080" stroke-width="1.0"/><polygon points="470.40,190.49 474.90,182.49 465.90,182.49" fill="none" stroke="#008080" stroke-width="1.0"/><polygon points="474.82,195.92 479.32,187.92 470.32,187.92" fill="none" stroke="#008080" stroke-width="1.0"/></g>
<g clip-path="url(#c346)"><polyline points="398.00,20.50 398.01,22.98 398.02,23.98 398.02,24.74 398.03,25.37 398.04,25.92 398.05,26.42 398.06,26.87 398.07,27.29 398.07,27.68 398.08,28.05 398.09,28.40 398.10,28.73 398.11,29.04 398.12,29.34 398.12,29.63 398.13,29.91 398.14,30.18 398.15,30.44 398.16,30.70 398.17,30.94 398.17,31.18 398.18,31.41 398.19,31.64 398.20,31.86 398.21,32.07 398.21,32.28 398.22,32.48 398.23,32.69 398.24,32.88 398.25,33.07 398.26,33.26 398.26,33.45 398.27,33.63 398.28,33.81 398.29,33.98 398.30,34.16 398.31,34.33 398.31,34.49 398.32,34.66 398.33,34.73 398.33,34.80 398.33,34.87 398.34,34.94 398.34,35.01 398.34,35.08 398.35,35.15 398.35,35.22 398.36,35.30 398.36,35.37 398.36,35.44 398.37,35.52 398.37,35.59 398.38,35.66 398.38,35.74 398.38,35.81 398.39,35.89 398.39,35.96 398.40,36.04 398.40,36.11 398.41,36.19 398.41,36.27 398.41,36.34 398.42,36.42 398.42,36.50 398.43,36.57 398.43,36.65 398.44,36.73 398.44,36.81 398.45,36.89 398.45,36.97 398.46,37.05 398.46,37.13 398.47,37.21 398.47,37.29 398.48,37.37 398.48,37.45 398.49,37.53 398.49,37.61 398.50,37.70 398.51,37.78 398.51,37.86 398.52,37.95 398.52,38.03 398.53,38.11 398.53,38.20 398.54,38.28 398.55,38.37 398.55,38.45 398.56,38.54 398.56,38.63 398.57,38.71 398.58,38.80 398.58,38.89 398.59,38.97 398.60,39.06 398.60,39.15 398.61,39.24 398.62,39.33 398.62,39.42 398.63,39.51 398.64,39.60 398.64,39.69 398.65,39.78 398.66,39.87 398.66,39.96 398.67,40.05 398.68,40.15 398.69,40.24 398.69,40.33 398.70,40.43 398.71,40.52 398.72,40.61 398.72,40.71 398.73,40.80 398.74,40.90 398.75,40.99 398.76,41.09 398.77,41.19 398.77,41.28 398.78,41.38 398.79,41.48 398.80,41.58 398.81,41.67 398.82,41.77 398.83,41.87 398.84,41.97 398.84,42.07 398.85,42.17 398.86,42.27 398.87,42.37 398.88,42.47 398.89,42.58 398.90,42.68 398.91,42.78 398.92,42.88 398.93,42.99 398.94,43.09 398.95,43.20 398.96,43.30 398.97,43.40 398.98,43.51 399.00,43.62 399.01,43.72 399.02,43.83 399.03,43.94 399.04,44.04 399.05,44.15 399.06,44.26 399.07,44.37 399.09,44.48 399.10,44.59 399.11,44.69 399.12,44.81 399.14,44.92 399.15,45.03 399.16,45.14 399.17,45.25 399.19,45.36 399.20,45.47 399.21,45.59 399.23,45.70 399.24,45.81 399.25,45.93 399.27,46.04 399.28,46.16 399.29,46.27 399.31,46.39 399.32,46.51 399.34,46.62 399.35,46.74 399.37,46.86 399.38,46.98 399.40,47.09 399.41,47.21 399.43,47.33 399.44,47.45 399.46,47.57 399.48,47.69 399.49,47.81 399.51,47.93 399.53,48.06 399.54,48.18 399.56,48.30 399.58,48.42 399.59,48.55 399.61,48.67 399.63,48.79 399.65,48.92 399.67,49.04 399.68,49.17 399.70,49.30 399.72,49.42 399.74,49.55 399.76,49.68 399.78,49.80 399.80,49.93 399.82,50.06 399.84,50.19 399.86,50.32 399.88,50.45 399.90,50.58 399.92,50.71 399.94,50.84 399.96,50.97 399.98,51.11 400.01,51.24 400.03,51.37 400.05,51.50 400.07,51.64 400.10,51.77 400.12,51.91 400.14,52.04 400.17,52.18 400.19,52.31 400.21,52.45 400.24,52.59 400.26,52.72 400.29,52.86 400.31,53.00 400.34,53.14 400.36,53.28 400.39,53.42 400.42,53.56 400.44,53.70 400.47,53.84 400.50,53.98 400.52,54.12 400.55,54.26 400.58,54.41 400.61,54.55 400.64,54.69 400.67,54.84 400.70,54.98 400.72,55.13 400.75,55.27 400.79,55.42 400.82,55.56 400.85,55.71 400.88,55.86 400.91,56.01 400.94,56.15 400.97,56.30 401.01,56.45 401.04,56.60 401.07,56.75 401.11,56.90 401.14,57.05 401.18,57.20 401.21,57.35 401.25,57.51 401.28,57.66 401.32,57.81 401.35,57.97 401.39,58.12 401.43,58.27 401.47,58.43 401.50,58.58 401.54,58.74 401.58,58.90 401.62,59.05 401.66,59.21 401.70,59.37 401.74,59.53 401.78,59.69 401.83,59.84 401.87,60.00 401.91,60.16 401.95,60.32 402.00,60.49 402.04,60.65 402.08,60.81 402.13,60.97 402.18,61.13 402.22,61.30 402.27,61.46 402.31,61.62 402.36,61.79 402.41,61.95 402.46,62.12 402.51,62.29 402.56,62.45 402.61,62.62 402.66,62.79 402.71,62.96 402.76,63.12 402.81,63.29 402.87,63.46 402.92,63.63 402.97,63.80 403.03,63.97 403.08,64.14 403.14,64.32 403.20,64.49 403.25,64.66 403.31,64.83 403.37,65.01 403.43,65.18 403.49,65.36 403.55,65.53 403.61,65.71 403.67,65.88 403.73,66.06 403.80,66.24 403.86,66.41 403.93,66.59 403.99,66.77 404.06,66.95 404.12,67.13 404.19,67.31 404.26,67.49 404.33,67.67 404.40,67.85 404.47,68.03 404.54,68.22 404.61,68.40 404.68,68.58 404.76,68.77 404.83,68.95 404.91,69.13 404.98,69.32 405.06,69.51 405.14,69.69 405.22,69.88 405.30,70.07 405.38,70.25 405.46,70.44 405.54,70.63 405.62,70.82 405.71,71.01 405.79,71.20 405.88,71.39 405.96,71.58 406.05,71.77 406.14,71.97 406.23,72.16 406.32,72.35 406.41,72.55 406.50,72.74 406.60,72.94 406.69,73.13 406.79,73.33 406.88,73.52 406.98,73.72 407.08,73.92 407.18,74.12 407.28,74.32 407.38,74.51 407.49,74.71 407.59,74.91 407.70,75.11 407.80,75.32 407.91,75.52 408.02,75.72 408.13,75.92 408.24,76.13 408.36,76.33 408.47,76.53 408.58,76.74 408.70,76.94 408.82,77.15 408.94,77.36 409.06,77.56 409.18,77.77 409.30,77.98 409.43,78.19 409.55,78.40 409.68,78.61 409.81,78.82 409.94,79.03 410.07,79.24 410.20,79.45 410.34,79.66 410.47,79.88 410.61,80.09 410.75,80.31 410.89,80.52 411.03,80.74 411.17,80.95 411.32,81.17 411.47,81.39 411.61,81.60 411.76,81.82 411.92,82.04 412.07,82.26 412.22,82.48 412.38,82.70 412.54,82.92 412.70,83.15 412.86,83.37 413.02,83.59 413.19,83.82 413.36,84.04 413.52,84.26 413.70,84.49 413.87,84.72 414.04,84.94 414.22,85.17 414.40,85.40 414.58,85.63 414.76,85.86 414.94,86.09 415.13,86.32 415.32,86.55 415.51,86.78 415.70,87.01 415.90,87.25 416.09,87.48 416.29,87.72 416.50,87.95 416.70,88.19 416.90,88.42 417.11,88.66 417.32,88.90 417.54,89.14 417.75,89.38 417.97,89.62 418.19,89.86 418.41,90.10 418.63,90.34 418.86,90.59 419.09,90.83 419.32,91.07 419.56,91.32 419.79,91.57 420.03,91.81 420.28,92.06 420.52,92.31 420.77,92.56 421.02,92.81 421.27,93.06 421.53,93.31 421.79,93.56 422.05,93.81 422.32,94.07 422.58,94.32 422.85,94.58 423.13,94.83 423.40,95.09 423.68,95.35 423.97,95.60 424.25,95.86 424.54,96.12 424.83,96.38 425.13,96.65 425.43,96.91 425.73,97.17 426.03,97.44 426.34,97.70 426.65,97.97 426.97,98.24 427.29,98.50 427.61,98.77 427.94,99.04 428.26,99.31 428.60,99.59 428.93,99.86 429.27,100.13 429.62,100.41 429.97,100.68 430.32,100.96 430.67,101.24 431.03,101.51 431.40,101.79 431.76,102.07 432.14,102.36 432.51,102.64 432.89,102.92 433.28,103.21 433.66,103.49 434.06,103.78 434.45,104.07 434.85,104.36 435.26,104.65 435.67,104.94 436.08,105.23 436.50,105.53 436.93,105.82 437.36,106.12 437.79,106.41 438.23,106.71 438.67,107.01 439.12,107.31 439.57,107.62 440.03,107.92 440.49,108.22 440.96,108.53 441.43,108.84 441.91,109.15 442.39,109.46 442.88,109.77 443.37,110.08 443.87,110.39 444.38,110.71 444.89,111.03 445.40,111.35 445.92,111.67 446.45,111.99 446.98,112.31 447.52,112.63 448.07,112.96 448.62,113.29 449.18,113.62 449.74,113.95 450.31,114.28 450.88,114.61 451.47,114.95 452.06,115.29 452.65,115.63 453.25,115.97 453.86,116.31 454.47,116.65 455.10,117.00 455.72,117.35 456.36,117.70 457.00,118.05 457.65,118.40 458.31,118.76 458.97,119.12 459.64,119.48 460.32,119.84 461.00,120.20 461.70,120.57 462.40,120.93 463.11,121.31 463.82,121.68 464.55,122.05 465.28,122.43 466.02,122.81 466.77,123.19 467.53,123.57 468.29,123.96 469.06,124.35 469.85,124.74 470.64,125.13 471.44,125.53 472.24,125.93 473.06,126.33 473.89,126.73 474.72,127.14 475.57,127.55 476.42,127.96 477.28,128.38 478.16,128.80 479.04,129.22 479.93,129.65 480.83,130.07 481.74,130.50 482.66,130.94 483.60,131.38 484.54,131.82 485.49,132.26 486.45,132.71 487.43,133.16 488.41,133.61 489.40,134.07 490.41,134.53 491.43,135.00 492.46,135.47 493.50,135.94 494.55,136.42 495.61,136.90 496.68,137.38 497.77,137.87 498.87,138.36 499.98,138.86 501.10,139.36 502.23,139.87 503.38,140.38 504.54,140.89 505.71,141.41 506.90,141.94 508.09,142.46 509.31,143.00 510.53,143.54 511.77,144.08 513.02,144.63 514.29,145.18 515.57,145.74 516.86,146.30 518.17,146.87 519.49,147.45 520.83,148.03 522.18,148.61 523.55,149.21 524.93,149.80 526.32,150.41 527.74,151.02 529.16,151.63 530.61,152.25 532.07,152.88 533.54,153.51 535.03,154.15 536.54,154.80 538.06,155.45 539.61,156.11 541.16,156.78 542.74,157.45 544.33,158.13 545.94,158.82 547.57,159.51 549.22,160.21 550.88,160.92 552.56,161.64 554.26,162.36 555.98,163.09 557.72,163.83 559.48,164.58 561.26,165.33 563.05,166.10 564.87,166.87 566.70,167.65 568.56,168.43 570.44,169.23 572.33,170.03 574.25,170.85 576.19,171.67 578.15,172.50 580.14,173.34 582.14,174.19 584.17,175.04 586.21,175.91 588.29,176.79 590.38,177.67 592.50,178.57 594.64,179.47 596.80,180.39 598.99,181.31 601.20,182.25 603.44,183.19 605.70,184.15 607.98,185.11 610.29,186.09 612.63,187.07 614.99,188.07 617.38,189.08 619.79,190.10 622.23,191.13 624.70,192.17" fill="none" stroke="#000000" stroke-width="2.5" stroke-linejoin="round" stroke-linecap="round"/><polyline points="398.00,20.50 398.01,24.16 398.02,25.62 398.02,26.72 398.03,27.64 398.04,28.43 398.05,29.15 398.06,29.79 398.07,30.39 398.07,30.95 398.08,31.47 398.09,31.96 398.10,32.43 398.11,32.88 398.12,33.30 398.12,33.71 398.13,34.10 398.14,34.48 398.15,34.84 398.16,35.20 398.17,35.54 398.17,35.87 398.18,36.19 398.19,36.51 398.20,36.81 398.21,37.11 398.21,37.40 398.22,37.69 398.23,37.96 398.24,38.24 398.25,38.50 398.26,38.76 398.26,39.02 398.27,39.27 398.28,39.51 398.29,39.75 398.30,39.99 398.31,40.22 398.31,40.45 398.32,40.68 398.33,40.76 398.33,40.84 398.33,40.92 398.33,41.00 398.34,41.08 398.34,41.16 398.34,41.24 398.35,41.32 398.35,41.40 398.35,41.49 398.36,41.57 398.36,41.65 398.36,41.74 398.37,41.82 398.37,41.90 398.37,41.99 398.38,42.07 398.38,42.16 398.38,42.24 398.39,42.32 398.39,42.41 398.39,42.50 398.40,42.58 398.40,42.67 398.41,42.75 398.41,42.84 398.41,42.93 398.42,43.02 398.42,43.10 398.42,43.19 398.43,43.28 398.43,43.37 398.44,43.46 398.44,43.54 398.44,43.63 398.45,43.72 398.45,43.81 398.46,43.90 398.46,43.99 398.47,44.08 398.47,44.18 398.47,44.27 398.48,44.36 398.48,44.45 398.49,44.54 398.49,44.64 398.50,44.73 398.50,44.82 398.51,44.91 398.51,45.01 398.51,45.10 398.52,45.20 398.52,45.29 398.53,45.39 398.53,45.48 398.54,45.58 398.54,45.67 398.55,45.77 398.55,45.86 398.56,45.96 398.56,46.06 398.57,46.15 398.57,46.25 398.58,46.35 398.59,46.45 398.59,46.55 398.60,46.64 398.60,46.74 398.61,46.84 398.61,46.94 398.62,47.04 398.62,47.14 398.63,47.24 398.64,47.34 398.64,47.45 398.65,47.55 398.65,47.65 398.66,47.75 398.67,47.85 398.67,47.96 398.68,48.06 398.68,48.16 398.69,48.26 398.70,48.37 398.70,48.47 398.71,48.58 398.72,48.68 398.72,48.79 398.73,48.89 398.74,49.00 398.74,49.10 398.75,49.21 398.76,49.32 398.76,49.42 398.77,49.53 398.78,49.64 398.78,49.75 398.79,49.86 398.80,49.96 398.81,50.07 398.81,50.18 398.82,50.29 398.83,50.40 398.84,50.51 398.84,50.62 398.85,50.73 398.86,50.84 398.87,50.96 398.88,51.07 398.88,51.18 398.89,51.29 398.90,51.40 398.91,51.52 398.92,51.63 398.93,51.74 398.93,51.86 398.94,51.97 398.95,52.09 398.96,52.20 398.97,52.32 398.98,52.43 398.99,52.55 399.00,52.67 399.00,52.78 399.01,52.90 399.02,53.02 399.03,53.13 399.04,53.25 399.05,53.37 399.06,53.49 399.07,53.61 399.08,53.73 399.09,53.85 399.10,53.97 399.11,54.09 399.12,54.21 399.13,54.33 399.14,54.45 399.15,54.57 399.16,54.69 399.17,54.81 399.18,54.94 399.20,55.06 399.21,55.18 399.22,55.31 399.23,55.43 399.24,55.56 399.25,55.68 399.26,55.80 399.27,55.93 399.29,56.06 399.30,56.18 399.31,56.31 399.32,56.43 399.33,56.56 399.35,56.69 399.36,56.82 399.37,56.94 399.38,57.07 399.40,57.20 399.41,57.33 399.42,57.46 399.44,57.59 399.45,57.72 399.46,57.85 399.48,57.98 399.49,58.11 399.50,58.24 399.52,58.37 399.53,58.51 399.55,58.64 399.56,58.77 399.57,58.90 399.59,59.04 399.60,59.17 399.62,59.31 399.63,59.44 399.65,59.57 399.66,59.71 399.68,59.84 399.69,59.98 399.71,60.12 399.72,60.25 399.74,60.39 399.76,60.53 399.77,60.67 399.79,60.80 399.81,60.94 399.82,61.08 399.84,61.22 399.86,61.36 399.87,61.50 399.89,61.64 399.91,61.78 399.93,61.92 399.94,62.06 399.96,62.20 399.98,62.34 400.00,62.49 400.02,62.63 400.03,62.77 400.05,62.92 400.07,63.06 400.09,63.20 400.11,63.35 400.13,63.49 400.15,63.64 400.17,63.78 400.19,63.93 400.21,64.07 400.23,64.22 400.25,64.37 400.27,64.52 400.29,64.66 400.31,64.81 400.33,64.96 400.36,65.11 400.38,65.26 400.40,65.41 400.42,65.56 400.44,65.71 400.47,65.86 400.49,66.01 400.51,66.16 400.53,66.31 400.56,66.46 400.58,66.62 400.60,66.77 400.63,66.92 400.65,67.08 400.68,67.23 400.70,67.38 400.73,67.54 400.75,67.69 400.78,67.85 400.80,68.01 400.83,68.16 400.85,68.32 400.88,68.48 400.91,68.63 400.93,68.79 400.96,68.95 400.99,69.11 401.02,69.27 401.04,69.43 401.07,69.59 401.10,69.75 401.13,69.91 401.16,70.07 401.19,70.23 401.22,70.39 401.25,70.55 401.28,70.71 401.31,70.88 401.34,71.04 401.37,71.20 401.40,71.37 401.43,71.53 401.46,71.70 401.49,71.86 401.52,72.03 401.56,72.19 401.59,72.36 401.62,72.53 401.66,72.69 401.69,72.86 401.72,73.03 401.76,73.20 401.79,73.37 401.83,73.54 401.86,73.71 401.90,73.88 401.93,74.05 401.97,74.22 402.01,74.39 402.04,74.56 402.08,74.73 402.12,74.91 402.16,75.08 402.19,75.25 402.23,75.43 402.27,75.60 402.31,75.78 402.35,75.95 402.39,76.13 402.43,76.30 402.47,76.48 402.51,76.66 402.56,76.83 402.60,77.01 402.64,77.19 402.68,77.37 402.73,77.55 402.77,77.73 402.81,77.91 402.86,78.09 402.90,78.27 402.95,78.45 402.99,78.63 403.04,78.81 403.08,78.99 403.13,79.18 403.18,79.36 403.23,79.55 403.27,79.73 403.32,79.92 403.37,80.10 403.42,80.29 403.47,80.47 403.52,80.66 403.57,80.85 403.62,81.03 403.68,81.22 403.73,81.41 403.78,81.60 403.83,81.79 403.89,81.98 403.94,82.17 404.00,82.36 404.05,82.55 404.11,82.75 404.16,82.94 404.22,83.13 404.28,83.32 404.34,83.52 404.39,83.71 404.45,83.91 404.51,84.10 404.57,84.30 404.63,84.50 404.69,84.69 404.76,84.89 404.82,85.09 404.88,85.29 404.94,85.49 405.01,85.69 405.07,85.89 405.14,86.09 405.20,86.29 405.27,86.49 405.34,86.69 405.40,86.90 405.47,87.10 405.54,87.30 405.61,87.51 405.68,87.71 405.75,87.92 405.82,88.13 405.89,88.33 405.97,88.54 406.04,88.75 406.11,88.96 406.19,89.17 406.26,89.38 406.34,89.59 406.42,89.80 406.49,90.01 406.57,90.22 406.65,90.43 406.73,90.65 406.81,90.86 406.89,91.08 406.97,91.29 407.06,91.51 407.14,91.72 407.22,91.94 407.31,92.16 407.39,92.38 407.48,92.60 407.57,92.82 407.66,93.04 407.75,93.26 407.84,93.48 407.93,93.70 408.02,93.92 408.11,94.15 408.20,94.37 408.30,94.60 408.39,94.82 408.49,95.05 408.58,95.28 408.68,95.50 408.78,95.73 408.88,95.96 408.98,96.19 409.08,96.42 409.18,96.65 409.28,96.89 409.39,97.12 409.49,97.35 409.60,97.59 409.71,97.82 409.81,98.06 409.92,98.29 410.03,98.53 410.14,98.77 410.25,99.01 410.37,99.25 410.48,99.49 410.60,99.73 410.71,99.97 410.83,100.22 410.95,100.46 411.07,100.71 411.19,100.95 411.31,101.20 411.43,101.45 411.55,101.69 411.68,101.94 411.80,102.19 411.93,102.44 412.06,102.70 412.19,102.95 412.32,103.20 412.45,103.46 412.58,103.71 412.72,103.97 412.85,104.23 412.99,104.49 413.13,104.75 413.27,105.01 413.41,105.27 413.55,105.53 413.69,105.79 413.84,106.06 413.98,106.32 414.13,106.59 414.28,106.86 414.43,107.13 414.58,107.40 414.73,107.67 414.89,107.94 415.04,108.21 415.20,108.49 415.36,108.76 415.52,109.04 415.68,109.32 415.84,109.60 416.01,109.88 416.17,110.16 416.34,110.44 416.51,110.73 416.68,111.01 416.85,111.30 417.02,111.59 417.20,111.87 417.38,112.17 417.55,112.46 417.73,112.75 417.92,113.04 418.10,113.34 418.28,113.64 418.47,113.94 418.66,114.24 418.85,114.54 419.04,114.84 419.23,115.15 419.43,115.45 419.63,115.76 419.83,116.07 420.03,116.38 420.23,116.69 420.43,117.01 420.64,117.32 420.85,117.64 421.06,117.96 421.27,118.28 421.49,118.60 421.70,118.93 421.92,119.25 422.14,119.58 422.36,119.91 422.59,120.24 422.81,120.57 423.04,120.91 423.27,121.24 423.51,121.58 423.74,121.92 423.98,122.27 424.22,122.61 424.46,122.96 424.70,123.31 424.95,123.66 425.19,124.01 425.44,124.37 425.70,124.73 425.95,125.09 426.21,125.45 426.47,125.81 426.73,126.18 427.00,126.55 427.26,126.92 427.53,127.29 427.80,127.67 428.08,128.05 428.36,128.43 428.63,128.81 428.92,129.20 429.20,129.59 429.49,129.98 429.78,130.38 430.07,130.77 430.37,131.17 430.66,131.57 430.96,131.98 431.27,132.39 431.57,132.80 431.88,133.21 432.20,133.63 432.51,134.05 432.83,134.48 433.15,134.90 433.47,135.33 433.80,135.77 434.13,136.20 434.46,136.64 434.80,137.08 435.13,137.53 435.48,137.98 435.82,138.43 436.17,138.89 436.52,139.35 436.88,139.81 437.23,140.28 437.59,140.75 437.96,141.23 438.33,141.71 438.70,142.19 439.07,142.67 439.45,143.17 439.83,143.66 440.22,144.16 440.61,144.66 441.00,145.17 441.39,145.68 441.79,146.19 442.20,146.71 442.60,147.24 443.01,147.76 443.43,148.30 443.85,148.83 444.27,149.38 444.69,149.92 445.12,150.47 445.56,151.03 445.99,151.59 446.44,152.15 446.88,152.72 447.33,153.30 447.79,153.88 448.24,154.46 448.71,155.05 449.17,155.65 449.65,156.25 450.12,156.86 450.60,157.47 451.08,158.08 451.57,158.70 452.07,159.33 452.56,159.96 453.07,160.60 453.57,161.25 454.08,161.90 454.60,162.55 455.12,163.21 455.65,163.88 456.18,164.56 456.71,165.24 457.25,165.92 457.80,166.61 458.35,167.31 458.91,168.01 459.47,168.73 460.03,169.44 460.60,170.17 461.18,170.90 461.76,171.63 462.35,172.38 462.94,173.13 463.54,173.88 464.14,174.65 464.75,175.42 465.36,176.20 465.98,176.98 466.61,177.77 467.24,178.57 467.88,179.38 468.52,180.19 469.17,181.01 469.83,181.84 470.49,182.68 471.15,183.52 471.83,184.37 472.51,185.23 473.19,186.10 473.89,186.98 474.58,187.86 475.29,188.75 476.00,189.65" fill="none" stroke="#008000" stroke-width="2.5" stroke-linejoin="round" stroke-linecap="round"/><polyline points="398.00,20.50 398.01,23.05 398.02,24.09 398.02,24.87 398.03,25.52 398.04,26.09 398.05,26.60 398.06,27.07 398.07,27.50 398.07,27.90 398.08,28.28 398.09,28.64 398.10,28.98 398.11,29.31 398.12,29.62 398.12,29.92 398.13,30.21 398.14,30.49 398.15,30.76 398.16,31.02 398.17,31.27 398.17,31.52 398.18,31.75 398.19,31.99 398.20,32.22 398.21,32.44 398.21,32.65 398.22,32.87 398.23,33.07 398.24,33.28 398.25,33.48 398.26,33.67 398.26,33.86 398.27,34.05 398.28,34.24 398.29,34.42 398.30,34.60 398.31,34.77 398.31,34.94 398.32,35.11 398.33,35.18 398.33,35.25 398.33,35.32 398.34,35.39 398.34,35.46 398.34,35.52 398.35,35.59 398.35,35.66 398.35,35.73 398.36,35.80 398.36,35.87 398.36,35.94 398.37,36.02 398.37,36.09 398.38,36.16 398.38,36.23 398.38,36.30 398.39,36.37 398.39,36.45 398.40,36.52 398.40,36.59 398.40,36.67 398.41,36.74 398.41,36.82 398.42,36.89 398.42,36.97 398.43,37.04 398.43,37.12 398.43,37.19 398.44,37.27 398.44,37.34 398.45,37.42 398.45,37.50 398.46,37.57 398.46,37.65 398.47,37.73 398.47,37.81 398.48,37.89 398.48,37.97 398.49,38.04 398.49,38.12 398.50,38.20 398.50,38.28 398.51,38.36 398.51,38.45 398.52,38.53 398.52,38.61 398.53,38.69 398.53,38.77 398.54,38.85 398.54,38.94 398.55,39.02 398.56,39.10 398.56,39.19 398.57,39.27 398.57,39.35 398.58,39.44 398.58,39.52 398.59,39.61 398.60,39.69 398.60,39.78 398.61,39.87 398.62,39.95 398.62,40.04 398.63,40.13 398.63,40.21 398.64,40.30 398.65,40.39 398.65,40.48 398.66,40.57 398.67,40.66 398.67,40.75 398.68,40.84 398.69,40.93 398.70,41.02 398.70,41.11 398.71,41.20 398.72,41.29 398.72,41.38 398.73,41.48 398.74,41.57 398.75,41.66 398.75,41.75 398.76,41.85 398.77,41.94 398.78,42.04 398.79,42.13 398.79,42.23 398.80,42.32 398.81,42.42 398.82,42.51 398.83,42.61 398.84,42.71 398.85,42.80 398.85,42.90 398.86,43.00 398.87,43.10 398.88,43.20 398.89,43.30 398.90,43.39 398.91,43.49 398.92,43.59 398.93,43.69 398.94,43.80 398.95,43.90 398.96,44.00 398.97,44.10 398.98,44.20 398.99,44.31 399.00,44.41 399.01,44.51 399.02,44.62 399.03,44.72 399.04,44.82 399.05,44.93 399.06,45.03 399.07,45.14 399.08,45.25 399.09,45.35 399.10,45.46 399.11,45.57 399.13,45.67 399.14,45.78 399.15,45.89 399.16,46.00 399.17,46.11 399.19,46.22 399.20,46.33 399.21,46.44 399.22,46.55 399.23,46.66 399.25,46.77 399.26,46.88 399.27,46.99 399.29,47.11 399.30,47.22 399.31,47.33 399.33,47.45 399.34,47.56 399.35,47.67 399.37,47.79 399.38,47.90 399.40,48.02 399.41,48.14 399.43,48.25 399.44,48.37 399.45,48.49 399.47,48.60 399.48,48.72 399.50,48.84 399.52,48.96 399.53,49.08 399.55,49.20 399.56,49.32 399.58,49.44 399.60,49.56 399.61,49.68 399.63,49.80 399.64,49.92 399.66,50.04 399.68,50.17 399.70,50.29 399.71,50.41 399.73,50.54 399.75,50.66 399.77,50.79 399.79,50.91 399.80,51.04 399.82,51.16 399.84,51.29 399.86,51.42 399.88,51.54 399.90,51.67 399.92,51.80 399.94,51.93 399.96,52.06 399.98,52.19 400.00,52.32 400.02,52.45 400.04,52.58 400.06,52.71 400.08,52.84 400.10,52.97 400.13,53.10 400.15,53.24 400.17,53.37 400.19,53.50 400.21,53.64 400.24,53.77 400.26,53.91 400.28,54.04 400.31,54.18 400.33,54.31 400.35,54.45 400.38,54.59 400.40,54.72 400.43,54.86 400.45,55.00 400.48,55.14 400.50,55.28 400.53,55.42 400.56,55.56 400.58,55.70 400.61,55.84 400.64,55.98 400.66,56.12 400.69,56.26 400.72,56.41 400.75,56.55 400.77,56.69 400.80,56.84 400.83,56.98 400.86,57.13 400.89,57.27 400.92,57.42 400.95,57.56 400.98,57.71 401.01,57.86 401.04,58.00 401.07,58.15 401.11,58.30 401.14,58.45 401.17,58.60 401.20,58.75 401.24,58.90 401.27,59.05 401.30,59.20 401.34,59.35 401.37,59.50 401.41,59.65 401.44,59.81 401.48,59.96 401.51,60.11 401.55,60.27 401.58,60.42 401.62,60.58 401.66,60.73 401.70,60.89 401.73,61.05 401.77,61.20 401.81,61.36 401.85,61.52 401.89,61.68 401.93,61.84 401.97,61.99 402.01,62.15 402.05,62.31 402.09,62.47 402.14,62.64 402.18,62.80 402.22,62.96 402.27,63.12 402.31,63.28 402.35,63.45 402.40,63.61 402.44,63.78 402.49,63.94 402.54,64.11 402.58,64.27 402.63,64.44 402.68,64.61 402.73,64.77 402.78,64.94 402.82,65.11 402.87,65.28 402.92,65.45 402.98,65.62 403.03,65.79 403.08,65.96 403.13,66.13 403.18,66.30 403.24,66.47 403.29,66.64 403.35,66.82 403.40,66.99 403.46,67.17 403.51,67.34 403.57,67.51 403.63,67.69 403.68,67.87 403.74,68.04 403.80,68.22 403.86,68.40 403.92,68.58 403.98,68.75 404.04,68.93 404.11,69.11 404.17,69.29 404.23,69.47 404.30,69.65 404.36,69.84 404.43,70.02 404.49,70.20 404.56,70.38 404.63,70.57 404.70,70.75 404.77,70.94 404.84,71.12 404.91,71.31 404.98,71.49 405.05,71.68 405.12,71.87 405.19,72.06 405.27,72.25 405.34,72.43 405.42,72.62 405.50,72.81 405.57,73.00 405.65,73.20 405.73,73.39 405.81,73.58 405.89,73.77 405.97,73.97 406.05,74.16 406.14,74.35 406.22,74.55 406.30,74.74 406.39,74.94 406.48,75.14 406.56,75.33 406.65,75.53 406.74,75.73 406.83,75.93 406.92,76.13 407.01,76.33 407.11,76.53 407.20,76.73 407.30,76.93 407.39,77.14 407.49,77.34 407.59,77.54 407.68,77.75 407.78,77.95 407.89,78.16 407.99,78.36 408.09,78.57 408.19,78.78 408.30,78.98 408.40,79.19 408.51,79.40 408.62,79.61 408.73,79.82 408.84,80.03 408.95,80.24 409.06,80.46 409.18,80.67 409.29,80.88 409.41,81.10 409.53,81.31 409.65,81.53 409.77,81.74 409.89,81.96 410.01,82.18 410.13,82.39 410.26,82.61 410.38,82.83 410.51,83.05 410.64,83.27 410.77,83.49 410.90,83.72 411.04,83.94 411.17,84.16 411.31,84.39 411.44,84.61 411.58,84.84 411.72,85.06 411.86,85.29 412.01,85.52 412.15,85.75 412.30,85.97 412.44,86.20 412.59,86.43 412.74,86.67 412.89,86.90 413.05,87.13 413.20,87.36 413.36,87.60 413.52,87.83 413.68,88.07 413.84,88.31 414.00,88.54 414.17,88.78 414.33,89.02 414.50,89.26 414.67,89.50 414.84,89.74 415.02,89.98 415.19,90.23 415.37,90.47 415.55,90.71 415.73,90.96 415.91,91.21 416.09,91.45 416.28,91.70 416.47,91.95 416.66,92.20 416.85,92.45 417.05,92.70 417.24,92.95 417.44,93.21 417.64,93.46 417.84,93.72 418.05,93.97 418.25,94.23 418.46,94.49 418.67,94.75 418.89,95.01 419.10,95.27 419.32,95.53 419.54,95.79 419.76,96.06 419.98,96.32 420.21,96.59 420.44,96.85 420.67,97.12 420.90,97.39 421.14,97.66 421.38,97.93 421.62,98.20 421.86,98.48 422.11,98.75 422.36,99.02 422.61,99.30 422.86,99.58 423.12,99.86 423.38,100.14 423.64,100.42 423.90,100.70 424.17,100.98 424.44,101.27 424.71,101.55 424.99,101.84 425.26,102.13 425.54,102.42 425.83,102.71 426.11,103.00 426.40,103.29 426.70,103.59 426.99,103.88 427.29,104.18 427.59,104.48 427.90,104.78 428.21,105.08 428.52,105.38 428.83,105.69 429.15,105.99 429.47,106.30 429.79,106.61 430.12,106.92 430.45,107.23 430.79,107.54 431.12,107.86 431.46,108.18 431.81,108.49 432.16,108.81 432.51,109.13 432.86,109.46 433.22,109.78 433.59,110.11 433.95,110.43 434.32,110.76 434.70,111.09 435.08,111.43 435.46,111.76 435.84,112.10 436.23,112.44 436.63,112.78 437.02,113.12 437.43,113.46 437.83,113.81 438.24,114.16 438.66,114.51 439.08,114.86 439.50,115.22 439.93,115.57 440.36,115.93 440.80,116.29 441.24,116.66 441.68,117.02 442.13,117.39 442.59,117.76 443.05,118.13 443.51,118.51 443.98,118.88 444.45,119.26 444.93,119.64 445.41,120.03 445.90,120.42 446.40,120.81 446.89,121.20 447.40,121.59 447.91,121.99 448.42,122.39 448.94,122.79 449.46,123.20 449.99,123.61 450.53,124.02 451.07,124.44 451.62,124.86 452.17,125.28 452.73,125.70 453.29,126.13 453.86,126.56 454.44,126.99 455.02,127.43 455.60,127.87 456.20,128.32 456.80,128.76 457.40,129.21 458.02,129.67 458.63,130.13 459.26,130.59 459.89,131.06 460.53,131.53 461.17,132.00 461.82,132.48 462.48,132.96 463.14,133.44 463.81,133.93 464.49,134.43 465.18,134.93 465.87,135.43 466.57,135.94 467.27,136.45 467.99,136.96 468.71,137.48 469.44,138.01 470.17,138.54 470.92,139.07 471.67,139.61 472.43,140.15 473.19,140.70 473.97,141.26 474.75,141.82 475.54,142.38 476.34,142.95 477.14,143.52 477.96,144.10 478.78,144.69 479.62,145.28 480.46,145.88 481.31,146.48 482.16,147.09 483.03,147.70 483.91,148.32 484.79,148.95 485.69,149.58 486.59,150.22 487.50,150.86 488.42,151.51 489.35,152.17 490.30,152.83 491.25,153.50 492.21,154.17 493.18,154.86 494.16,155.55 495.15,156.24 496.15,156.94 497.16,157.65 498.18,158.37 499.21,159.10 500.25,159.83 501.31,160.57 502.37,161.31 503.45,162.06 504.53,162.83 505.63,163.59 506.74,164.37 507.86,165.16 508.99,165.95 510.13,166.75 511.29,167.56 512.46,168.37 513.63,169.20 514.83,170.03 516.03,170.87 517.25,171.72 518.47,172.58 519.71,173.45 520.97,174.33 522.23,175.21 523.51,176.11 524.81,177.01 526.11,177.92 527.43,178.84 528.77,179.78 530.11,180.72 531.47,181.67 532.85,182.63 534.24,183.60 535.64,184.58 537.06,185.57 538.49,186.57 539.94,187.58 541.40,188.60 542.88,189.63 544.37,190.67 545.88,191.73 547.40,192.79" fill="none" stroke="#ff0000" stroke-width="2.5" stroke-linejoin="round" stroke-linecap="round"/><polyline points="398.00,20.50 398.01,23.35 398.02,24.49 398.02,25.36 398.03,26.09 398.04,26.72 398.05,27.28 398.06,27.80 398.07,28.28 398.07,28.72 398.08,29.14 398.09,29.54 398.10,29.91 398.11,30.27 398.12,30.62 398.12,30.95 398.13,31.26 398.14,31.57 398.15,31.87 398.16,32.15 398.17,32.43 398.17,32.70 398.18,32.96 398.19,33.22 398.20,33.47 398.21,33.71 398.21,33.95 398.22,34.18 398.23,34.41 398.24,34.63 398.25,34.85 398.26,35.07 398.26,35.28 398.27,35.48 398.28,35.68 398.29,35.88 398.30,36.08 398.31,36.27 398.31,36.46 398.32,36.65 398.33,36.72 398.33,36.79 398.33,36.86 398.34,36.93 398.34,37.00 398.34,37.07 398.35,37.15 398.35,37.22 398.35,37.29 398.36,37.36 398.36,37.44 398.36,37.51 398.37,37.58 398.37,37.66 398.37,37.73 398.38,37.81 398.38,37.88 398.38,37.96 398.39,38.03 398.39,38.11 398.40,38.19 398.40,38.26 398.40,38.34 398.41,38.42 398.41,38.49 398.42,38.57 398.42,38.65 398.42,38.73 398.43,38.80 398.43,38.88 398.44,38.96 398.44,39.04 398.45,39.12 398.45,39.20 398.45,39.28 398.46,39.36 398.46,39.44 398.47,39.52 398.47,39.61 398.48,39.69 398.48,39.77 398.49,39.85 398.49,39.93 398.50,40.02 398.50,40.10 398.51,40.18 398.51,40.27 398.52,40.35 398.52,40.44 398.53,40.52 398.53,40.61 398.54,40.69 398.54,40.78 398.55,40.86 398.55,40.95 398.56,41.04 398.56,41.12 398.57,41.21 398.57,41.30 398.58,41.38 398.59,41.47 398.59,41.56 398.60,41.65 398.60,41.74 398.61,41.83 398.61,41.92 398.62,42.01 398.63,42.10 398.63,42.19 398.64,42.28 398.65,42.37 398.65,42.46 398.66,42.56 398.66,42.65 398.67,42.74 398.68,42.83 398.68,42.93 398.69,43.02 398.70,43.11 398.70,43.21 398.71,43.30 398.72,43.40 398.73,43.49 398.73,43.59 398.74,43.69 398.75,43.78 398.75,43.88 398.76,43.97 398.77,44.07 398.78,44.17 398.78,44.27 398.79,44.37 398.80,44.46 398.81,44.56 398.82,44.66 398.82,44.76 398.83,44.86 398.84,44.96 398.85,45.06 398.86,45.16 398.87,45.27 398.87,45.37 398.88,45.47 398.89,45.57 398.90,45.67 398.91,45.78 398.92,45.88 398.93,45.99 398.94,46.09 398.95,46.19 398.95,46.30 398.96,46.40 398.97,46.51 398.98,46.62 398.99,46.72 399.00,46.83 399.01,46.93 399.02,47.04 399.03,47.15 399.04,47.26 399.05,47.37 399.06,47.47 399.07,47.58 399.08,47.69 399.09,47.80 399.11,47.91 399.12,48.02 399.13,48.13 399.14,48.25 399.15,48.36 399.16,48.47 399.17,48.58 399.18,48.69 399.20,48.81 399.21,48.92 399.22,49.03 399.23,49.15 399.24,49.26 399.25,49.38 399.27,49.49 399.28,49.61 399.29,49.73 399.31,49.84 399.32,49.96 399.33,50.08 399.34,50.19 399.36,50.31 399.37,50.43 399.38,50.55 399.40,50.67 399.41,50.79 399.43,50.91 399.44,51.03 399.45,51.15 399.47,51.27 399.48,51.39 399.50,51.51 399.51,51.63 399.53,51.75 399.54,51.88 399.56,52.00 399.57,52.12 399.59,52.25 399.60,52.37 399.62,52.50 399.63,52.62 399.65,52.75 399.67,52.87 399.68,53.00 399.70,53.13 399.72,53.25 399.73,53.38 399.75,53.51 399.77,53.64 399.78,53.76 399.80,53.89 399.82,54.02 399.84,54.15 399.86,54.28 399.87,54.41 399.89,54.54 399.91,54.67 399.93,54.81 399.95,54.94 399.97,55.07 399.99,55.20 400.01,55.34 400.03,55.47 400.05,55.60 400.07,55.74 400.09,55.87 400.11,56.01 400.13,56.15 400.15,56.28 400.17,56.42 400.19,56.55 400.21,56.69 400.23,56.83 400.26,56.97 400.28,57.11 400.30,57.24 400.32,57.38 400.35,57.52 400.37,57.66 400.39,57.80 400.42,57.95 400.44,58.09 400.46,58.23 400.49,58.37 400.51,58.51 400.54,58.66 400.56,58.80 400.59,58.94 400.61,59.09 400.64,59.23 400.66,59.38 400.69,59.52 400.72,59.67 400.74,59.82 400.77,59.96 400.80,60.11 400.82,60.26 400.85,60.40 400.88,60.55 400.91,60.70 400.94,60.85 400.97,61.00 401.00,61.15 401.03,61.30 401.05,61.45 401.08,61.60 401.12,61.76 401.15,61.91 401.18,62.06 401.21,62.21 401.24,62.37 401.27,62.52 401.30,62.68 401.34,62.83 401.37,62.99 401.40,63.14 401.43,63.30 401.47,63.45 401.50,63.61 401.54,63.77 401.57,63.93 401.61,64.08 401.64,64.24 401.68,64.40 401.71,64.56 401.75,64.72 401.79,64.88 401.82,65.04 401.86,65.21 401.90,65.37 401.94,65.53 401.98,65.69 402.02,65.86 402.06,66.02 402.10,66.18 402.14,66.35 402.18,66.51 402.22,66.68 402.26,66.84 402.30,67.01 402.34,67.18 402.39,67.35 402.43,67.51 402.47,67.68 402.52,67.85 402.56,68.02 402.61,68.19 402.65,68.36 402.70,68.53 402.74,68.70 402.79,68.87 402.84,69.04 402.88,69.22 402.93,69.39 402.98,69.56 403.03,69.74 403.08,69.91 403.13,70.09 403.18,70.26 403.23,70.44 403.28,70.61 403.33,70.79 403.39,70.97 403.44,71.15 403.49,71.32 403.55,71.50 403.60,71.68 403.66,71.86 403.71,72.04 403.77,72.22 403.82,72.40 403.88,72.59 403.94,72.77 404.00,72.95 404.06,73.13 404.12,73.32 404.18,73.50 404.24,73.69 404.30,73.87 404.36,74.06 404.42,74.25 404.48,74.43 404.55,74.62 404.61,74.81 404.68,75.00 404.74,75.18 404.81,75.37 404.88,75.56 404.94,75.75 405.01,75.95 405.08,76.14 405.15,76.33 405.22,76.52 405.29,76.72 405.36,76.91 405.44,77.10 405.51,77.30 405.58,77.49 405.66,77.69 405.73,77.89 405.81,78.08 405.88,78.28 405.96,78.48 406.04,78.68 406.12,78.88 406.20,79.08 406.28,79.28 406.36,79.48 406.44,79.68 406.53,79.88 406.61,80.09 406.69,80.29 406.78,80.49 406.87,80.70 406.95,80.90 407.04,81.11 407.13,81.32 407.22,81.52 407.31,81.73 407.40,81.94 407.49,82.15 407.59,82.36 407.68,82.57 407.78,82.78 407.87,82.99 407.97,83.20 408.07,83.41 408.17,83.63 408.27,83.84 408.37,84.05 408.47,84.27 408.57,84.49 408.68,84.70 408.78,84.92 408.89,85.14 408.99,85.36 409.10,85.57 409.21,85.79 409.32,86.02 409.43,86.24 409.54,86.46 409.66,86.68 409.77,86.90 409.89,87.13 410.00,87.35 410.12,87.58 410.24,87.80 410.36,88.03 410.48,88.26 410.61,88.49 410.73,88.72 410.85,88.95 410.98,89.18 411.11,89.41 411.24,89.64 411.37,89.87 411.50,90.11 411.63,90.34 411.76,90.58 411.90,90.81 412.04,91.05 412.17,91.29 412.31,91.52 412.45,91.76 412.60,92.00 412.74,92.24 412.88,92.49 413.03,92.73 413.18,92.97 413.33,93.22 413.48,93.46 413.63,93.71 413.78,93.95 413.94,94.20 414.10,94.45 414.25,94.70 414.41,94.95 414.57,95.20 414.74,95.45 414.90,95.71 415.07,95.96 415.24,96.21 415.40,96.47 415.58,96.73 415.75,96.98 415.92,97.24 416.10,97.50 416.28,97.76 416.46,98.03 416.64,98.29 416.82,98.55 417.01,98.82 417.19,99.08 417.38,99.35 417.57,99.62 417.76,99.89 417.96,100.16 418.15,100.43 418.35,100.70 418.55,100.97 418.75,101.25 418.96,101.53 419.16,101.80 419.37,102.08 419.58,102.36 419.79,102.64 420.01,102.92 420.22,103.21 420.44,103.49 420.66,103.77 420.88,104.06 421.11,104.35 421.34,104.64 421.57,104.93 421.80,105.22 422.03,105.51 422.27,105.81 422.50,106.10 422.75,106.40 422.99,106.70 423.23,107.00 423.48,107.30 423.73,107.61 423.99,107.91 424.24,108.22 424.50,108.52 424.76,108.83 425.02,109.14 425.29,109.46 425.55,109.77 425.83,110.09 426.10,110.40 426.37,110.72 426.65,111.04 426.94,111.36 427.22,111.69 427.51,112.01 427.80,112.34 428.09,112.67 428.38,113.00 428.68,113.33 428.98,113.67 429.29,114.00 429.60,114.34 429.91,114.68 430.22,115.02 430.54,115.37 430.86,115.71 431.18,116.06 431.50,116.41 431.83,116.77 432.17,117.12 432.50,117.48 432.84,117.84 433.18,118.20 433.53,118.56 433.88,118.93 434.23,119.30 434.59,119.67 434.95,120.04 435.31,120.41 435.67,120.79 436.04,121.17 436.42,121.56 436.80,121.94 437.18,122.33 437.56,122.72 437.95,123.11 438.34,123.51 438.74,123.91 439.14,124.31 439.54,124.72 439.95,125.12 440.36,125.53 440.78,125.95 441.20,126.36 441.62,126.78 442.05,127.21 442.49,127.63 442.92,128.06 443.36,128.49 443.81,128.93 444.26,129.37 444.71,129.81 445.17,130.26 445.64,130.71 446.10,131.16 446.58,131.62 447.05,132.08 447.54,132.54 448.02,133.01 448.51,133.48 449.01,133.95 449.51,134.43 450.02,134.92 450.53,135.40 451.04,135.89 451.57,136.39 452.09,136.89 452.62,137.39 453.16,137.90 453.70,138.41 454.25,138.93 454.80,139.45 455.36,139.98 455.92,140.51 456.49,141.04 457.07,141.58 457.65,142.13 458.23,142.68 458.82,143.23 459.42,143.79 460.03,144.36 460.63,144.93 461.25,145.50 461.87,146.08 462.50,146.67 463.13,147.26 463.77,147.85 464.42,148.45 465.07,149.06 465.73,149.67 466.39,150.29 467.07,150.91 467.74,151.54 468.43,152.18 469.12,152.82 469.82,153.47 470.53,154.12 471.24,154.78 471.96,155.45 472.68,156.12 473.42,156.80 474.16,157.48 474.91,158.18 475.66,158.87 476.43,159.58 477.20,160.29 477.97,161.01 478.76,161.73 479.55,162.47 480.35,163.20 481.16,163.95 481.98,164.70 482.80,165.47 483.64,166.23 484.48,167.01 485.33,167.79 486.19,168.58 487.05,169.38 487.93,170.19 488.81,171.00 489.70,171.82 490.60,172.65 491.51,173.49 492.43,174.34 493.36,175.19 494.30,176.05 495.24,176.92 496.20,177.80 497.16,178.69 498.14,179.59 499.12,180.49 500.11,181.41 501.12,182.33 502.13,183.26 503.15,184.20 504.19,185.15 505.23,186.11 506.28,187.08 507.35,188.06 508.42,189.05 509.50,190.05 510.60,191.06" fill="none" stroke="#0000ff" stroke-width="2.5" stroke-linejoin="round" stroke-linecap="round"/></g>
<line x1="393.8" y1="20.5" x2="398" y2="20.5" stroke="#000" stroke-width="2"/>
<text transform="translate(392.4,25.4) scale(1,1.06)" font-family="Liberation Serif" stroke="#000" stroke-width="0.15" font-size="16.5" text-anchor="end" fill="#000">1</text>
<line x1="393.8" y1="98.5" x2="398" y2="98.5" stroke="#000" stroke-width="2"/>
<text transform="translate(392.4,103.4) scale(1,1.06)" font-family="Liberation Serif" stroke="#000" stroke-width="0.15" font-size="16.5" text-anchor="end" fill="#000">0.1</text>
<line x1="393.8" y1="176.5" x2="398" y2="176.5" stroke="#000" stroke-width="2"/>
<text transform="translate(392.4,181.4) scale(1,1.06)" font-family="Liberation Serif" stroke="#000" stroke-width="0.15" font-size="16.5" text-anchor="end" fill="#000">0.01</text>
<line x1="398.0" y1="223.5" x2="398.0" y2="227.6" stroke="#000" stroke-width="2"/>
<text transform="translate(397.8,240.8) scale(1,1.07)" font-family="Liberation Serif" stroke="#000" stroke-width="0.15" font-size="15.8" text-anchor="middle" fill="#000">0</text>
<line x1="462.5" y1="223.5" x2="462.5" y2="227.6" stroke="#000" stroke-width="2"/>
<text transform="translate(462.3,240.8) scale(1,1.07)" font-family="Liberation Serif" stroke="#000" stroke-width="0.15" font-size="15.8" text-anchor="middle" fill="#000">400</text>
<line x1="527.0" y1="223.5" x2="527.0" y2="227.6" stroke="#000" stroke-width="2"/>
<text transform="translate(526.8,240.8) scale(1,1.07)" font-family="Liberation Serif" stroke="#000" stroke-width="0.15" font-size="15.8" text-anchor="middle" fill="#000">800</text>
<line x1="591.5" y1="223.5" x2="591.5" y2="227.6" stroke="#000" stroke-width="2"/>
<text transform="translate(591.3,240.8) scale(1,1.07)" font-family="Liberation Serif" stroke="#000" stroke-width="0.15" font-size="15.8" text-anchor="middle" fill="#000">1200</text>
<line x1="656.0" y1="223.5" x2="656.0" y2="227.6" stroke="#000" stroke-width="2"/>
<text transform="translate(655.8,240.8) scale(1,1.07)" font-family="Liberation Serif" stroke="#000" stroke-width="0.15" font-size="15.8" text-anchor="middle" fill="#000">1600</text>
<text transform="translate(529,263.7) scale(1,1.08)" font-family="Liberation Serif" stroke="#000" stroke-width="0.15" font-size="17" text-anchor="middle" fill="#000">Time (sec)</text>
<text transform="translate(366.5,141.2) rotate(-90)" font-family="Liberation Serif" stroke="#000" stroke-width="0.15" font-size="16.8" fill="#000">C/C<tspan font-size="9" dx="1.2" dy="6.0">0</tspan></text>
<text x="432.1" y="67.7" font-family="Liberation Serif" stroke="#000" stroke-width="0.15" font-size="16.8" fill="#000"><tspan font-style="italic">m</tspan>-xylene</text>
<line x1="500.1" y1="31.9" x2="540.5" y2="31.9" stroke="#000" stroke-width="2.2"/>
<text x="545.1" y="37.8" font-family="Liberation Serif" stroke="#000" stroke-width="0.15" font-size="16" textLength="107.5" lengthAdjust="spacingAndGlyphs" fill="#000">Theoretical curve</text>
<rect x="557.80" y="56.70" width="6.60" height="6.60" fill="none" stroke="#000000" stroke-width="1.0"/>
<text x="590.2" y="65.3" font-family="Liberation Serif" stroke="#000" stroke-width="0.15" font-size="16.9" fill="#000">Beta-0</text>
<circle cx="561.10" cy="81.20" r="3.6" fill="none" stroke="#ff0000" stroke-width="1.0"/>
<text x="590.2" y="86.1" font-family="Liberation Serif" stroke="#000" stroke-width="0.15" font-size="16.9" fill="#000">Beta-1</text>
<polygon points="561.10,97.07 565.60,105.07 556.60,105.07" fill="none" stroke="#0000ff" stroke-width="1.0"/>
<text x="590.2" y="106.9" font-family="Liberation Serif" stroke="#000" stroke-width="0.15" font-size="16.9" fill="#000">Beta-2</text>
<polygon points="561.10,128.93 565.60,120.93 556.60,120.93" fill="none" stroke="#008080" stroke-width="1.0"/>
<text x="590.2" y="127.7" font-family="Liberation Serif" stroke="#000" stroke-width="0.15" font-size="16.9" fill="#000">Beta-3</text>
<clipPath id="c692"><rect x="738" y="20.0" width="270" height="207.0"/></clipPath>
<rect x="744" y="20.5" width="258" height="203.0" fill="none" stroke="#000" stroke-width="2"/>
<clipPath id="m692"><rect x="743" y="19.5" width="260" height="205.0"/></clipPath>
<g clip-path="url(#m692)"><rect x="747.32" y="48.49" width="6.60" height="6.60" fill="none" stroke="#000000" stroke-width="1.0"/><rect x="751.24" y="56.14" width="6.60" height="6.60" fill="none" stroke="#000000" stroke-width="1.0"/><rect x="754.91" y="63.67" width="6.60" height="6.60" fill="none" stroke="#000000" stroke-width="1.0"/><rect x="759.58" y="70.67" width="6.60" height="6.60" fill="none" stroke="#000000" stroke-width="1.0"/><rect x="765.14" y="77.12" width="6.60" height="6.60" fill="none" stroke="#000000" stroke-width="1.0"/><rect x="771.40" y="83.04" width="6.60" height="6.60" fill="none" stroke="#000000" stroke-width="1.0"/><rect x="778.18" y="88.51" width="6.60" height="6.60" fill="none" stroke="#000000" stroke-width="1.0"/><rect x="785.35" y="93.58" width="6.60" height="6.60" fill="none" stroke="#000000" stroke-width="1.0"/><rect x="792.67" y="98.54" width="6.60" height="6.60" fill="none" stroke="#000000" stroke-width="1.0"/><rect x="800.08" y="103.48" width="6.60" height="6.60" fill="none" stroke="#000000" stroke-width="1.0"/><rect x="807.56" y="108.17" width="6.60" height="6.60" fill="none" stroke="#000000" stroke-width="1.0"/><rect x="814.78" y="112.49" width="6.60" height="6.60" fill="none" stroke="#000000" stroke-width="1.0"/><rect x="821.71" y="116.50" width="6.60" height="6.60" fill="none" stroke="#000000" stroke-width="1.0"/><rect x="828.47" y="119.98" width="6.60" height="6.60" fill="none" stroke="#000000" stroke-width="1.0"/><rect x="834.95" y="123.19" width="6.60" height="6.60" fill="none" stroke="#000000" stroke-width="1.0"/><rect x="841.14" y="126.21" width="6.60" height="6.60" fill="none" stroke="#000000" stroke-width="1.0"/><rect x="847.36" y="129.21" width="6.60" height="6.60" fill="none" stroke="#000000" stroke-width="1.0"/><rect x="853.58" y="132.18" width="6.60" height="6.60" fill="none" stroke="#000000" stroke-width="1.0"/><rect x="859.81" y="135.14" width="6.60" height="6.60" fill="none" stroke="#000000" stroke-width="1.0"/><rect x="866.05" y="138.08" width="6.60" height="6.60" fill="none" stroke="#000000" stroke-width="1.0"/><rect x="872.30" y="141.02" width="6.60" height="6.60" fill="none" stroke="#000000" stroke-width="1.0"/><rect x="878.56" y="143.92" width="6.60" height="6.60" fill="none" stroke="#000000" stroke-width="1.0"/><rect x="884.85" y="146.76" width="6.60" height="6.60" fill="none" stroke="#000000" stroke-width="1.0"/><rect x="891.14" y="149.59" width="6.60" height="6.60" fill="none" stroke="#000000" stroke-width="1.0"/><rect x="897.43" y="152.43" width="6.60" height="6.60" fill="none" stroke="#000000" stroke-width="1.0"/><rect x="903.72" y="155.25" width="6.60" height="6.60" fill="none" stroke="#000000" stroke-width="1.0"/><rect x="910.02" y="158.08" width="6.60" height="6.60" fill="none" stroke="#000000" stroke-width="1.0"/><rect x="916.31" y="160.90" width="6.60" height="6.60" fill="none" stroke="#000000" stroke-width="1.0"/><rect x="922.61" y="163.72" width="6.60" height="6.60" fill="none" stroke="#000000" stroke-width="1.0"/><rect x="928.91" y="166.54" width="6.60" height="6.60" fill="none" stroke="#000000" stroke-width="1.0"/><rect x="935.20" y="169.36" width="6.60" height="6.60" fill="none" stroke="#000000" stroke-width="1.0"/><rect x="941.50" y="172.18" width="6.60" height="6.60" fill="none" stroke="#000000" stroke-width="1.0"/><rect x="947.80" y="175.00" width="6.60" height="6.60" fill="none" stroke="#000000" stroke-width="1.0"/><rect x="954.10" y="177.82" width="6.60" height="6.60" fill="none" stroke="#000000" stroke-width="1.0"/><rect x="960.40" y="180.64" width="6.60" height="6.60" fill="none" stroke="#000000" stroke-width="1.0"/><rect x="966.70" y="183.45" width="6.60" height="6.60" fill="none" stroke="#000000" stroke-width="1.0"/><rect x="973.00" y="186.27" width="6.60" height="6.60" fill="none" stroke="#000000" stroke-width="1.0"/><rect x="979.29" y="189.09" width="6.60" height="6.60" fill="none" stroke="#000000" stroke-width="1.0"/><circle cx="745.11" cy="22.92" r="3.6" fill="none" stroke="#ff0000" stroke-width="1.0"/><circle cx="745.62" cy="30.86" r="3.6" fill="none" stroke="#ff0000" stroke-width="1.0"/><circle cx="746.44" cy="38.75" r="3.6" fill="none" stroke="#ff0000" stroke-width="1.0"/><circle cx="747.64" cy="46.55" r="3.6" fill="none" stroke="#ff0000" stroke-width="1.0"/><circle cx="749.21" cy="54.23" r="3.6" fill="none" stroke="#ff0000" stroke-width="1.0"/><circle cx="751.43" cy="61.69" r="3.6" fill="none" stroke="#ff0000" stroke-width="1.0"/><circle cx="754.38" cy="68.86" r="3.6" fill="none" stroke="#ff0000" stroke-width="1.0"/><circle cx="758.07" cy="75.66" r="3.6" fill="none" stroke="#ff0000" stroke-width="1.0"/><circle cx="761.71" cy="81.38" r="3.6" fill="none" stroke="#ff0000" stroke-width="1.0"/><circle cx="765.79" cy="86.85" r="3.6" fill="none" stroke="#ff0000" stroke-width="1.0"/><circle cx="770.29" cy="92.02" r="3.6" fill="none" stroke="#ff0000" stroke-width="1.0"/><circle cx="775.12" cy="96.94" r="3.6" fill="none" stroke="#ff0000" stroke-width="1.0"/><circle cx="780.22" cy="101.62" r="3.6" fill="none" stroke="#ff0000" stroke-width="1.0"/><circle cx="785.52" cy="106.11" r="3.6" fill="none" stroke="#ff0000" stroke-width="1.0"/><circle cx="790.93" cy="110.50" r="3.6" fill="none" stroke="#ff0000" stroke-width="1.0"/><circle cx="796.45" cy="114.77" r="3.6" fill="none" stroke="#ff0000" stroke-width="1.0"/><circle cx="802.07" cy="118.92" r="3.6" fill="none" stroke="#ff0000" stroke-width="1.0"/><circle cx="807.76" cy="123.00" r="3.6" fill="none" stroke="#ff0000" stroke-width="1.0"/><circle cx="813.50" cy="127.02" r="3.6" fill="none" stroke="#ff0000" stroke-width="1.0"/><circle cx="819.32" cy="130.91" r="3.6" fill="none" stroke="#ff0000" stroke-width="1.0"/><circle cx="825.25" cy="134.62" r="3.6" fill="none" stroke="#ff0000" stroke-width="1.0"/><circle cx="831.21" cy="138.30" r="3.6" fill="none" stroke="#ff0000" stroke-width="1.0"/><circle cx="837.17" cy="141.96" r="3.6" fill="none" stroke="#ff0000" stroke-width="1.0"/><circle cx="843.15" cy="145.60" r="3.6" fill="none" stroke="#ff0000" stroke-width="1.0"/><circle cx="849.13" cy="149.24" r="3.6" fill="none" stroke="#ff0000" stroke-width="1.0"/><circle cx="855.12" cy="152.86" r="3.6" fill="none" stroke="#ff0000" stroke-width="1.0"/><circle cx="861.11" cy="156.48" r="3.6" fill="none" stroke="#ff0000" stroke-width="1.0"/><circle cx="867.11" cy="160.10" r="3.6" fill="none" stroke="#ff0000" stroke-width="1.0"/><circle cx="873.10" cy="163.71" r="3.6" fill="none" stroke="#ff0000" stroke-width="1.0"/><circle cx="879.10" cy="167.32" r="3.6" fill="none" stroke="#ff0000" stroke-width="1.0"/><circle cx="885.10" cy="170.93" r="3.6" fill="none" stroke="#ff0000" stroke-width="1.0"/><circle cx="891.10" cy="174.54" r="3.6" fill="none" stroke="#ff0000" stroke-width="1.0"/><circle cx="897.10" cy="178.14" r="3.6" fill="none" stroke="#ff0000" stroke-width="1.0"/><circle cx="903.10" cy="181.75" r="3.6" fill="none" stroke="#ff0000" stroke-width="1.0"/><circle cx="909.10" cy="185.36" r="3.6" fill="none" stroke="#ff0000" stroke-width="1.0"/><circle cx="915.10" cy="188.96" r="3.6" fill="none" stroke="#ff0000" stroke-width="1.0"/><circle cx="921.10" cy="192.57" r="3.6" fill="none" stroke="#ff0000" stroke-width="1.0"/><polygon points="745.14,24.10 749.64,32.10 740.64,32.10" fill="none" stroke="#0000ff" stroke-width="1.0"/><polygon points="745.54,32.05 750.04,40.05 741.04,40.05" fill="none" stroke="#0000ff" stroke-width="1.0"/><polygon points="746.31,39.96 750.81,47.96 741.81,47.96" fill="none" stroke="#0000ff" stroke-width="1.0"/><polygon points="747.34,47.83 751.84,55.83 742.84,55.83" fill="none" stroke="#0000ff" stroke-width="1.0"/><polygon points="748.97,55.61 753.47,63.61 744.47,63.61" fill="none" stroke="#0000ff" stroke-width="1.0"/><polygon points="751.29,63.22 755.79,71.22 746.79,71.22" fill="none" stroke="#0000ff" stroke-width="1.0"/><polygon points="754.38,70.58 758.88,78.58 749.88,78.58" fill="none" stroke="#0000ff" stroke-width="1.0"/><polygon points="757.44,77.14 761.94,85.14 752.94,85.14" fill="none" stroke="#0000ff" stroke-width="1.0"/><polygon points="760.84,83.64 765.34,91.64 756.34,91.64" fill="none" stroke="#0000ff" stroke-width="1.0"/><polygon points="764.74,89.90 769.24,97.90 760.24,97.90" fill="none" stroke="#0000ff" stroke-width="1.0"/><polygon points="769.63,95.37 774.13,103.37 765.13,103.37" fill="none" stroke="#0000ff" stroke-width="1.0"/><polygon points="774.92,100.41 779.42,108.41 770.42,108.41" fill="none" stroke="#0000ff" stroke-width="1.0"/><polygon points="780.40,105.21 784.90,113.21 775.90,113.21" fill="none" stroke="#0000ff" stroke-width="1.0"/><polygon points="786.00,109.82 790.50,117.82 781.50,117.82" fill="none" stroke="#0000ff" stroke-width="1.0"/><polygon points="791.70,114.29 796.20,122.29 787.20,122.29" fill="none" stroke="#0000ff" stroke-width="1.0"/><polygon points="797.46,118.65 801.96,126.65 792.96,126.65" fill="none" stroke="#0000ff" stroke-width="1.0"/><polygon points="803.28,122.93 807.78,130.93 798.78,130.93" fill="none" stroke="#0000ff" stroke-width="1.0"/><polygon points="809.13,127.15 813.63,135.15 804.63,135.15" fill="none" stroke="#0000ff" stroke-width="1.0"/><polygon points="814.98,131.36 819.48,139.36 810.48,139.36" fill="none" stroke="#0000ff" stroke-width="1.0"/><polygon points="820.82,135.58 825.32,143.58 816.32,143.58" fill="none" stroke="#0000ff" stroke-width="1.0"/><polygon points="826.68,139.78 831.18,147.78 822.18,147.78" fill="none" stroke="#0000ff" stroke-width="1.0"/><polygon points="832.54,143.96 837.04,151.96 828.04,151.96" fill="none" stroke="#0000ff" stroke-width="1.0"/><polygon points="838.41,148.14 842.91,156.14 833.91,156.14" fill="none" stroke="#0000ff" stroke-width="1.0"/><polygon points="844.28,152.30 848.78,160.30 839.78,160.30" fill="none" stroke="#0000ff" stroke-width="1.0"/><polygon points="850.16,156.47 854.66,164.47 845.66,164.47" fill="none" stroke="#0000ff" stroke-width="1.0"/><polygon points="856.03,160.63 860.53,168.63 851.53,168.63" fill="none" stroke="#0000ff" stroke-width="1.0"/><polygon points="861.91,164.79 866.41,172.79 857.41,172.79" fill="none" stroke="#0000ff" stroke-width="1.0"/><polygon points="867.79,168.94 872.29,176.94 863.29,176.94" fill="none" stroke="#0000ff" stroke-width="1.0"/><polygon points="873.67,173.10 878.17,181.10 869.17,181.10" fill="none" stroke="#0000ff" stroke-width="1.0"/><polygon points="879.55,177.25 884.05,185.25 875.05,185.25" fill="none" stroke="#0000ff" stroke-width="1.0"/><polygon points="885.43,181.41 889.93,189.41 880.93,189.41" fill="none" stroke="#0000ff" stroke-width="1.0"/><polygon points="891.32,185.56 895.82,193.56 886.82,193.56" fill="none" stroke="#0000ff" stroke-width="1.0"/><polygon points="745.08,29.09 749.58,21.09 740.58,21.09" fill="none" stroke="#008080" stroke-width="1.0"/><polygon points="745.40,37.06 749.90,29.06 740.90,29.06" fill="none" stroke="#008080" stroke-width="1.0"/><polygon points="745.95,44.99 750.45,36.99 741.45,36.99" fill="none" stroke="#008080" stroke-width="1.0"/><polygon points="746.60,52.91 751.10,44.91 742.10,44.91" fill="none" stroke="#008080" stroke-width="1.0"/><polygon points="747.11,60.85 751.61,52.85 742.61,52.85" fill="none" stroke="#008080" stroke-width="1.0"/><polygon points="748.12,68.78 752.62,60.78 743.62,60.78" fill="none" stroke="#008080" stroke-width="1.0"/><polygon points="749.18,76.83 753.68,68.83 744.68,68.83" fill="none" stroke="#008080" stroke-width="1.0"/><polygon points="750.78,84.92 755.28,76.92 746.28,76.92" fill="none" stroke="#008080" stroke-width="1.0"/><polygon points="753.59,91.30 758.09,83.30 749.09,83.30" fill="none" stroke="#008080" stroke-width="1.0"/><polygon points="756.93,97.40 761.43,89.40 752.43,89.40" fill="none" stroke="#008080" stroke-width="1.0"/><polygon points="760.60,103.29 765.10,95.29 756.10,95.29" fill="none" stroke="#008080" stroke-width="1.0"/><polygon points="764.56,108.96 769.06,100.96 760.06,100.96" fill="none" stroke="#008080" stroke-width="1.0"/><polygon points="768.73,114.44 773.23,106.44 764.23,106.44" fill="none" stroke="#008080" stroke-width="1.0"/><polygon points="773.06,119.77 777.56,111.77 768.56,111.77" fill="none" stroke="#008080" stroke-width="1.0"/><polygon points="777.51,124.98 782.01,116.98 773.01,116.98" fill="none" stroke="#008080" stroke-width="1.0"/><polygon points="782.03,130.11 786.53,122.11 777.53,122.11" fill="none" stroke="#008080" stroke-width="1.0"/><polygon points="786.60,135.17 791.10,127.17 782.10,127.17" fill="none" stroke="#008080" stroke-width="1.0"/><polygon points="791.21,140.20 795.71,132.20 786.71,132.20" fill="none" stroke="#008080" stroke-width="1.0"/><polygon points="795.84,145.19 800.34,137.19 791.34,137.19" fill="none" stroke="#008080" stroke-width="1.0"/><polygon points="800.50,150.15 805.00,142.15 796.00,142.15" fill="none" stroke="#008080" stroke-width="1.0"/><polygon points="805.23,155.05 809.73,147.05 800.73,147.05" fill="none" stroke="#008080" stroke-width="1.0"/><polygon points="809.96,159.94 814.46,151.94 805.46,151.94" fill="none" stroke="#008080" stroke-width="1.0"/><polygon points="814.70,164.82 819.20,156.82 810.20,156.82" fill="none" stroke="#008080" stroke-width="1.0"/><polygon points="819.44,169.69 823.94,161.69 814.94,161.69" fill="none" stroke="#008080" stroke-width="1.0"/><polygon points="824.18,174.57 828.68,166.57 819.68,166.57" fill="none" stroke="#008080" stroke-width="1.0"/><polygon points="828.93,179.44 833.43,171.44 824.43,171.44" fill="none" stroke="#008080" stroke-width="1.0"/><polygon points="833.67,184.31 838.17,176.31 829.17,176.31" fill="none" stroke="#008080" stroke-width="1.0"/><polygon points="838.42,189.19 842.92,181.19 833.92,181.19" fill="none" stroke="#008080" stroke-width="1.0"/><polygon points="843.16,194.06 847.66,186.06 838.66,186.06" fill="none" stroke="#008080" stroke-width="1.0"/><polygon points="847.91,198.93 852.41,190.93 843.41,190.93" fill="none" stroke="#008080" stroke-width="1.0"/></g>
<g clip-path="url(#c692)"><polyline points="744.00,20.50 744.01,23.28 744.02,24.40 744.03,25.25 744.04,25.96 744.05,26.58 744.06,27.13 744.07,27.64 744.08,28.10 744.09,28.54 744.09,28.95 744.10,29.34 744.11,29.71 744.12,30.07 744.13,30.40 744.14,30.73 744.15,31.04 744.16,31.34 744.17,31.63 744.18,31.92 744.19,32.19 744.20,32.46 744.21,32.72 744.22,32.97 744.23,33.22 744.24,33.46 744.25,33.69 744.26,33.92 744.26,34.15 744.27,34.37 744.28,34.58 744.29,34.79 744.30,35.00 744.31,35.20 744.32,35.40 744.33,35.60 744.34,35.80 744.35,35.99 744.36,36.17 744.37,36.36 744.37,36.42 744.38,36.49 744.38,36.56 744.38,36.63 744.39,36.70 744.39,36.77 744.39,36.83 744.40,36.90 744.40,36.97 744.41,37.04 744.41,37.11 744.41,37.18 744.42,37.25 744.42,37.32 744.42,37.40 744.43,37.47 744.43,37.54 744.44,37.61 744.44,37.68 744.45,37.75 744.45,37.83 744.45,37.90 744.46,37.97 744.46,38.05 744.47,38.12 744.47,38.19 744.48,38.27 744.48,38.34 744.48,38.42 744.49,38.49 744.49,38.57 744.50,38.64 744.50,38.72 744.51,38.80 744.51,38.87 744.52,38.95 744.52,39.03 744.53,39.10 744.53,39.18 744.54,39.26 744.54,39.34 744.55,39.42 744.55,39.50 744.56,39.58 744.56,39.65 744.57,39.73 744.57,39.81 744.58,39.89 744.59,39.98 744.59,40.06 744.60,40.14 744.60,40.22 744.61,40.30 744.61,40.38 744.62,40.46 744.63,40.55 744.63,40.63 744.64,40.71 744.64,40.80 744.65,40.88 744.66,40.96 744.66,41.05 744.67,41.13 744.67,41.22 744.68,41.30 744.69,41.39 744.69,41.48 744.70,41.56 744.71,41.65 744.71,41.73 744.72,41.82 744.73,41.91 744.73,42.00 744.74,42.09 744.75,42.17 744.76,42.26 744.76,42.35 744.77,42.44 744.78,42.53 744.78,42.62 744.79,42.71 744.80,42.80 744.81,42.89 744.81,42.98 744.82,43.07 744.83,43.17 744.84,43.26 744.85,43.35 744.85,43.44 744.86,43.54 744.87,43.63 744.88,43.72 744.89,43.82 744.89,43.91 744.90,44.01 744.91,44.10 744.92,44.20 744.93,44.29 744.94,44.39 744.95,44.49 744.96,44.58 744.96,44.68 744.97,44.78 744.98,44.87 744.99,44.97 745.00,45.07 745.01,45.17 745.02,45.27 745.03,45.37 745.04,45.47 745.05,45.57 745.06,45.67 745.07,45.77 745.08,45.87 745.09,45.97 745.10,46.07 745.11,46.17 745.12,46.28 745.13,46.38 745.14,46.48 745.15,46.59 745.17,46.69 745.18,46.79 745.19,46.90 745.20,47.00 745.21,47.11 745.22,47.21 745.23,47.32 745.24,47.43 745.26,47.53 745.27,47.64 745.28,47.75 745.29,47.85 745.31,47.96 745.32,48.07 745.33,48.18 745.34,48.29 745.36,48.40 745.37,48.51 745.38,48.62 745.39,48.73 745.41,48.84 745.42,48.95 745.43,49.06 745.45,49.17 745.46,49.29 745.48,49.40 745.49,49.51 745.50,49.62 745.52,49.74 745.53,49.85 745.55,49.97 745.56,50.08 745.58,50.20 745.59,50.31 745.61,50.43 745.62,50.54 745.64,50.66 745.65,50.78 745.67,50.90 745.68,51.01 745.70,51.13 745.72,51.25 745.73,51.37 745.75,51.49 745.77,51.61 745.78,51.73 745.80,51.85 745.82,51.97 745.83,52.09 745.85,52.21 745.87,52.33 745.89,52.46 745.90,52.58 745.92,52.70 745.94,52.82 745.96,52.95 745.98,53.07 746.00,53.20 746.01,53.32 746.03,53.45 746.05,53.57 746.07,53.70 746.09,53.83 746.11,53.95 746.13,54.08 746.15,54.21 746.17,54.34 746.19,54.46 746.21,54.59 746.23,54.72 746.26,54.85 746.28,54.98 746.30,55.11 746.32,55.24 746.34,55.38 746.36,55.51 746.39,55.64 746.41,55.77 746.43,55.90 746.46,56.04 746.48,56.17 746.50,56.31 746.53,56.44 746.55,56.58 746.57,56.71 746.60,56.85 746.62,56.98 746.65,57.12 746.67,57.26 746.70,57.39 746.72,57.53 746.75,57.67 746.78,57.81 746.80,57.95 746.83,58.09 746.86,58.23 746.88,58.37 746.91,58.51 746.94,58.65 746.97,58.79 746.99,58.93 747.02,59.07 747.05,59.22 747.08,59.36 747.11,59.50 747.14,59.65 747.17,59.79 747.20,59.94 747.23,60.08 747.26,60.23 747.29,60.38 747.32,60.52 747.35,60.67 747.38,60.82 747.42,60.96 747.45,61.11 747.48,61.26 747.52,61.41 747.55,61.56 747.58,61.71 747.62,61.86 747.65,62.01 747.68,62.16 747.72,62.32 747.76,62.47 747.79,62.62 747.83,62.78 747.86,62.93 747.90,63.08 747.94,63.24 747.97,63.39 748.01,63.55 748.05,63.71 748.09,63.86 748.13,64.02 748.17,64.18 748.21,64.33 748.25,64.49 748.29,64.65 748.33,64.81 748.37,64.97 748.41,65.13 748.45,65.29 748.49,65.45 748.53,65.61 748.58,65.78 748.62,65.94 748.67,66.10 748.71,66.27 748.75,66.43 748.80,66.59 748.84,66.76 748.89,66.92 748.94,67.09 748.98,67.26 749.03,67.42 749.08,67.59 749.13,67.76 749.18,67.93 749.22,68.10 749.27,68.27 749.32,68.44 749.37,68.61 749.43,68.78 749.48,68.95 749.53,69.12 749.58,69.29 749.63,69.47 749.69,69.64 749.74,69.81 749.80,69.99 749.85,70.16 749.91,70.34 749.96,70.51 750.02,70.69 750.08,70.87 750.13,71.05 750.19,71.22 750.25,71.40 750.31,71.58 750.37,71.76 750.43,71.94 750.49,72.12 750.55,72.30 750.61,72.49 750.68,72.67 750.74,72.85 750.80,73.03 750.87,73.22 750.93,73.40 751.00,73.59 751.07,73.77 751.13,73.96 751.20,74.15 751.27,74.33 751.34,74.52 751.41,74.71 751.48,74.90 751.55,75.09 751.62,75.28 751.69,75.47 751.77,75.66 751.84,75.85 751.91,76.05 751.99,76.24 752.06,76.43 752.14,76.63 752.22,76.82 752.30,77.02 752.37,77.21 752.45,77.41 752.53,77.61 752.61,77.81 752.70,78.01 752.78,78.20 752.86,78.40 752.95,78.60 753.03,78.81 753.12,79.01 753.20,79.21 753.29,79.41 753.38,79.62 753.47,79.82 753.56,80.03 753.65,80.23 753.74,80.44 753.83,80.64 753.92,80.85 754.02,81.06 754.11,81.27 754.21,81.48 754.31,81.69 754.40,81.90 754.50,82.11 754.60,82.33 754.70,82.54 754.80,82.75 754.91,82.97 755.01,83.18 755.11,83.40 755.22,83.61 755.33,83.83 755.43,84.05 755.54,84.27 755.65,84.49 755.76,84.71 755.87,84.93 755.99,85.15 756.10,85.37 756.21,85.60 756.33,85.82 756.45,86.05 756.56,86.27 756.68,86.50 756.80,86.73 756.93,86.96 757.05,87.18 757.17,87.41 757.30,87.64 757.42,87.88 757.55,88.11 757.68,88.34 757.81,88.58 757.94,88.81 758.07,89.05 758.20,89.28 758.34,89.52 758.47,89.76 758.61,90.00 758.75,90.24 758.89,90.48 759.03,90.72 759.17,90.96 759.32,91.21 759.46,91.45 759.61,91.70 759.76,91.94 759.91,92.19 760.06,92.44 760.21,92.69 760.36,92.94 760.52,93.19 760.68,93.44 760.83,93.70 760.99,93.95 761.15,94.21 761.32,94.46 761.48,94.72 761.65,94.98 761.81,95.24 761.98,95.50 762.15,95.76 762.33,96.02 762.50,96.29 762.67,96.55 762.85,96.82 763.03,97.09 763.21,97.36 763.39,97.63 763.58,97.90 763.76,98.17 763.95,98.44 764.14,98.72 764.33,98.99 764.52,99.27 764.72,99.55 764.91,99.83 765.11,100.11 765.31,100.39 765.51,100.68 765.72,100.96 765.92,101.25 766.13,101.53 766.34,101.82 766.55,102.11 766.77,102.41 766.98,102.70 767.20,102.99 767.42,103.29 767.64,103.59 767.87,103.89 768.09,104.19 768.32,104.49 768.55,104.79 768.79,105.10 769.02,105.41 769.26,105.71 769.50,106.03 769.74,106.34 769.98,106.65 770.23,106.97 770.48,107.28 770.73,107.60 770.98,107.92 771.24,108.24 771.50,108.57 771.76,108.89 772.02,109.22 772.29,109.55 772.55,109.88 772.82,110.22 773.10,110.55 773.37,110.89 773.65,111.23 773.93,111.57 774.22,111.92 774.50,112.26 774.79,112.61 775.08,112.96 775.38,113.31 775.68,113.67 775.98,114.02 776.28,114.38 776.59,114.74 776.90,115.11 777.21,115.47 777.52,115.84 777.84,116.21 778.16,116.59 778.48,116.96 778.81,117.34 779.14,117.72 779.47,118.10 779.81,118.49 780.15,118.88 780.49,119.27 780.84,119.67 781.19,120.06 781.54,120.46 781.90,120.87 782.26,121.27 782.62,121.68 782.98,122.09 783.35,122.51 783.73,122.93 784.10,123.35 784.48,123.77 784.87,124.20 785.26,124.63 785.65,125.07 786.04,125.50 786.44,125.94 786.84,126.39 787.25,126.84 787.66,127.29 788.07,127.74 788.49,128.20 788.91,128.66 789.34,129.13 789.77,129.60 790.20,130.07 790.64,130.55 791.08,131.03 791.53,131.52 791.98,132.01 792.43,132.50 792.89,133.00 793.36,133.50 793.82,134.01 794.30,134.52 794.77,135.03 795.26,135.55 795.74,136.07 796.23,136.60 796.73,137.14 797.23,137.67 797.73,138.21 798.24,138.76 798.75,139.31 799.27,139.87 799.80,140.43 800.33,141.00 800.86,141.57 801.40,142.14 801.94,142.73 802.49,143.31 803.05,143.90 803.61,144.50 804.17,145.10 804.74,145.71 805.32,146.32 805.90,146.94 806.49,147.57 807.08,148.20 807.68,148.83 808.28,149.48 808.89,150.12 809.51,150.78 810.13,151.44 810.75,152.10 811.39,152.77 812.03,153.45 812.67,154.14 813.32,154.83 813.98,155.52 814.64,156.23 815.31,156.94 815.99,157.65 816.67,158.38 817.36,159.11 818.06,159.84 818.76,160.59 819.47,161.34 820.18,162.10 820.90,162.86 821.63,163.63 822.37,164.41 823.11,165.20 823.86,165.99 824.62,166.79 825.38,167.60 826.15,168.42 826.93,169.24 827.72,170.07 828.51,170.91 829.31,171.76 830.12,172.61 830.94,173.48 831.76,174.35 832.60,175.23 833.44,176.12 834.28,177.01 835.14,177.92 836.00,178.83 836.88,179.75 837.76,180.68 838.65,181.62 839.54,182.57 840.45,183.53 841.36,184.50 842.29,185.47 843.22,186.46 844.16,187.45 845.11,188.45 846.07,189.47 847.03,190.49 848.01,191.52 849.00,192.57" fill="none" stroke="#008000" stroke-width="2.5" stroke-linejoin="round" stroke-linecap="round"/><polyline points="744.00,20.50 744.01,22.98 744.02,23.98 744.03,24.74 744.04,25.37 744.05,25.93 744.06,26.42 744.07,26.88 744.08,27.30 744.09,27.69 744.09,28.06 744.10,28.41 744.11,28.74 744.12,29.06 744.13,29.37 744.14,29.66 744.15,29.94 744.16,30.21 744.17,30.47 744.18,30.73 744.19,30.98 744.20,31.22 744.21,31.45 744.22,31.68 744.23,31.90 744.24,32.12 744.25,32.33 744.26,32.54 744.26,32.74 744.27,32.94 744.28,33.13 744.29,33.32 744.30,33.51 744.31,33.70 744.32,33.88 744.33,34.06 744.34,34.23 744.35,34.40 744.36,34.57 744.37,34.74 744.37,34.80 744.38,34.87 744.38,34.93 744.38,35.00 744.39,35.07 744.39,35.13 744.40,35.20 744.40,35.26 744.40,35.33 744.41,35.40 744.41,35.47 744.42,35.53 744.42,35.60 744.42,35.67 744.43,35.74 744.43,35.81 744.44,35.88 744.44,35.95 744.45,36.02 744.45,36.08 744.45,36.16 744.46,36.23 744.46,36.30 744.47,36.37 744.47,36.44 744.48,36.51 744.48,36.58 744.49,36.65 744.49,36.73 744.50,36.80 744.50,36.87 744.51,36.95 744.51,37.02 744.52,37.09 744.52,37.17 744.53,37.24 744.53,37.32 744.54,37.39 744.54,37.47 744.55,37.54 744.56,37.62 744.56,37.70 744.57,37.77 744.57,37.85 744.58,37.93 744.58,38.00 744.59,38.08 744.60,38.16 744.60,38.24 744.61,38.32 744.61,38.40 744.62,38.47 744.63,38.55 744.63,38.63 744.64,38.71 744.65,38.80 744.65,38.88 744.66,38.96 744.67,39.04 744.67,39.12 744.68,39.20 744.69,39.28 744.69,39.37 744.70,39.45 744.71,39.53 744.71,39.62 744.72,39.70 744.73,39.79 744.74,39.87 744.74,39.96 744.75,40.04 744.76,40.13 744.77,40.21 744.77,40.30 744.78,40.39 744.79,40.47 744.80,40.56 744.80,40.65 744.81,40.74 744.82,40.82 744.83,40.91 744.84,41.00 744.85,41.09 744.85,41.18 744.86,41.27 744.87,41.36 744.88,41.45 744.89,41.54 744.90,41.63 744.91,41.72 744.92,41.82 744.93,41.91 744.93,42.00 744.94,42.09 744.95,42.19 744.96,42.28 744.97,42.37 744.98,42.47 744.99,42.56 745.00,42.66 745.01,42.75 745.02,42.85 745.03,42.95 745.04,43.04 745.05,43.14 745.06,43.24 745.08,43.33 745.09,43.43 745.10,43.53 745.11,43.63 745.12,43.73 745.13,43.83 745.14,43.93 745.15,44.03 745.17,44.13 745.18,44.23 745.19,44.33 745.20,44.43 745.21,44.53 745.22,44.63 745.24,44.74 745.25,44.84 745.26,44.94 745.27,45.05 745.29,45.15 745.30,45.25 745.31,45.36 745.33,45.46 745.34,45.57 745.35,45.67 745.37,45.78 745.38,45.89 745.40,45.99 745.41,46.10 745.42,46.21 745.44,46.32 745.45,46.43 745.47,46.53 745.48,46.64 745.50,46.75 745.51,46.86 745.53,46.97 745.54,47.08 745.56,47.20 745.57,47.31 745.59,47.42 745.60,47.53 745.62,47.64 745.64,47.76 745.65,47.87 745.67,47.98 745.69,48.10 745.70,48.21 745.72,48.33 745.74,48.44 745.76,48.56 745.77,48.67 745.79,48.79 745.81,48.91 745.83,49.02 745.85,49.14 745.86,49.26 745.88,49.38 745.90,49.50 745.92,49.62 745.94,49.74 745.96,49.86 745.98,49.98 746.00,50.10 746.02,50.22 746.04,50.34 746.06,50.46 746.08,50.59 746.10,50.71 746.12,50.83 746.15,50.95 746.17,51.08 746.19,51.20 746.21,51.33 746.23,51.45 746.26,51.58 746.28,51.71 746.30,51.83 746.32,51.96 746.35,52.09 746.37,52.21 746.39,52.34 746.42,52.47 746.44,52.60 746.47,52.73 746.49,52.86 746.52,52.99 746.54,53.12 746.57,53.25 746.59,53.38 746.62,53.51 746.65,53.65 746.67,53.78 746.70,53.91 746.73,54.05 746.76,54.18 746.78,54.32 746.81,54.45 746.84,54.59 746.87,54.72 746.90,54.86 746.93,54.99 746.95,55.13 746.98,55.27 747.01,55.41 747.05,55.55 747.08,55.68 747.11,55.82 747.14,55.96 747.17,56.10 747.20,56.24 747.23,56.38 747.27,56.53 747.30,56.67 747.33,56.81 747.37,56.95 747.40,57.10 747.43,57.24 747.47,57.38 747.50,57.53 747.54,57.67 747.57,57.82 747.61,57.97 747.65,58.11 747.68,58.26 747.72,58.41 747.76,58.55 747.79,58.70 747.83,58.85 747.87,59.00 747.91,59.15 747.95,59.30 747.99,59.45 748.03,59.60 748.07,59.75 748.11,59.90 748.15,60.05 748.19,60.21 748.24,60.36 748.28,60.51 748.32,60.67 748.37,60.82 748.41,60.98 748.45,61.13 748.50,61.29 748.54,61.45 748.59,61.60 748.64,61.76 748.68,61.92 748.73,62.08 748.78,62.24 748.83,62.39 748.87,62.55 748.92,62.71 748.97,62.88 749.02,63.04 749.07,63.20 749.12,63.36 749.18,63.52 749.23,63.69 749.28,63.85 749.33,64.01 749.39,64.18 749.44,64.34 749.50,64.51 749.55,64.68 749.61,64.84 749.66,65.01 749.72,65.18 749.78,65.34 749.84,65.51 749.89,65.68 749.95,65.85 750.01,66.02 750.07,66.19 750.14,66.36 750.20,66.54 750.26,66.71 750.32,66.88 750.39,67.05 750.45,67.23 750.51,67.40 750.58,67.58 750.65,67.75 750.71,67.93 750.78,68.10 750.85,68.28 750.92,68.46 750.99,68.63 751.06,68.81 751.13,68.99 751.20,69.17 751.27,69.35 751.35,69.53 751.42,69.71 751.49,69.89 751.57,70.08 751.65,70.26 751.72,70.44 751.80,70.63 751.88,70.81 751.96,70.99 752.04,71.18 752.12,71.37 752.20,71.55 752.28,71.74 752.37,71.93 752.45,72.11 752.54,72.30 752.62,72.49 752.71,72.68 752.80,72.87 752.88,73.06 752.97,73.26 753.06,73.45 753.16,73.64 753.25,73.83 753.34,74.03 753.43,74.22 753.53,74.42 753.63,74.61 753.72,74.81 753.82,75.00 753.92,75.20 754.02,75.40 754.12,75.60 754.22,75.80 754.32,76.00 754.43,76.20 754.53,76.40 754.64,76.60 754.75,76.80 754.85,77.01 754.96,77.21 755.07,77.41 755.18,77.62 755.30,77.82 755.41,78.03 755.53,78.24 755.64,78.44 755.76,78.65 755.88,78.86 756.00,79.07 756.12,79.28 756.24,79.49 756.36,79.70 756.49,79.91 756.61,80.13 756.74,80.34 756.87,80.55 757.00,80.77 757.13,80.98 757.26,81.20 757.39,81.42 757.53,81.63 757.66,81.85 757.80,82.07 757.94,82.29 758.08,82.51 758.22,82.73 758.36,82.95 758.51,83.18 758.65,83.40 758.80,83.62 758.95,83.85 759.10,84.07 759.25,84.30 759.41,84.53 759.56,84.75 759.72,84.98 759.88,85.21 760.04,85.44 760.20,85.67 760.36,85.90 760.52,86.13 760.69,86.37 760.86,86.60 761.03,86.84 761.20,87.07 761.37,87.31 761.55,87.55 761.72,87.78 761.90,88.02 762.08,88.26 762.26,88.50 762.45,88.74 762.63,88.99 762.82,89.23 763.01,89.47 763.20,89.72 763.39,89.96 763.59,90.21 763.79,90.46 763.98,90.71 764.19,90.96 764.39,91.21 764.59,91.46 764.80,91.71 765.01,91.96 765.22,92.22 765.43,92.47 765.65,92.73 765.87,92.99 766.09,93.25 766.31,93.51 766.53,93.77 766.76,94.03 766.99,94.29 767.22,94.55 767.46,94.82 767.69,95.08 767.93,95.35 768.17,95.62 768.41,95.89 768.66,96.15 768.91,96.43 769.16,96.70 769.41,96.97 769.67,97.25 769.92,97.52 770.18,97.80 770.45,98.08 770.71,98.35 770.98,98.64 771.25,98.92 771.53,99.20 771.81,99.48 772.08,99.77 772.37,100.06 772.65,100.34 772.94,100.63 773.23,100.92 773.53,101.22 773.82,101.51 774.12,101.80 774.43,102.10 774.73,102.40 775.04,102.70 775.35,103.00 775.67,103.30 775.99,103.60 776.31,103.91 776.63,104.21 776.96,104.52 777.29,104.83 777.63,105.14 777.97,105.45 778.31,105.77 778.65,106.08 779.00,106.40 779.35,106.72 779.71,107.04 780.07,107.36 780.43,107.69 780.80,108.01 781.17,108.34 781.54,108.67 781.92,109.00 782.30,109.33 782.69,109.67 783.08,110.01 783.47,110.34 783.87,110.69 784.27,111.03 784.67,111.37 785.08,111.72 785.49,112.07 785.91,112.42 786.33,112.77 786.76,113.13 787.19,113.49 787.62,113.85 788.06,114.21 788.50,114.57 788.95,114.94 789.40,115.31 789.86,115.68 790.32,116.06 790.79,116.43 791.26,116.81 791.73,117.19 792.21,117.58 792.70,117.96 793.19,118.35 793.68,118.74 794.18,119.14 794.69,119.54 795.20,119.94 795.71,120.34 796.23,120.75 796.76,121.16 797.29,121.57 797.82,121.98 798.37,122.40 798.91,122.82 799.47,123.25 800.02,123.67 800.59,124.11 801.16,124.54 801.73,124.98 802.31,125.42 802.90,125.86 803.49,126.31 804.09,126.76 804.69,127.22 805.30,127.68 805.92,128.14 806.54,128.61 807.17,129.08 807.81,129.55 808.45,130.03 809.10,130.51 809.75,131.00 810.41,131.49 811.08,131.98 811.76,132.48 812.44,132.98 813.13,133.49 813.82,134.00 814.52,134.52 815.23,135.04 815.95,135.57 816.67,136.10 817.40,136.63 818.14,137.17 818.89,137.72 819.64,138.26 820.40,138.82 821.17,139.38 821.95,139.94 822.73,140.51 823.52,141.09 824.32,141.67 825.13,142.25 825.95,142.84 826.77,143.44 827.60,144.04 828.44,144.65 829.29,145.26 830.15,145.88 831.02,146.51 831.89,147.14 832.78,147.78 833.67,148.42 834.57,149.07 835.48,149.72 836.40,150.39 837.33,151.05 838.27,151.73 839.22,152.41 840.18,153.10 841.14,153.79 842.12,154.49 843.11,155.20 844.10,155.91 845.11,156.64 846.13,157.37 847.16,158.10 848.19,158.85 849.24,159.60 850.30,160.35 851.37,161.12 852.45,161.89 853.54,162.67 854.64,163.46 855.75,164.26 856.88,165.06 858.01,165.87 859.16,166.69 860.32,167.52 861.49,168.36 862.67,169.20 863.86,170.06 865.07,170.92 866.29,171.79 867.52,172.67 868.76,173.55 870.01,174.45 871.28,175.36 872.56,176.27 873.85,177.19 875.16,178.13 876.48,179.07 877.81,180.02 879.16,180.98 880.52,181.95 881.89,182.93 883.28,183.92 884.68,184.92 886.09,185.94 887.52,186.96 888.97,187.99 890.42,189.03 891.90,190.08" fill="none" stroke="#0000ff" stroke-width="2.5" stroke-linejoin="round" stroke-linecap="round"/><polyline points="744.00,20.50 744.01,22.88 744.02,23.85 744.03,24.58 744.04,25.19 744.05,25.72 744.06,26.20 744.07,26.64 744.08,27.04 744.09,27.42 744.09,27.78 744.10,28.11 744.11,28.43 744.12,28.74 744.13,29.03 744.14,29.31 744.15,29.59 744.16,29.85 744.17,30.10 744.18,30.35 744.19,30.59 744.20,30.82 744.21,31.04 744.22,31.26 744.23,31.48 744.24,31.69 744.25,31.89 744.26,32.09 744.26,32.29 744.27,32.48 744.28,32.67 744.29,32.85 744.30,33.03 744.31,33.21 744.32,33.39 744.33,33.56 744.34,33.73 744.35,33.89 744.36,34.06 744.37,34.22 744.37,34.28 744.38,34.35 744.38,34.41 744.38,34.48 744.39,34.54 744.39,34.61 744.40,34.67 744.40,34.74 744.40,34.81 744.41,34.87 744.41,34.94 744.42,35.01 744.42,35.08 744.43,35.14 744.43,35.21 744.43,35.28 744.44,35.35 744.44,35.42 744.45,35.49 744.45,35.56 744.46,35.63 744.46,35.70 744.47,35.77 744.47,35.84 744.48,35.91 744.48,35.98 744.49,36.05 744.49,36.13 744.50,36.20 744.50,36.27 744.51,36.34 744.51,36.42 744.52,36.49 744.52,36.56 744.53,36.64 744.53,36.71 744.54,36.79 744.55,36.86 744.55,36.94 744.56,37.01 744.56,37.09 744.57,37.17 744.57,37.24 744.58,37.32 744.59,37.40 744.59,37.47 744.60,37.55 744.60,37.63 744.61,37.71 744.62,37.79 744.62,37.87 744.63,37.95 744.64,38.03 744.64,38.11 744.65,38.19 744.66,38.27 744.66,38.35 744.67,38.43 744.68,38.51 744.68,38.59 744.69,38.67 744.70,38.76 744.71,38.84 744.71,38.92 744.72,39.01 744.73,39.09 744.74,39.18 744.74,39.26 744.75,39.34 744.76,39.43 744.77,39.52 744.77,39.60 744.78,39.69 744.79,39.77 744.80,39.86 744.81,39.95 744.82,40.04 744.82,40.12 744.83,40.21 744.84,40.30 744.85,40.39 744.86,40.48 744.87,40.57 744.88,40.66 744.89,40.75 744.89,40.84 744.90,40.93 744.91,41.02 744.92,41.11 744.93,41.21 744.94,41.30 744.95,41.39 744.96,41.49 744.97,41.58 744.98,41.67 744.99,41.77 745.00,41.86 745.01,41.96 745.02,42.05 745.03,42.15 745.04,42.24 745.05,42.34 745.07,42.44 745.08,42.53 745.09,42.63 745.10,42.73 745.11,42.83 745.12,42.93 745.13,43.03 745.15,43.12 745.16,43.22 745.17,43.32 745.18,43.42 745.19,43.53 745.21,43.63 745.22,43.73 745.23,43.83 745.24,43.93 745.26,44.04 745.27,44.14 745.28,44.24 745.30,44.35 745.31,44.45 745.32,44.55 745.34,44.66 745.35,44.76 745.36,44.87 745.38,44.98 745.39,45.08 745.41,45.19 745.42,45.30 745.44,45.40 745.45,45.51 745.47,45.62 745.48,45.73 745.50,45.84 745.51,45.95 745.53,46.06 745.54,46.17 745.56,46.28 745.58,46.39 745.59,46.50 745.61,46.61 745.63,46.73 745.64,46.84 745.66,46.95 745.68,47.07 745.69,47.18 745.71,47.29 745.73,47.41 745.75,47.52 745.77,47.64 745.78,47.76 745.80,47.87 745.82,47.99 745.84,48.11 745.86,48.22 745.88,48.34 745.90,48.46 745.92,48.58 745.94,48.70 745.96,48.82 745.98,48.94 746.00,49.06 746.02,49.18 746.04,49.30 746.06,49.42 746.08,49.54 746.10,49.67 746.13,49.79 746.15,49.91 746.17,50.04 746.19,50.16 746.22,50.28 746.24,50.41 746.26,50.53 746.29,50.66 746.31,50.79 746.33,50.91 746.36,51.04 746.38,51.17 746.41,51.30 746.43,51.42 746.46,51.55 746.48,51.68 746.51,51.81 746.53,51.94 746.56,52.07 746.59,52.20 746.61,52.34 746.64,52.47 746.67,52.60 746.70,52.73 746.72,52.87 746.75,53.00 746.78,53.13 746.81,53.27 746.84,53.40 746.87,53.54 746.90,53.67 746.93,53.81 746.96,53.95 746.99,54.08 747.02,54.22 747.05,54.36 747.08,54.50 747.11,54.64 747.15,54.77 747.18,54.91 747.21,55.05 747.24,55.20 747.28,55.34 747.31,55.48 747.35,55.62 747.38,55.76 747.42,55.91 747.45,56.05 747.49,56.19 747.52,56.34 747.56,56.48 747.60,56.63 747.63,56.77 747.67,56.92 747.71,57.06 747.75,57.21 747.79,57.36 747.83,57.51 747.87,57.66 747.91,57.80 747.95,57.95 747.99,58.10 748.03,58.25 748.07,58.40 748.11,58.56 748.16,58.71 748.20,58.86 748.24,59.01 748.29,59.17 748.33,59.32 748.38,59.47 748.42,59.63 748.47,59.78 748.51,59.94 748.56,60.09 748.61,60.25 748.65,60.41 748.70,60.56 748.75,60.72 748.80,60.88 748.85,61.04 748.90,61.20 748.95,61.36 749.00,61.52 749.05,61.68 749.11,61.84 749.16,62.00 749.21,62.16 749.27,62.33 749.32,62.49 749.38,62.65 749.43,62.82 749.49,62.98 749.55,63.15 749.60,63.31 749.66,63.48 749.72,63.65 749.78,63.81 749.84,63.98 749.90,64.15 749.96,64.32 750.02,64.49 750.08,64.66 750.15,64.83 750.21,65.00 750.28,65.17 750.34,65.34 750.41,65.51 750.47,65.68 750.54,65.86 750.61,66.03 750.68,66.21 750.75,66.38 750.82,66.56 750.89,66.73 750.96,66.91 751.03,67.08 751.10,67.26 751.18,67.44 751.25,67.62 751.33,67.80 751.40,67.98 751.48,68.16 751.56,68.34 751.63,68.52 751.71,68.70 751.79,68.88 751.87,69.06 751.96,69.25 752.04,69.43 752.12,69.62 752.21,69.80 752.29,69.99 752.38,70.17 752.46,70.36 752.55,70.55 752.64,70.73 752.73,70.92 752.82,71.11 752.91,71.30 753.00,71.49 753.10,71.68 753.19,71.87 753.29,72.06 753.38,72.26 753.48,72.45 753.58,72.64 753.68,72.84 753.78,73.03 753.88,73.22 753.98,73.42 754.08,73.62 754.19,73.81 754.29,74.01 754.40,74.21 754.51,74.41 754.62,74.61 754.73,74.81 754.84,75.01 754.95,75.21 755.06,75.41 755.18,75.61 755.29,75.81 755.41,76.02 755.53,76.22 755.65,76.43 755.77,76.63 755.89,76.84 756.02,77.04 756.14,77.25 756.27,77.46 756.39,77.67 756.52,77.88 756.65,78.09 756.78,78.30 756.91,78.51 757.05,78.72 757.18,78.93 757.32,79.15 757.46,79.36 757.60,79.57 757.74,79.79 757.88,80.00 758.02,80.22 758.17,80.44 758.32,80.66 758.46,80.87 758.61,81.09 758.77,81.31 758.92,81.53 759.07,81.76 759.23,81.98 759.39,82.20 759.55,82.42 759.71,82.65 759.87,82.87 760.04,83.10 760.20,83.32 760.37,83.55 760.54,83.78 760.71,84.01 760.88,84.24 761.06,84.47 761.24,84.70 761.41,84.93 761.59,85.16 761.78,85.39 761.96,85.63 762.15,85.86 762.34,86.10 762.53,86.34 762.72,86.57 762.91,86.81 763.11,87.05 763.30,87.29 763.50,87.53 763.71,87.77 763.91,88.01 764.12,88.25 764.33,88.50 764.54,88.74 764.75,88.99 764.96,89.24 765.18,89.48 765.40,89.73 765.62,89.98 765.85,90.23 766.07,90.48 766.30,90.73 766.53,90.98 766.77,91.24 767.00,91.49 767.24,91.75 767.48,92.00 767.72,92.26 767.97,92.52 768.22,92.78 768.47,93.04 768.72,93.30 768.98,93.56 769.24,93.83 769.50,94.09 769.76,94.36 770.03,94.62 770.30,94.89 770.57,95.16 770.85,95.43 771.13,95.70 771.41,95.97 771.69,96.24 771.98,96.52 772.27,96.79 772.56,97.07 772.86,97.35 773.16,97.63 773.46,97.91 773.76,98.19 774.07,98.47 774.38,98.75 774.70,99.04 775.02,99.32 775.34,99.61 775.66,99.90 775.99,100.19 776.32,100.48 776.66,100.77 777.00,101.06 777.34,101.36 777.68,101.65 778.03,101.95 778.39,102.25 778.74,102.55 779.10,102.85 779.47,103.16 779.83,103.46 780.20,103.77 780.58,104.08 780.96,104.38 781.34,104.69 781.73,105.01 782.12,105.32 782.51,105.64 782.91,105.95 783.32,106.27 783.72,106.59 784.14,106.91 784.55,107.24 784.97,107.56 785.40,107.89 785.83,108.22 786.26,108.55 786.70,108.88 787.14,109.21 787.59,109.55 788.04,109.89 788.49,110.23 788.95,110.57 789.42,110.91 789.89,111.26 790.37,111.61 790.85,111.96 791.33,112.31 791.82,112.66 792.32,113.02 792.82,113.38 793.33,113.74 793.84,114.10 794.35,114.46 794.87,114.83 795.40,115.20 795.93,115.57 796.47,115.95 797.02,116.32 797.57,116.70 798.12,117.08 798.68,117.47 799.25,117.85 799.82,118.24 800.40,118.64 800.98,119.03 801.57,119.43 802.17,119.83 802.77,120.23 803.38,120.64 804.00,121.05 804.62,121.46 805.25,121.87 805.88,122.29 806.52,122.71 807.17,123.14 807.83,123.56 808.49,123.99 809.15,124.43 809.83,124.86 810.51,125.31 811.20,125.75 811.90,126.20 812.60,126.65 813.31,127.10 814.03,127.56 814.76,128.02 815.49,128.49 816.23,128.96 816.98,129.43 817.73,129.91 818.50,130.39 819.27,130.88 820.05,131.37 820.84,131.86 821.63,132.36 822.44,132.86 823.25,133.37 824.07,133.88 824.90,134.40 825.74,134.92 826.59,135.44 827.44,135.97 828.31,136.51 829.18,137.05 830.06,137.59 830.96,138.14 831.86,138.70 832.77,139.26 833.69,139.82 834.62,140.39 835.56,140.97 836.50,141.55 837.46,142.13 838.43,142.72 839.41,143.32 840.40,143.93 841.40,144.53 842.41,145.15 843.43,145.77 844.46,146.40 845.50,147.03 846.55,147.67 847.61,148.31 848.69,148.96 849.77,149.62 850.87,150.29 851.97,150.96 853.09,151.63 854.22,152.32 855.36,153.01 856.52,153.71 857.68,154.41 858.86,155.12 860.05,155.84 861.25,156.57 862.47,157.30 863.70,158.04 864.94,158.79 866.19,159.55 867.46,160.31 868.74,161.08 870.03,161.86 871.33,162.65 872.65,163.44 873.99,164.24 875.33,165.05 876.69,165.87 878.07,166.70 879.46,167.54 880.86,168.38 882.28,169.23 883.71,170.10 885.16,170.97 886.62,171.85 888.10,172.74 889.60,173.63 891.10,174.54 892.63,175.46 894.17,176.38 895.72,177.32 897.30,178.26 898.88,179.22 900.49,180.18 902.11,181.16 903.75,182.14 905.40,183.14 907.08,184.14 908.77,185.16 910.47,186.18 912.20,187.22 913.94,188.27 915.70,189.33 917.48,190.39 919.28,191.47 921.10,192.57" fill="none" stroke="#ff0000" stroke-width="2.5" stroke-linejoin="round" stroke-linecap="round"/><polyline points="744.00,20.50 744.01,22.59 744.02,23.44 744.03,24.09 744.04,24.62 744.05,25.10 744.06,25.52 744.07,25.91 744.08,26.27 744.09,26.60 744.09,26.92 744.10,27.22 744.11,27.50 744.12,27.77 744.13,28.03 744.14,28.28 744.15,28.52 744.16,28.76 744.17,28.98 744.18,29.20 744.19,29.41 744.20,29.62 744.21,29.82 744.22,30.02 744.23,30.21 744.24,30.39 744.25,30.58 744.26,30.76 744.26,30.93 744.27,31.10 744.28,31.27 744.29,31.44 744.30,31.60 744.31,31.76 744.32,31.91 744.33,32.07 744.34,32.22 744.35,32.37 744.36,32.51 744.37,32.66 744.37,32.72 744.38,32.78 744.38,32.84 744.38,32.90 744.39,32.96 744.39,33.02 744.40,33.09 744.40,33.15 744.41,33.21 744.41,33.27 744.42,33.34 744.42,33.40 744.42,33.46 744.43,33.53 744.43,33.59 744.44,33.66 744.44,33.72 744.45,33.79 744.45,33.85 744.46,33.92 744.46,33.98 744.47,34.05 744.47,34.12 744.48,34.18 744.48,34.25 744.49,34.32 744.49,34.39 744.50,34.46 744.50,34.52 744.51,34.59 744.52,34.66 744.52,34.73 744.53,34.80 744.53,34.87 744.54,34.94 744.54,35.01 744.55,35.08 744.56,35.15 744.56,35.23 744.57,35.30 744.57,35.37 744.58,35.44 744.59,35.52 744.59,35.59 744.60,35.66 744.61,35.74 744.61,35.81 744.62,35.88 744.63,35.96 744.63,36.03 744.64,36.11 744.65,36.19 744.65,36.26 744.66,36.34 744.67,36.41 744.68,36.49 744.68,36.57 744.69,36.65 744.70,36.72 744.70,36.80 744.71,36.88 744.72,36.96 744.73,37.04 744.74,37.12 744.74,37.20 744.75,37.28 744.76,37.36 744.77,37.44 744.78,37.52 744.79,37.60 744.79,37.69 744.80,37.77 744.81,37.85 744.82,37.94 744.83,38.02 744.84,38.10 744.85,38.19 744.86,38.27 744.87,38.36 744.87,38.44 744.88,38.53 744.89,38.61 744.90,38.70 744.91,38.79 744.92,38.87 744.93,38.96 744.94,39.05 744.95,39.14 744.96,39.22 744.97,39.31 744.99,39.40 745.00,39.49 745.01,39.58 745.02,39.67 745.03,39.76 745.04,39.85 745.05,39.94 745.06,40.04 745.07,40.13 745.09,40.22 745.10,40.31 745.11,40.41 745.12,40.50 745.13,40.60 745.15,40.69 745.16,40.78 745.17,40.88 745.18,40.97 745.20,41.07 745.21,41.17 745.22,41.26 745.24,41.36 745.25,41.46 745.26,41.56 745.28,41.65 745.29,41.75 745.30,41.85 745.32,41.95 745.33,42.05 745.35,42.15 745.36,42.25 745.38,42.35 745.39,42.45 745.41,42.56 745.42,42.66 745.44,42.76 745.45,42.86 745.47,42.97 745.49,43.07 745.50,43.18 745.52,43.28 745.53,43.38 745.55,43.49 745.57,43.60 745.59,43.70 745.60,43.81 745.62,43.92 745.64,44.02 745.66,44.13 745.67,44.24 745.69,44.35 745.71,44.46 745.73,44.57 745.75,44.68 745.77,44.79 745.79,44.90 745.80,45.01 745.82,45.12 745.84,45.23 745.86,45.34 745.88,45.46 745.90,45.57 745.93,45.68 745.95,45.80 745.97,45.91 745.99,46.03 746.01,46.14 746.03,46.26 746.05,46.38 746.08,46.49 746.10,46.61 746.12,46.73 746.15,46.84 746.17,46.96 746.19,47.08 746.22,47.20 746.24,47.32 746.26,47.44 746.29,47.56 746.31,47.68 746.34,47.80 746.36,47.93 746.39,48.05 746.42,48.17 746.44,48.29 746.47,48.42 746.50,48.54 746.52,48.67 746.55,48.79 746.58,48.92 746.61,49.04 746.63,49.17 746.66,49.30 746.69,49.42 746.72,49.55 746.75,49.68 746.78,49.81 746.81,49.94 746.84,50.07 746.87,50.20 746.90,50.33 746.93,50.46 746.97,50.59 747.00,50.72 747.03,50.85 747.06,50.99 747.10,51.12 747.13,51.25 747.17,51.39 747.20,51.52 747.23,51.66 747.27,51.79 747.31,51.93 747.34,52.07 747.38,52.20 747.41,52.34 747.45,52.48 747.49,52.62 747.53,52.76 747.57,52.89 747.60,53.03 747.64,53.17 747.68,53.32 747.72,53.46 747.76,53.60 747.80,53.74 747.85,53.88 747.89,54.03 747.93,54.17 747.97,54.31 748.02,54.46 748.06,54.60 748.10,54.75 748.15,54.90 748.19,55.04 748.24,55.19 748.28,55.34 748.33,55.48 748.38,55.63 748.43,55.78 748.47,55.93 748.52,56.08 748.57,56.23 748.62,56.38 748.67,56.53 748.72,56.69 748.77,56.84 748.82,56.99 748.88,57.15 748.93,57.30 748.98,57.45 749.04,57.61 749.09,57.76 749.15,57.92 749.20,58.08 749.26,58.23 749.32,58.39 749.38,58.55 749.43,58.71 749.49,58.87 749.55,59.03 749.61,59.19 749.67,59.35 749.74,59.51 749.80,59.67 749.86,59.83 749.92,59.99 749.99,60.16 750.05,60.32 750.12,60.48 750.19,60.65 750.25,60.81 750.32,60.98 750.39,61.15 750.46,61.31 750.53,61.48 750.60,61.65 750.67,61.82 750.74,61.99 750.82,62.15 750.89,62.32 750.97,62.49 751.04,62.67 751.12,62.84 751.20,63.01 751.27,63.18 751.35,63.36 751.43,63.53 751.51,63.70 751.60,63.88 751.68,64.05 751.76,64.23 751.85,64.41 751.93,64.58 752.02,64.76 752.10,64.94 752.19,65.12 752.28,65.30 752.37,65.48 752.46,65.66 752.55,65.84 752.65,66.02 752.74,66.20 752.84,66.38 752.93,66.57 753.03,66.75 753.13,66.93 753.23,67.12 753.33,67.30 753.43,67.49 753.53,67.68 753.63,67.86 753.74,68.05 753.84,68.24 753.95,68.43 754.06,68.62 754.17,68.81 754.28,69.00 754.39,69.19 754.50,69.38 754.62,69.57 754.73,69.76 754.85,69.96 754.97,70.15 755.09,70.35 755.21,70.54 755.33,70.74 755.45,70.93 755.58,71.13 755.70,71.33 755.83,71.53 755.96,71.73 756.09,71.93 756.22,72.13 756.35,72.33 756.49,72.53 756.62,72.73 756.76,72.93 756.90,73.14 757.04,73.34 757.18,73.54 757.32,73.75 757.47,73.95 757.61,74.16 757.76,74.37 757.91,74.58 758.06,74.78 758.22,74.99 758.37,75.20 758.53,75.41 758.68,75.62 758.84,75.83 759.01,76.05 759.17,76.26 759.33,76.47 759.50,76.69 759.67,76.90 759.84,77.12 760.01,77.33 760.18,77.55 760.36,77.77 760.54,77.99 760.72,78.21 760.90,78.43 761.08,78.65 761.27,78.87 761.46,79.09 761.65,79.31 761.84,79.54 762.03,79.76 762.23,79.98 762.42,80.21 762.63,80.44 762.83,80.66 763.03,80.89 763.24,81.12 763.45,81.35 763.66,81.58 763.87,81.81 764.09,82.04 764.31,82.27 764.53,82.50 764.75,82.74 764.98,82.97 765.20,83.21 765.43,83.44 765.67,83.68 765.90,83.92 766.14,84.16 766.38,84.40 766.62,84.64 766.87,84.88 767.12,85.12 767.37,85.36 767.62,85.60 767.88,85.85 768.14,86.09 768.40,86.34 768.67,86.59 768.94,86.83 769.21,87.08 769.48,87.33 769.76,87.58 770.04,87.83 770.32,88.09 770.61,88.34 770.89,88.59 771.19,88.85 771.48,89.10 771.78,89.36 772.08,89.62 772.39,89.88 772.70,90.14 773.01,90.40 773.32,90.66 773.64,90.92 773.96,91.18 774.29,91.45 774.62,91.71 774.95,91.98 775.29,92.25 775.63,92.52 775.97,92.79 776.32,93.06 776.67,93.33 777.02,93.60 777.38,93.87 777.75,94.15 778.11,94.43 778.48,94.70 778.86,94.98 779.24,95.26 779.62,95.54 780.01,95.82 780.40,96.11 780.79,96.39 781.19,96.68 781.60,96.96 782.01,97.25 782.42,97.54 782.84,97.83 783.26,98.12 783.68,98.41 784.11,98.71 784.55,99.00 784.99,99.30 785.44,99.60 785.89,99.90 786.34,100.20 786.80,100.50 787.27,100.80 787.74,101.11 788.21,101.41 788.69,101.72 789.18,102.03 789.67,102.34 790.17,102.65 790.67,102.97 791.17,103.28 791.69,103.60 792.20,103.92 792.73,104.24 793.26,104.56 793.79,104.88 794.33,105.20 794.88,105.53 795.43,105.86 795.99,106.19 796.56,106.52 797.13,106.85 797.71,107.19 798.29,107.53 798.88,107.86 799.48,108.21 800.08,108.55 800.69,108.89 801.30,109.24 801.93,109.59 802.55,109.94 803.19,110.29 803.83,110.64 804.48,111.00 805.14,111.36 805.81,111.72 806.48,112.08 807.16,112.45 807.84,112.81 808.54,113.18 809.24,113.56 809.95,113.93 810.66,114.31 811.39,114.69 812.12,115.07 812.86,115.45 813.61,115.84 814.36,116.23 815.13,116.62 815.90,117.01 816.68,117.41 817.47,117.81 818.27,118.21 819.08,118.62 819.89,119.03 820.72,119.44 821.55,119.85 822.39,120.27 823.24,120.69 824.11,121.11 824.98,121.54 825.86,121.97 826.74,122.40 827.64,122.84 828.55,123.28 829.47,123.72 830.40,124.17 831.34,124.62 832.29,125.07 833.25,125.53 834.22,125.99 835.20,126.46 836.19,126.92 837.19,127.40 838.20,127.87 839.22,128.35 840.26,128.84 841.31,129.33 842.36,129.82 843.43,130.32 844.51,130.82 845.60,131.33 846.71,131.84 847.82,132.35 848.95,132.87 850.09,133.40 851.24,133.93 852.41,134.46 853.59,135.00 854.78,135.54 855.98,136.09 857.20,136.65 858.43,137.21 859.67,137.77 860.93,138.34 862.20,138.92 863.48,139.50 864.78,140.09 866.09,140.68 867.42,141.28 868.76,141.88 870.12,142.49 871.49,143.11 872.87,143.73 874.27,144.36 875.69,144.99 877.12,145.64 878.56,146.28 880.03,146.94 881.50,147.60 883.00,148.27 884.51,148.94 886.03,149.62 887.58,150.31 889.14,151.01 890.71,151.71 892.31,152.42 893.92,153.13 895.55,153.86 897.20,154.59 898.86,155.33 900.54,156.08 902.24,156.83 903.96,157.60 905.70,158.37 907.46,159.15 909.23,159.94 911.03,160.73 912.84,161.54 914.68,162.35 916.53,163.17 918.41,164.00 920.30,164.84 922.22,165.69 924.15,166.55 926.11,167.41 928.09,168.29 930.09,169.17 932.11,170.07 934.15,170.97 936.22,171.89 938.31,172.81 940.42,173.75 942.55,174.69 944.71,175.64 946.89,176.61 949.10,177.58 951.32,178.57 953.58,179.56 955.85,180.57 958.16,181.59 960.48,182.62 962.83,183.65 965.21,184.71 967.62,185.77 970.05,186.84 972.50,187.93 974.98,189.02 977.49,190.13 980.03,191.25 982.59,192.39" fill="none" stroke="#000000" stroke-width="2.5" stroke-linejoin="round" stroke-linecap="round"/></g>
<line x1="739.8" y1="20.5" x2="744" y2="20.5" stroke="#000" stroke-width="2"/>
<text transform="translate(738.4,25.4) scale(1,1.06)" font-family="Liberation Serif" stroke="#000" stroke-width="0.15" font-size="16.5" text-anchor="end" fill="#000">1</text>
<line x1="739.8" y1="98.5" x2="744" y2="98.5" stroke="#000" stroke-width="2"/>
<text transform="translate(738.4,103.4) scale(1,1.06)" font-family="Liberation Serif" stroke="#000" stroke-width="0.15" font-size="16.5" text-anchor="end" fill="#000">0.1</text>
<line x1="739.8" y1="176.5" x2="744" y2="176.5" stroke="#000" stroke-width="2"/>
<text transform="translate(738.4,181.4) scale(1,1.06)" font-family="Liberation Serif" stroke="#000" stroke-width="0.15" font-size="16.5" text-anchor="end" fill="#000">0.01</text>
<line x1="744.0" y1="223.5" x2="744.0" y2="227.6" stroke="#000" stroke-width="2"/>
<text transform="translate(743.8,240.8) scale(1,1.07)" font-family="Liberation Serif" stroke="#000" stroke-width="0.15" font-size="15.8" text-anchor="middle" fill="#000">0</text>
<line x1="780.8571428571429" y1="223.5" x2="780.8571428571429" y2="227.6" stroke="#000" stroke-width="2"/>
<text transform="translate(780.6571428571428,240.8) scale(1,1.07)" font-family="Liberation Serif" stroke="#000" stroke-width="0.15" font-size="15.8" text-anchor="middle" fill="#000">200</text>
<line x1="817.7142857142857" y1="223.5" x2="817.7142857142857" y2="227.6" stroke="#000" stroke-width="2"/>
<text transform="translate(817.5142857142856,240.8) scale(1,1.07)" font-family="Liberation Serif" stroke="#000" stroke-width="0.15" font-size="15.8" text-anchor="middle" fill="#000">400</text>
<line x1="854.5714285714286" y1="223.5" x2="854.5714285714286" y2="227.6" stroke="#000" stroke-width="2"/>
<text transform="translate(854.3714285714285,240.8) scale(1,1.07)" font-family="Liberation Serif" stroke="#000" stroke-width="0.15" font-size="15.8" text-anchor="middle" fill="#000">600</text>
<line x1="891.4285714285714" y1="223.5" x2="891.4285714285714" y2="227.6" stroke="#000" stroke-width="2"/>
<text transform="translate(891.2285714285714,240.8) scale(1,1.07)" font-family="Liberation Serif" stroke="#000" stroke-width="0.15" font-size="15.8" text-anchor="middle" fill="#000">800</text>
<line x1="928.2857142857142" y1="223.5" x2="928.2857142857142" y2="227.6" stroke="#000" stroke-width="2"/>
<text transform="translate(928.0857142857142,240.8) scale(1,1.07)" font-family="Liberation Serif" stroke="#000" stroke-width="0.15" font-size="15.8" text-anchor="middle" fill="#000">1000</text>
<line x1="965.1428571428571" y1="223.5" x2="965.1428571428571" y2="227.6" stroke="#000" stroke-width="2"/>
<text transform="translate(964.9428571428571,240.8) scale(1,1.07)" font-family="Liberation Serif" stroke="#000" stroke-width="0.15" font-size="15.8" text-anchor="middle" fill="#000">1200</text>
<line x1="1002.0" y1="223.5" x2="1002.0" y2="227.6" stroke="#000" stroke-width="2"/>
<text transform="translate(1001.8,240.8) scale(1,1.07)" font-family="Liberation Serif" stroke="#000" stroke-width="0.15" font-size="15.8" text-anchor="middle" fill="#000">1400</text>
<text transform="translate(875,263.7) scale(1,1.08)" font-family="Liberation Serif" stroke="#000" stroke-width="0.15" font-size="17" text-anchor="middle" fill="#000">Time (sec)</text>
<text transform="translate(712.5,141.2) rotate(-90)" font-family="Liberation Serif" stroke="#000" stroke-width="0.15" font-size="16.8" fill="#000">C/C<tspan font-size="9" dx="1.2" dy="6.0">0</tspan></text>
<text x="779.1999999999999" y="67.5" font-family="Liberation Serif" stroke="#000" stroke-width="0.15" font-size="16.8" fill="#000"><tspan font-style="italic">o</tspan>-xylene</text>
<line x1="852.1" y1="34.2" x2="885.4" y2="34.2" stroke="#000" stroke-width="2.2"/>
<text x="890.3" y="40.1" font-family="Liberation Serif" stroke="#000" stroke-width="0.15" font-size="16" textLength="107.5" lengthAdjust="spacingAndGlyphs" fill="#000">Theoretical curve</text>
<rect x="906.20" y="55.70" width="6.60" height="6.60" fill="none" stroke="#000000" stroke-width="1.0"/>
<text x="937.7" y="64.7" font-family="Liberation Serif" stroke="#000" stroke-width="0.15" font-size="16.9" fill="#000">Beta-0</text>
<circle cx="909.50" cy="80.20" r="3.6" fill="none" stroke="#ff0000" stroke-width="1.0"/>
<text x="937.7" y="85.5" font-family="Liberation Serif" stroke="#000" stroke-width="0.15" font-size="16.9" fill="#000">Beta-1</text>
<polygon points="909.50,96.07 914.00,104.07 905.00,104.07" fill="none" stroke="#0000ff" stroke-width="1.0"/>
<text x="937.7" y="106.30000000000001" font-family="Liberation Serif" stroke="#000" stroke-width="0.15" font-size="16.9" fill="#000">Beta-2</text>
<polygon points="909.50,127.93 914.00,119.93 905.00,119.93" fill="none" stroke="#008080" stroke-width="1.0"/>
<text x="937.7" y="127.10000000000001" font-family="Liberation Serif" stroke="#000" stroke-width="0.15" font-size="16.9" fill="#000">Beta-3</text>
</svg></body></html>
